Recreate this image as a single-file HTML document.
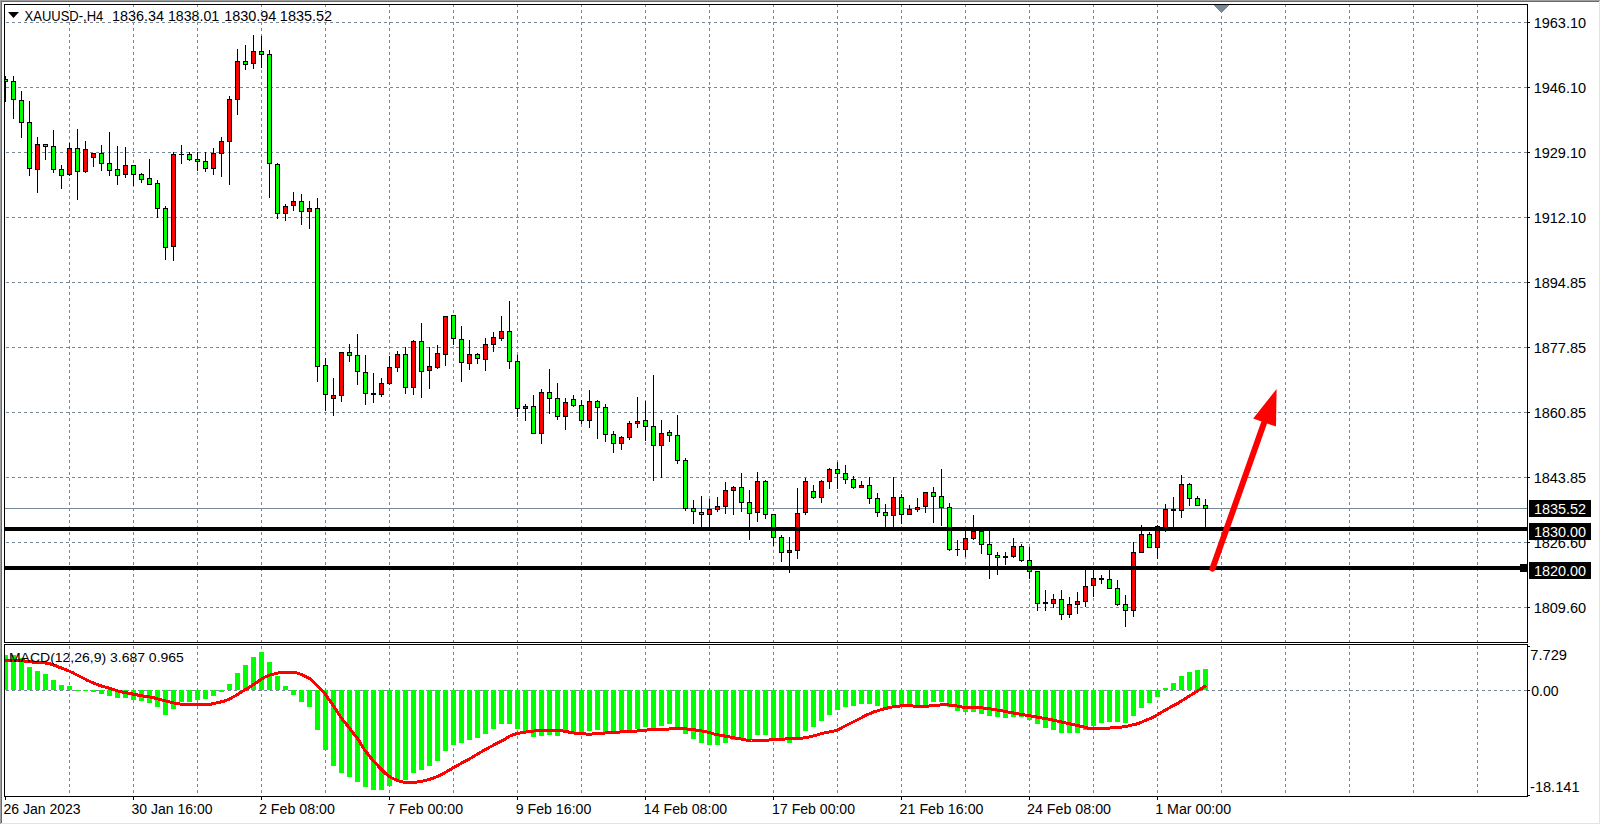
<!DOCTYPE html>
<html><head><meta charset="utf-8"><style>
html,body{margin:0;padding:0;background:#fff;width:1601px;height:825px;overflow:hidden}
svg{display:block}
text{font-family:"Liberation Sans",sans-serif}
</style></head><body>
<svg width="1601" height="825" viewBox="0 0 1601 825">
<defs><clipPath id="clipMain"><rect x="5" y="5" width="1522" height="637"/></clipPath></defs>
<rect width="1601" height="825" fill="#fff"/>
<g shape-rendering="crispEdges">
<rect x="1599" y="1" width="1" height="823" fill="#e3e3e3"/>
<rect x="1" y="823" width="1599" height="1" fill="#e3e3e3"/>
<rect x="0" y="0" width="1600" height="1" fill="#a0a0a0"/>
<rect x="0" y="0" width="1" height="824" fill="#a0a0a0"/>
<rect x="1" y="1" width="1598" height="1" fill="#696969"/>
<rect x="1" y="1" width="1" height="822" fill="#696969"/>
<path d="M69 5h1v2h-1zM69 10h1v3h-1zM69 16h1v3h-1zM69 22h1v3h-1zM69 28h1v3h-1zM69 34h1v3h-1zM69 40h1v3h-1zM69 46h1v3h-1zM69 52h1v3h-1zM69 58h1v3h-1zM69 64h1v3h-1zM69 70h1v3h-1zM69 76h1v3h-1zM69 82h1v3h-1zM69 88h1v3h-1zM69 94h1v3h-1zM69 100h1v3h-1zM69 106h1v3h-1zM69 112h1v3h-1zM69 118h1v3h-1zM69 124h1v3h-1zM69 130h1v3h-1zM69 136h1v3h-1zM69 142h1v3h-1zM69 148h1v3h-1zM69 154h1v3h-1zM69 160h1v3h-1zM69 166h1v3h-1zM69 172h1v3h-1zM69 178h1v3h-1zM69 184h1v3h-1zM69 190h1v3h-1zM69 196h1v3h-1zM69 202h1v3h-1zM69 208h1v3h-1zM69 214h1v3h-1zM69 220h1v3h-1zM69 226h1v3h-1zM69 232h1v3h-1zM69 238h1v3h-1zM69 244h1v3h-1zM69 250h1v3h-1zM69 256h1v3h-1zM69 262h1v3h-1zM69 268h1v3h-1zM69 274h1v3h-1zM69 280h1v3h-1zM69 286h1v3h-1zM69 292h1v3h-1zM69 298h1v3h-1zM69 304h1v3h-1zM69 310h1v3h-1zM69 316h1v3h-1zM69 322h1v3h-1zM69 328h1v3h-1zM69 334h1v3h-1zM69 340h1v3h-1zM69 346h1v3h-1zM69 352h1v3h-1zM69 358h1v3h-1zM69 364h1v3h-1zM69 370h1v3h-1zM69 376h1v3h-1zM69 382h1v3h-1zM69 388h1v3h-1zM69 394h1v3h-1zM69 400h1v3h-1zM69 406h1v3h-1zM69 412h1v3h-1zM69 418h1v3h-1zM69 424h1v3h-1zM69 430h1v3h-1zM69 436h1v3h-1zM69 442h1v3h-1zM69 448h1v3h-1zM69 454h1v3h-1zM69 460h1v3h-1zM69 466h1v3h-1zM69 472h1v3h-1zM69 478h1v3h-1zM69 484h1v3h-1zM69 490h1v3h-1zM69 496h1v3h-1zM69 502h1v3h-1zM69 508h1v3h-1zM69 514h1v3h-1zM69 520h1v3h-1zM69 526h1v3h-1zM69 532h1v3h-1zM69 538h1v3h-1zM69 544h1v3h-1zM69 550h1v3h-1zM69 556h1v3h-1zM69 562h1v3h-1zM69 568h1v3h-1zM69 574h1v3h-1zM69 580h1v3h-1zM69 586h1v3h-1zM69 592h1v3h-1zM69 598h1v3h-1zM69 604h1v3h-1zM69 610h1v3h-1zM69 616h1v3h-1zM69 622h1v3h-1zM69 628h1v3h-1zM69 634h1v3h-1zM69 640h1v2h-1zM69 646h1v3h-1zM69 652h1v3h-1zM69 658h1v3h-1zM69 664h1v3h-1zM69 670h1v3h-1zM69 676h1v3h-1zM69 682h1v3h-1zM69 688h1v3h-1zM69 694h1v3h-1zM69 700h1v3h-1zM69 706h1v3h-1zM69 712h1v3h-1zM69 718h1v3h-1zM69 724h1v3h-1zM69 730h1v3h-1zM69 736h1v3h-1zM69 742h1v3h-1zM69 748h1v3h-1zM69 754h1v3h-1zM69 760h1v3h-1zM69 766h1v3h-1zM69 772h1v3h-1zM69 778h1v3h-1zM69 784h1v3h-1zM69 790h1v3h-1zM133 5h1v2h-1zM133 10h1v3h-1zM133 16h1v3h-1zM133 22h1v3h-1zM133 28h1v3h-1zM133 34h1v3h-1zM133 40h1v3h-1zM133 46h1v3h-1zM133 52h1v3h-1zM133 58h1v3h-1zM133 64h1v3h-1zM133 70h1v3h-1zM133 76h1v3h-1zM133 82h1v3h-1zM133 88h1v3h-1zM133 94h1v3h-1zM133 100h1v3h-1zM133 106h1v3h-1zM133 112h1v3h-1zM133 118h1v3h-1zM133 124h1v3h-1zM133 130h1v3h-1zM133 136h1v3h-1zM133 142h1v3h-1zM133 148h1v3h-1zM133 154h1v3h-1zM133 160h1v3h-1zM133 166h1v3h-1zM133 172h1v3h-1zM133 178h1v3h-1zM133 184h1v3h-1zM133 190h1v3h-1zM133 196h1v3h-1zM133 202h1v3h-1zM133 208h1v3h-1zM133 214h1v3h-1zM133 220h1v3h-1zM133 226h1v3h-1zM133 232h1v3h-1zM133 238h1v3h-1zM133 244h1v3h-1zM133 250h1v3h-1zM133 256h1v3h-1zM133 262h1v3h-1zM133 268h1v3h-1zM133 274h1v3h-1zM133 280h1v3h-1zM133 286h1v3h-1zM133 292h1v3h-1zM133 298h1v3h-1zM133 304h1v3h-1zM133 310h1v3h-1zM133 316h1v3h-1zM133 322h1v3h-1zM133 328h1v3h-1zM133 334h1v3h-1zM133 340h1v3h-1zM133 346h1v3h-1zM133 352h1v3h-1zM133 358h1v3h-1zM133 364h1v3h-1zM133 370h1v3h-1zM133 376h1v3h-1zM133 382h1v3h-1zM133 388h1v3h-1zM133 394h1v3h-1zM133 400h1v3h-1zM133 406h1v3h-1zM133 412h1v3h-1zM133 418h1v3h-1zM133 424h1v3h-1zM133 430h1v3h-1zM133 436h1v3h-1zM133 442h1v3h-1zM133 448h1v3h-1zM133 454h1v3h-1zM133 460h1v3h-1zM133 466h1v3h-1zM133 472h1v3h-1zM133 478h1v3h-1zM133 484h1v3h-1zM133 490h1v3h-1zM133 496h1v3h-1zM133 502h1v3h-1zM133 508h1v3h-1zM133 514h1v3h-1zM133 520h1v3h-1zM133 526h1v3h-1zM133 532h1v3h-1zM133 538h1v3h-1zM133 544h1v3h-1zM133 550h1v3h-1zM133 556h1v3h-1zM133 562h1v3h-1zM133 568h1v3h-1zM133 574h1v3h-1zM133 580h1v3h-1zM133 586h1v3h-1zM133 592h1v3h-1zM133 598h1v3h-1zM133 604h1v3h-1zM133 610h1v3h-1zM133 616h1v3h-1zM133 622h1v3h-1zM133 628h1v3h-1zM133 634h1v3h-1zM133 640h1v2h-1zM133 646h1v3h-1zM133 652h1v3h-1zM133 658h1v3h-1zM133 664h1v3h-1zM133 670h1v3h-1zM133 676h1v3h-1zM133 682h1v3h-1zM133 688h1v3h-1zM133 694h1v3h-1zM133 700h1v3h-1zM133 706h1v3h-1zM133 712h1v3h-1zM133 718h1v3h-1zM133 724h1v3h-1zM133 730h1v3h-1zM133 736h1v3h-1zM133 742h1v3h-1zM133 748h1v3h-1zM133 754h1v3h-1zM133 760h1v3h-1zM133 766h1v3h-1zM133 772h1v3h-1zM133 778h1v3h-1zM133 784h1v3h-1zM133 790h1v3h-1zM197 5h1v2h-1zM197 10h1v3h-1zM197 16h1v3h-1zM197 22h1v3h-1zM197 28h1v3h-1zM197 34h1v3h-1zM197 40h1v3h-1zM197 46h1v3h-1zM197 52h1v3h-1zM197 58h1v3h-1zM197 64h1v3h-1zM197 70h1v3h-1zM197 76h1v3h-1zM197 82h1v3h-1zM197 88h1v3h-1zM197 94h1v3h-1zM197 100h1v3h-1zM197 106h1v3h-1zM197 112h1v3h-1zM197 118h1v3h-1zM197 124h1v3h-1zM197 130h1v3h-1zM197 136h1v3h-1zM197 142h1v3h-1zM197 148h1v3h-1zM197 154h1v3h-1zM197 160h1v3h-1zM197 166h1v3h-1zM197 172h1v3h-1zM197 178h1v3h-1zM197 184h1v3h-1zM197 190h1v3h-1zM197 196h1v3h-1zM197 202h1v3h-1zM197 208h1v3h-1zM197 214h1v3h-1zM197 220h1v3h-1zM197 226h1v3h-1zM197 232h1v3h-1zM197 238h1v3h-1zM197 244h1v3h-1zM197 250h1v3h-1zM197 256h1v3h-1zM197 262h1v3h-1zM197 268h1v3h-1zM197 274h1v3h-1zM197 280h1v3h-1zM197 286h1v3h-1zM197 292h1v3h-1zM197 298h1v3h-1zM197 304h1v3h-1zM197 310h1v3h-1zM197 316h1v3h-1zM197 322h1v3h-1zM197 328h1v3h-1zM197 334h1v3h-1zM197 340h1v3h-1zM197 346h1v3h-1zM197 352h1v3h-1zM197 358h1v3h-1zM197 364h1v3h-1zM197 370h1v3h-1zM197 376h1v3h-1zM197 382h1v3h-1zM197 388h1v3h-1zM197 394h1v3h-1zM197 400h1v3h-1zM197 406h1v3h-1zM197 412h1v3h-1zM197 418h1v3h-1zM197 424h1v3h-1zM197 430h1v3h-1zM197 436h1v3h-1zM197 442h1v3h-1zM197 448h1v3h-1zM197 454h1v3h-1zM197 460h1v3h-1zM197 466h1v3h-1zM197 472h1v3h-1zM197 478h1v3h-1zM197 484h1v3h-1zM197 490h1v3h-1zM197 496h1v3h-1zM197 502h1v3h-1zM197 508h1v3h-1zM197 514h1v3h-1zM197 520h1v3h-1zM197 526h1v3h-1zM197 532h1v3h-1zM197 538h1v3h-1zM197 544h1v3h-1zM197 550h1v3h-1zM197 556h1v3h-1zM197 562h1v3h-1zM197 568h1v3h-1zM197 574h1v3h-1zM197 580h1v3h-1zM197 586h1v3h-1zM197 592h1v3h-1zM197 598h1v3h-1zM197 604h1v3h-1zM197 610h1v3h-1zM197 616h1v3h-1zM197 622h1v3h-1zM197 628h1v3h-1zM197 634h1v3h-1zM197 640h1v2h-1zM197 646h1v3h-1zM197 652h1v3h-1zM197 658h1v3h-1zM197 664h1v3h-1zM197 670h1v3h-1zM197 676h1v3h-1zM197 682h1v3h-1zM197 688h1v3h-1zM197 694h1v3h-1zM197 700h1v3h-1zM197 706h1v3h-1zM197 712h1v3h-1zM197 718h1v3h-1zM197 724h1v3h-1zM197 730h1v3h-1zM197 736h1v3h-1zM197 742h1v3h-1zM197 748h1v3h-1zM197 754h1v3h-1zM197 760h1v3h-1zM197 766h1v3h-1zM197 772h1v3h-1zM197 778h1v3h-1zM197 784h1v3h-1zM197 790h1v3h-1zM261 5h1v2h-1zM261 10h1v3h-1zM261 16h1v3h-1zM261 22h1v3h-1zM261 28h1v3h-1zM261 34h1v3h-1zM261 40h1v3h-1zM261 46h1v3h-1zM261 52h1v3h-1zM261 58h1v3h-1zM261 64h1v3h-1zM261 70h1v3h-1zM261 76h1v3h-1zM261 82h1v3h-1zM261 88h1v3h-1zM261 94h1v3h-1zM261 100h1v3h-1zM261 106h1v3h-1zM261 112h1v3h-1zM261 118h1v3h-1zM261 124h1v3h-1zM261 130h1v3h-1zM261 136h1v3h-1zM261 142h1v3h-1zM261 148h1v3h-1zM261 154h1v3h-1zM261 160h1v3h-1zM261 166h1v3h-1zM261 172h1v3h-1zM261 178h1v3h-1zM261 184h1v3h-1zM261 190h1v3h-1zM261 196h1v3h-1zM261 202h1v3h-1zM261 208h1v3h-1zM261 214h1v3h-1zM261 220h1v3h-1zM261 226h1v3h-1zM261 232h1v3h-1zM261 238h1v3h-1zM261 244h1v3h-1zM261 250h1v3h-1zM261 256h1v3h-1zM261 262h1v3h-1zM261 268h1v3h-1zM261 274h1v3h-1zM261 280h1v3h-1zM261 286h1v3h-1zM261 292h1v3h-1zM261 298h1v3h-1zM261 304h1v3h-1zM261 310h1v3h-1zM261 316h1v3h-1zM261 322h1v3h-1zM261 328h1v3h-1zM261 334h1v3h-1zM261 340h1v3h-1zM261 346h1v3h-1zM261 352h1v3h-1zM261 358h1v3h-1zM261 364h1v3h-1zM261 370h1v3h-1zM261 376h1v3h-1zM261 382h1v3h-1zM261 388h1v3h-1zM261 394h1v3h-1zM261 400h1v3h-1zM261 406h1v3h-1zM261 412h1v3h-1zM261 418h1v3h-1zM261 424h1v3h-1zM261 430h1v3h-1zM261 436h1v3h-1zM261 442h1v3h-1zM261 448h1v3h-1zM261 454h1v3h-1zM261 460h1v3h-1zM261 466h1v3h-1zM261 472h1v3h-1zM261 478h1v3h-1zM261 484h1v3h-1zM261 490h1v3h-1zM261 496h1v3h-1zM261 502h1v3h-1zM261 508h1v3h-1zM261 514h1v3h-1zM261 520h1v3h-1zM261 526h1v3h-1zM261 532h1v3h-1zM261 538h1v3h-1zM261 544h1v3h-1zM261 550h1v3h-1zM261 556h1v3h-1zM261 562h1v3h-1zM261 568h1v3h-1zM261 574h1v3h-1zM261 580h1v3h-1zM261 586h1v3h-1zM261 592h1v3h-1zM261 598h1v3h-1zM261 604h1v3h-1zM261 610h1v3h-1zM261 616h1v3h-1zM261 622h1v3h-1zM261 628h1v3h-1zM261 634h1v3h-1zM261 640h1v2h-1zM261 646h1v3h-1zM261 652h1v3h-1zM261 658h1v3h-1zM261 664h1v3h-1zM261 670h1v3h-1zM261 676h1v3h-1zM261 682h1v3h-1zM261 688h1v3h-1zM261 694h1v3h-1zM261 700h1v3h-1zM261 706h1v3h-1zM261 712h1v3h-1zM261 718h1v3h-1zM261 724h1v3h-1zM261 730h1v3h-1zM261 736h1v3h-1zM261 742h1v3h-1zM261 748h1v3h-1zM261 754h1v3h-1zM261 760h1v3h-1zM261 766h1v3h-1zM261 772h1v3h-1zM261 778h1v3h-1zM261 784h1v3h-1zM261 790h1v3h-1zM325 5h1v2h-1zM325 10h1v3h-1zM325 16h1v3h-1zM325 22h1v3h-1zM325 28h1v3h-1zM325 34h1v3h-1zM325 40h1v3h-1zM325 46h1v3h-1zM325 52h1v3h-1zM325 58h1v3h-1zM325 64h1v3h-1zM325 70h1v3h-1zM325 76h1v3h-1zM325 82h1v3h-1zM325 88h1v3h-1zM325 94h1v3h-1zM325 100h1v3h-1zM325 106h1v3h-1zM325 112h1v3h-1zM325 118h1v3h-1zM325 124h1v3h-1zM325 130h1v3h-1zM325 136h1v3h-1zM325 142h1v3h-1zM325 148h1v3h-1zM325 154h1v3h-1zM325 160h1v3h-1zM325 166h1v3h-1zM325 172h1v3h-1zM325 178h1v3h-1zM325 184h1v3h-1zM325 190h1v3h-1zM325 196h1v3h-1zM325 202h1v3h-1zM325 208h1v3h-1zM325 214h1v3h-1zM325 220h1v3h-1zM325 226h1v3h-1zM325 232h1v3h-1zM325 238h1v3h-1zM325 244h1v3h-1zM325 250h1v3h-1zM325 256h1v3h-1zM325 262h1v3h-1zM325 268h1v3h-1zM325 274h1v3h-1zM325 280h1v3h-1zM325 286h1v3h-1zM325 292h1v3h-1zM325 298h1v3h-1zM325 304h1v3h-1zM325 310h1v3h-1zM325 316h1v3h-1zM325 322h1v3h-1zM325 328h1v3h-1zM325 334h1v3h-1zM325 340h1v3h-1zM325 346h1v3h-1zM325 352h1v3h-1zM325 358h1v3h-1zM325 364h1v3h-1zM325 370h1v3h-1zM325 376h1v3h-1zM325 382h1v3h-1zM325 388h1v3h-1zM325 394h1v3h-1zM325 400h1v3h-1zM325 406h1v3h-1zM325 412h1v3h-1zM325 418h1v3h-1zM325 424h1v3h-1zM325 430h1v3h-1zM325 436h1v3h-1zM325 442h1v3h-1zM325 448h1v3h-1zM325 454h1v3h-1zM325 460h1v3h-1zM325 466h1v3h-1zM325 472h1v3h-1zM325 478h1v3h-1zM325 484h1v3h-1zM325 490h1v3h-1zM325 496h1v3h-1zM325 502h1v3h-1zM325 508h1v3h-1zM325 514h1v3h-1zM325 520h1v3h-1zM325 526h1v3h-1zM325 532h1v3h-1zM325 538h1v3h-1zM325 544h1v3h-1zM325 550h1v3h-1zM325 556h1v3h-1zM325 562h1v3h-1zM325 568h1v3h-1zM325 574h1v3h-1zM325 580h1v3h-1zM325 586h1v3h-1zM325 592h1v3h-1zM325 598h1v3h-1zM325 604h1v3h-1zM325 610h1v3h-1zM325 616h1v3h-1zM325 622h1v3h-1zM325 628h1v3h-1zM325 634h1v3h-1zM325 640h1v2h-1zM325 646h1v3h-1zM325 652h1v3h-1zM325 658h1v3h-1zM325 664h1v3h-1zM325 670h1v3h-1zM325 676h1v3h-1zM325 682h1v3h-1zM325 688h1v3h-1zM325 694h1v3h-1zM325 700h1v3h-1zM325 706h1v3h-1zM325 712h1v3h-1zM325 718h1v3h-1zM325 724h1v3h-1zM325 730h1v3h-1zM325 736h1v3h-1zM325 742h1v3h-1zM325 748h1v3h-1zM325 754h1v3h-1zM325 760h1v3h-1zM325 766h1v3h-1zM325 772h1v3h-1zM325 778h1v3h-1zM325 784h1v3h-1zM325 790h1v3h-1zM389 5h1v2h-1zM389 10h1v3h-1zM389 16h1v3h-1zM389 22h1v3h-1zM389 28h1v3h-1zM389 34h1v3h-1zM389 40h1v3h-1zM389 46h1v3h-1zM389 52h1v3h-1zM389 58h1v3h-1zM389 64h1v3h-1zM389 70h1v3h-1zM389 76h1v3h-1zM389 82h1v3h-1zM389 88h1v3h-1zM389 94h1v3h-1zM389 100h1v3h-1zM389 106h1v3h-1zM389 112h1v3h-1zM389 118h1v3h-1zM389 124h1v3h-1zM389 130h1v3h-1zM389 136h1v3h-1zM389 142h1v3h-1zM389 148h1v3h-1zM389 154h1v3h-1zM389 160h1v3h-1zM389 166h1v3h-1zM389 172h1v3h-1zM389 178h1v3h-1zM389 184h1v3h-1zM389 190h1v3h-1zM389 196h1v3h-1zM389 202h1v3h-1zM389 208h1v3h-1zM389 214h1v3h-1zM389 220h1v3h-1zM389 226h1v3h-1zM389 232h1v3h-1zM389 238h1v3h-1zM389 244h1v3h-1zM389 250h1v3h-1zM389 256h1v3h-1zM389 262h1v3h-1zM389 268h1v3h-1zM389 274h1v3h-1zM389 280h1v3h-1zM389 286h1v3h-1zM389 292h1v3h-1zM389 298h1v3h-1zM389 304h1v3h-1zM389 310h1v3h-1zM389 316h1v3h-1zM389 322h1v3h-1zM389 328h1v3h-1zM389 334h1v3h-1zM389 340h1v3h-1zM389 346h1v3h-1zM389 352h1v3h-1zM389 358h1v3h-1zM389 364h1v3h-1zM389 370h1v3h-1zM389 376h1v3h-1zM389 382h1v3h-1zM389 388h1v3h-1zM389 394h1v3h-1zM389 400h1v3h-1zM389 406h1v3h-1zM389 412h1v3h-1zM389 418h1v3h-1zM389 424h1v3h-1zM389 430h1v3h-1zM389 436h1v3h-1zM389 442h1v3h-1zM389 448h1v3h-1zM389 454h1v3h-1zM389 460h1v3h-1zM389 466h1v3h-1zM389 472h1v3h-1zM389 478h1v3h-1zM389 484h1v3h-1zM389 490h1v3h-1zM389 496h1v3h-1zM389 502h1v3h-1zM389 508h1v3h-1zM389 514h1v3h-1zM389 520h1v3h-1zM389 526h1v3h-1zM389 532h1v3h-1zM389 538h1v3h-1zM389 544h1v3h-1zM389 550h1v3h-1zM389 556h1v3h-1zM389 562h1v3h-1zM389 568h1v3h-1zM389 574h1v3h-1zM389 580h1v3h-1zM389 586h1v3h-1zM389 592h1v3h-1zM389 598h1v3h-1zM389 604h1v3h-1zM389 610h1v3h-1zM389 616h1v3h-1zM389 622h1v3h-1zM389 628h1v3h-1zM389 634h1v3h-1zM389 640h1v2h-1zM389 646h1v3h-1zM389 652h1v3h-1zM389 658h1v3h-1zM389 664h1v3h-1zM389 670h1v3h-1zM389 676h1v3h-1zM389 682h1v3h-1zM389 688h1v3h-1zM389 694h1v3h-1zM389 700h1v3h-1zM389 706h1v3h-1zM389 712h1v3h-1zM389 718h1v3h-1zM389 724h1v3h-1zM389 730h1v3h-1zM389 736h1v3h-1zM389 742h1v3h-1zM389 748h1v3h-1zM389 754h1v3h-1zM389 760h1v3h-1zM389 766h1v3h-1zM389 772h1v3h-1zM389 778h1v3h-1zM389 784h1v3h-1zM389 790h1v3h-1zM453 5h1v2h-1zM453 10h1v3h-1zM453 16h1v3h-1zM453 22h1v3h-1zM453 28h1v3h-1zM453 34h1v3h-1zM453 40h1v3h-1zM453 46h1v3h-1zM453 52h1v3h-1zM453 58h1v3h-1zM453 64h1v3h-1zM453 70h1v3h-1zM453 76h1v3h-1zM453 82h1v3h-1zM453 88h1v3h-1zM453 94h1v3h-1zM453 100h1v3h-1zM453 106h1v3h-1zM453 112h1v3h-1zM453 118h1v3h-1zM453 124h1v3h-1zM453 130h1v3h-1zM453 136h1v3h-1zM453 142h1v3h-1zM453 148h1v3h-1zM453 154h1v3h-1zM453 160h1v3h-1zM453 166h1v3h-1zM453 172h1v3h-1zM453 178h1v3h-1zM453 184h1v3h-1zM453 190h1v3h-1zM453 196h1v3h-1zM453 202h1v3h-1zM453 208h1v3h-1zM453 214h1v3h-1zM453 220h1v3h-1zM453 226h1v3h-1zM453 232h1v3h-1zM453 238h1v3h-1zM453 244h1v3h-1zM453 250h1v3h-1zM453 256h1v3h-1zM453 262h1v3h-1zM453 268h1v3h-1zM453 274h1v3h-1zM453 280h1v3h-1zM453 286h1v3h-1zM453 292h1v3h-1zM453 298h1v3h-1zM453 304h1v3h-1zM453 310h1v3h-1zM453 316h1v3h-1zM453 322h1v3h-1zM453 328h1v3h-1zM453 334h1v3h-1zM453 340h1v3h-1zM453 346h1v3h-1zM453 352h1v3h-1zM453 358h1v3h-1zM453 364h1v3h-1zM453 370h1v3h-1zM453 376h1v3h-1zM453 382h1v3h-1zM453 388h1v3h-1zM453 394h1v3h-1zM453 400h1v3h-1zM453 406h1v3h-1zM453 412h1v3h-1zM453 418h1v3h-1zM453 424h1v3h-1zM453 430h1v3h-1zM453 436h1v3h-1zM453 442h1v3h-1zM453 448h1v3h-1zM453 454h1v3h-1zM453 460h1v3h-1zM453 466h1v3h-1zM453 472h1v3h-1zM453 478h1v3h-1zM453 484h1v3h-1zM453 490h1v3h-1zM453 496h1v3h-1zM453 502h1v3h-1zM453 508h1v3h-1zM453 514h1v3h-1zM453 520h1v3h-1zM453 526h1v3h-1zM453 532h1v3h-1zM453 538h1v3h-1zM453 544h1v3h-1zM453 550h1v3h-1zM453 556h1v3h-1zM453 562h1v3h-1zM453 568h1v3h-1zM453 574h1v3h-1zM453 580h1v3h-1zM453 586h1v3h-1zM453 592h1v3h-1zM453 598h1v3h-1zM453 604h1v3h-1zM453 610h1v3h-1zM453 616h1v3h-1zM453 622h1v3h-1zM453 628h1v3h-1zM453 634h1v3h-1zM453 640h1v2h-1zM453 646h1v3h-1zM453 652h1v3h-1zM453 658h1v3h-1zM453 664h1v3h-1zM453 670h1v3h-1zM453 676h1v3h-1zM453 682h1v3h-1zM453 688h1v3h-1zM453 694h1v3h-1zM453 700h1v3h-1zM453 706h1v3h-1zM453 712h1v3h-1zM453 718h1v3h-1zM453 724h1v3h-1zM453 730h1v3h-1zM453 736h1v3h-1zM453 742h1v3h-1zM453 748h1v3h-1zM453 754h1v3h-1zM453 760h1v3h-1zM453 766h1v3h-1zM453 772h1v3h-1zM453 778h1v3h-1zM453 784h1v3h-1zM453 790h1v3h-1zM517 5h1v2h-1zM517 10h1v3h-1zM517 16h1v3h-1zM517 22h1v3h-1zM517 28h1v3h-1zM517 34h1v3h-1zM517 40h1v3h-1zM517 46h1v3h-1zM517 52h1v3h-1zM517 58h1v3h-1zM517 64h1v3h-1zM517 70h1v3h-1zM517 76h1v3h-1zM517 82h1v3h-1zM517 88h1v3h-1zM517 94h1v3h-1zM517 100h1v3h-1zM517 106h1v3h-1zM517 112h1v3h-1zM517 118h1v3h-1zM517 124h1v3h-1zM517 130h1v3h-1zM517 136h1v3h-1zM517 142h1v3h-1zM517 148h1v3h-1zM517 154h1v3h-1zM517 160h1v3h-1zM517 166h1v3h-1zM517 172h1v3h-1zM517 178h1v3h-1zM517 184h1v3h-1zM517 190h1v3h-1zM517 196h1v3h-1zM517 202h1v3h-1zM517 208h1v3h-1zM517 214h1v3h-1zM517 220h1v3h-1zM517 226h1v3h-1zM517 232h1v3h-1zM517 238h1v3h-1zM517 244h1v3h-1zM517 250h1v3h-1zM517 256h1v3h-1zM517 262h1v3h-1zM517 268h1v3h-1zM517 274h1v3h-1zM517 280h1v3h-1zM517 286h1v3h-1zM517 292h1v3h-1zM517 298h1v3h-1zM517 304h1v3h-1zM517 310h1v3h-1zM517 316h1v3h-1zM517 322h1v3h-1zM517 328h1v3h-1zM517 334h1v3h-1zM517 340h1v3h-1zM517 346h1v3h-1zM517 352h1v3h-1zM517 358h1v3h-1zM517 364h1v3h-1zM517 370h1v3h-1zM517 376h1v3h-1zM517 382h1v3h-1zM517 388h1v3h-1zM517 394h1v3h-1zM517 400h1v3h-1zM517 406h1v3h-1zM517 412h1v3h-1zM517 418h1v3h-1zM517 424h1v3h-1zM517 430h1v3h-1zM517 436h1v3h-1zM517 442h1v3h-1zM517 448h1v3h-1zM517 454h1v3h-1zM517 460h1v3h-1zM517 466h1v3h-1zM517 472h1v3h-1zM517 478h1v3h-1zM517 484h1v3h-1zM517 490h1v3h-1zM517 496h1v3h-1zM517 502h1v3h-1zM517 508h1v3h-1zM517 514h1v3h-1zM517 520h1v3h-1zM517 526h1v3h-1zM517 532h1v3h-1zM517 538h1v3h-1zM517 544h1v3h-1zM517 550h1v3h-1zM517 556h1v3h-1zM517 562h1v3h-1zM517 568h1v3h-1zM517 574h1v3h-1zM517 580h1v3h-1zM517 586h1v3h-1zM517 592h1v3h-1zM517 598h1v3h-1zM517 604h1v3h-1zM517 610h1v3h-1zM517 616h1v3h-1zM517 622h1v3h-1zM517 628h1v3h-1zM517 634h1v3h-1zM517 640h1v2h-1zM517 646h1v3h-1zM517 652h1v3h-1zM517 658h1v3h-1zM517 664h1v3h-1zM517 670h1v3h-1zM517 676h1v3h-1zM517 682h1v3h-1zM517 688h1v3h-1zM517 694h1v3h-1zM517 700h1v3h-1zM517 706h1v3h-1zM517 712h1v3h-1zM517 718h1v3h-1zM517 724h1v3h-1zM517 730h1v3h-1zM517 736h1v3h-1zM517 742h1v3h-1zM517 748h1v3h-1zM517 754h1v3h-1zM517 760h1v3h-1zM517 766h1v3h-1zM517 772h1v3h-1zM517 778h1v3h-1zM517 784h1v3h-1zM517 790h1v3h-1zM581 5h1v2h-1zM581 10h1v3h-1zM581 16h1v3h-1zM581 22h1v3h-1zM581 28h1v3h-1zM581 34h1v3h-1zM581 40h1v3h-1zM581 46h1v3h-1zM581 52h1v3h-1zM581 58h1v3h-1zM581 64h1v3h-1zM581 70h1v3h-1zM581 76h1v3h-1zM581 82h1v3h-1zM581 88h1v3h-1zM581 94h1v3h-1zM581 100h1v3h-1zM581 106h1v3h-1zM581 112h1v3h-1zM581 118h1v3h-1zM581 124h1v3h-1zM581 130h1v3h-1zM581 136h1v3h-1zM581 142h1v3h-1zM581 148h1v3h-1zM581 154h1v3h-1zM581 160h1v3h-1zM581 166h1v3h-1zM581 172h1v3h-1zM581 178h1v3h-1zM581 184h1v3h-1zM581 190h1v3h-1zM581 196h1v3h-1zM581 202h1v3h-1zM581 208h1v3h-1zM581 214h1v3h-1zM581 220h1v3h-1zM581 226h1v3h-1zM581 232h1v3h-1zM581 238h1v3h-1zM581 244h1v3h-1zM581 250h1v3h-1zM581 256h1v3h-1zM581 262h1v3h-1zM581 268h1v3h-1zM581 274h1v3h-1zM581 280h1v3h-1zM581 286h1v3h-1zM581 292h1v3h-1zM581 298h1v3h-1zM581 304h1v3h-1zM581 310h1v3h-1zM581 316h1v3h-1zM581 322h1v3h-1zM581 328h1v3h-1zM581 334h1v3h-1zM581 340h1v3h-1zM581 346h1v3h-1zM581 352h1v3h-1zM581 358h1v3h-1zM581 364h1v3h-1zM581 370h1v3h-1zM581 376h1v3h-1zM581 382h1v3h-1zM581 388h1v3h-1zM581 394h1v3h-1zM581 400h1v3h-1zM581 406h1v3h-1zM581 412h1v3h-1zM581 418h1v3h-1zM581 424h1v3h-1zM581 430h1v3h-1zM581 436h1v3h-1zM581 442h1v3h-1zM581 448h1v3h-1zM581 454h1v3h-1zM581 460h1v3h-1zM581 466h1v3h-1zM581 472h1v3h-1zM581 478h1v3h-1zM581 484h1v3h-1zM581 490h1v3h-1zM581 496h1v3h-1zM581 502h1v3h-1zM581 508h1v3h-1zM581 514h1v3h-1zM581 520h1v3h-1zM581 526h1v3h-1zM581 532h1v3h-1zM581 538h1v3h-1zM581 544h1v3h-1zM581 550h1v3h-1zM581 556h1v3h-1zM581 562h1v3h-1zM581 568h1v3h-1zM581 574h1v3h-1zM581 580h1v3h-1zM581 586h1v3h-1zM581 592h1v3h-1zM581 598h1v3h-1zM581 604h1v3h-1zM581 610h1v3h-1zM581 616h1v3h-1zM581 622h1v3h-1zM581 628h1v3h-1zM581 634h1v3h-1zM581 640h1v2h-1zM581 646h1v3h-1zM581 652h1v3h-1zM581 658h1v3h-1zM581 664h1v3h-1zM581 670h1v3h-1zM581 676h1v3h-1zM581 682h1v3h-1zM581 688h1v3h-1zM581 694h1v3h-1zM581 700h1v3h-1zM581 706h1v3h-1zM581 712h1v3h-1zM581 718h1v3h-1zM581 724h1v3h-1zM581 730h1v3h-1zM581 736h1v3h-1zM581 742h1v3h-1zM581 748h1v3h-1zM581 754h1v3h-1zM581 760h1v3h-1zM581 766h1v3h-1zM581 772h1v3h-1zM581 778h1v3h-1zM581 784h1v3h-1zM581 790h1v3h-1zM645 5h1v2h-1zM645 10h1v3h-1zM645 16h1v3h-1zM645 22h1v3h-1zM645 28h1v3h-1zM645 34h1v3h-1zM645 40h1v3h-1zM645 46h1v3h-1zM645 52h1v3h-1zM645 58h1v3h-1zM645 64h1v3h-1zM645 70h1v3h-1zM645 76h1v3h-1zM645 82h1v3h-1zM645 88h1v3h-1zM645 94h1v3h-1zM645 100h1v3h-1zM645 106h1v3h-1zM645 112h1v3h-1zM645 118h1v3h-1zM645 124h1v3h-1zM645 130h1v3h-1zM645 136h1v3h-1zM645 142h1v3h-1zM645 148h1v3h-1zM645 154h1v3h-1zM645 160h1v3h-1zM645 166h1v3h-1zM645 172h1v3h-1zM645 178h1v3h-1zM645 184h1v3h-1zM645 190h1v3h-1zM645 196h1v3h-1zM645 202h1v3h-1zM645 208h1v3h-1zM645 214h1v3h-1zM645 220h1v3h-1zM645 226h1v3h-1zM645 232h1v3h-1zM645 238h1v3h-1zM645 244h1v3h-1zM645 250h1v3h-1zM645 256h1v3h-1zM645 262h1v3h-1zM645 268h1v3h-1zM645 274h1v3h-1zM645 280h1v3h-1zM645 286h1v3h-1zM645 292h1v3h-1zM645 298h1v3h-1zM645 304h1v3h-1zM645 310h1v3h-1zM645 316h1v3h-1zM645 322h1v3h-1zM645 328h1v3h-1zM645 334h1v3h-1zM645 340h1v3h-1zM645 346h1v3h-1zM645 352h1v3h-1zM645 358h1v3h-1zM645 364h1v3h-1zM645 370h1v3h-1zM645 376h1v3h-1zM645 382h1v3h-1zM645 388h1v3h-1zM645 394h1v3h-1zM645 400h1v3h-1zM645 406h1v3h-1zM645 412h1v3h-1zM645 418h1v3h-1zM645 424h1v3h-1zM645 430h1v3h-1zM645 436h1v3h-1zM645 442h1v3h-1zM645 448h1v3h-1zM645 454h1v3h-1zM645 460h1v3h-1zM645 466h1v3h-1zM645 472h1v3h-1zM645 478h1v3h-1zM645 484h1v3h-1zM645 490h1v3h-1zM645 496h1v3h-1zM645 502h1v3h-1zM645 508h1v3h-1zM645 514h1v3h-1zM645 520h1v3h-1zM645 526h1v3h-1zM645 532h1v3h-1zM645 538h1v3h-1zM645 544h1v3h-1zM645 550h1v3h-1zM645 556h1v3h-1zM645 562h1v3h-1zM645 568h1v3h-1zM645 574h1v3h-1zM645 580h1v3h-1zM645 586h1v3h-1zM645 592h1v3h-1zM645 598h1v3h-1zM645 604h1v3h-1zM645 610h1v3h-1zM645 616h1v3h-1zM645 622h1v3h-1zM645 628h1v3h-1zM645 634h1v3h-1zM645 640h1v2h-1zM645 646h1v3h-1zM645 652h1v3h-1zM645 658h1v3h-1zM645 664h1v3h-1zM645 670h1v3h-1zM645 676h1v3h-1zM645 682h1v3h-1zM645 688h1v3h-1zM645 694h1v3h-1zM645 700h1v3h-1zM645 706h1v3h-1zM645 712h1v3h-1zM645 718h1v3h-1zM645 724h1v3h-1zM645 730h1v3h-1zM645 736h1v3h-1zM645 742h1v3h-1zM645 748h1v3h-1zM645 754h1v3h-1zM645 760h1v3h-1zM645 766h1v3h-1zM645 772h1v3h-1zM645 778h1v3h-1zM645 784h1v3h-1zM645 790h1v3h-1zM709 5h1v2h-1zM709 10h1v3h-1zM709 16h1v3h-1zM709 22h1v3h-1zM709 28h1v3h-1zM709 34h1v3h-1zM709 40h1v3h-1zM709 46h1v3h-1zM709 52h1v3h-1zM709 58h1v3h-1zM709 64h1v3h-1zM709 70h1v3h-1zM709 76h1v3h-1zM709 82h1v3h-1zM709 88h1v3h-1zM709 94h1v3h-1zM709 100h1v3h-1zM709 106h1v3h-1zM709 112h1v3h-1zM709 118h1v3h-1zM709 124h1v3h-1zM709 130h1v3h-1zM709 136h1v3h-1zM709 142h1v3h-1zM709 148h1v3h-1zM709 154h1v3h-1zM709 160h1v3h-1zM709 166h1v3h-1zM709 172h1v3h-1zM709 178h1v3h-1zM709 184h1v3h-1zM709 190h1v3h-1zM709 196h1v3h-1zM709 202h1v3h-1zM709 208h1v3h-1zM709 214h1v3h-1zM709 220h1v3h-1zM709 226h1v3h-1zM709 232h1v3h-1zM709 238h1v3h-1zM709 244h1v3h-1zM709 250h1v3h-1zM709 256h1v3h-1zM709 262h1v3h-1zM709 268h1v3h-1zM709 274h1v3h-1zM709 280h1v3h-1zM709 286h1v3h-1zM709 292h1v3h-1zM709 298h1v3h-1zM709 304h1v3h-1zM709 310h1v3h-1zM709 316h1v3h-1zM709 322h1v3h-1zM709 328h1v3h-1zM709 334h1v3h-1zM709 340h1v3h-1zM709 346h1v3h-1zM709 352h1v3h-1zM709 358h1v3h-1zM709 364h1v3h-1zM709 370h1v3h-1zM709 376h1v3h-1zM709 382h1v3h-1zM709 388h1v3h-1zM709 394h1v3h-1zM709 400h1v3h-1zM709 406h1v3h-1zM709 412h1v3h-1zM709 418h1v3h-1zM709 424h1v3h-1zM709 430h1v3h-1zM709 436h1v3h-1zM709 442h1v3h-1zM709 448h1v3h-1zM709 454h1v3h-1zM709 460h1v3h-1zM709 466h1v3h-1zM709 472h1v3h-1zM709 478h1v3h-1zM709 484h1v3h-1zM709 490h1v3h-1zM709 496h1v3h-1zM709 502h1v3h-1zM709 508h1v3h-1zM709 514h1v3h-1zM709 520h1v3h-1zM709 526h1v3h-1zM709 532h1v3h-1zM709 538h1v3h-1zM709 544h1v3h-1zM709 550h1v3h-1zM709 556h1v3h-1zM709 562h1v3h-1zM709 568h1v3h-1zM709 574h1v3h-1zM709 580h1v3h-1zM709 586h1v3h-1zM709 592h1v3h-1zM709 598h1v3h-1zM709 604h1v3h-1zM709 610h1v3h-1zM709 616h1v3h-1zM709 622h1v3h-1zM709 628h1v3h-1zM709 634h1v3h-1zM709 640h1v2h-1zM709 646h1v3h-1zM709 652h1v3h-1zM709 658h1v3h-1zM709 664h1v3h-1zM709 670h1v3h-1zM709 676h1v3h-1zM709 682h1v3h-1zM709 688h1v3h-1zM709 694h1v3h-1zM709 700h1v3h-1zM709 706h1v3h-1zM709 712h1v3h-1zM709 718h1v3h-1zM709 724h1v3h-1zM709 730h1v3h-1zM709 736h1v3h-1zM709 742h1v3h-1zM709 748h1v3h-1zM709 754h1v3h-1zM709 760h1v3h-1zM709 766h1v3h-1zM709 772h1v3h-1zM709 778h1v3h-1zM709 784h1v3h-1zM709 790h1v3h-1zM773 5h1v2h-1zM773 10h1v3h-1zM773 16h1v3h-1zM773 22h1v3h-1zM773 28h1v3h-1zM773 34h1v3h-1zM773 40h1v3h-1zM773 46h1v3h-1zM773 52h1v3h-1zM773 58h1v3h-1zM773 64h1v3h-1zM773 70h1v3h-1zM773 76h1v3h-1zM773 82h1v3h-1zM773 88h1v3h-1zM773 94h1v3h-1zM773 100h1v3h-1zM773 106h1v3h-1zM773 112h1v3h-1zM773 118h1v3h-1zM773 124h1v3h-1zM773 130h1v3h-1zM773 136h1v3h-1zM773 142h1v3h-1zM773 148h1v3h-1zM773 154h1v3h-1zM773 160h1v3h-1zM773 166h1v3h-1zM773 172h1v3h-1zM773 178h1v3h-1zM773 184h1v3h-1zM773 190h1v3h-1zM773 196h1v3h-1zM773 202h1v3h-1zM773 208h1v3h-1zM773 214h1v3h-1zM773 220h1v3h-1zM773 226h1v3h-1zM773 232h1v3h-1zM773 238h1v3h-1zM773 244h1v3h-1zM773 250h1v3h-1zM773 256h1v3h-1zM773 262h1v3h-1zM773 268h1v3h-1zM773 274h1v3h-1zM773 280h1v3h-1zM773 286h1v3h-1zM773 292h1v3h-1zM773 298h1v3h-1zM773 304h1v3h-1zM773 310h1v3h-1zM773 316h1v3h-1zM773 322h1v3h-1zM773 328h1v3h-1zM773 334h1v3h-1zM773 340h1v3h-1zM773 346h1v3h-1zM773 352h1v3h-1zM773 358h1v3h-1zM773 364h1v3h-1zM773 370h1v3h-1zM773 376h1v3h-1zM773 382h1v3h-1zM773 388h1v3h-1zM773 394h1v3h-1zM773 400h1v3h-1zM773 406h1v3h-1zM773 412h1v3h-1zM773 418h1v3h-1zM773 424h1v3h-1zM773 430h1v3h-1zM773 436h1v3h-1zM773 442h1v3h-1zM773 448h1v3h-1zM773 454h1v3h-1zM773 460h1v3h-1zM773 466h1v3h-1zM773 472h1v3h-1zM773 478h1v3h-1zM773 484h1v3h-1zM773 490h1v3h-1zM773 496h1v3h-1zM773 502h1v3h-1zM773 508h1v3h-1zM773 514h1v3h-1zM773 520h1v3h-1zM773 526h1v3h-1zM773 532h1v3h-1zM773 538h1v3h-1zM773 544h1v3h-1zM773 550h1v3h-1zM773 556h1v3h-1zM773 562h1v3h-1zM773 568h1v3h-1zM773 574h1v3h-1zM773 580h1v3h-1zM773 586h1v3h-1zM773 592h1v3h-1zM773 598h1v3h-1zM773 604h1v3h-1zM773 610h1v3h-1zM773 616h1v3h-1zM773 622h1v3h-1zM773 628h1v3h-1zM773 634h1v3h-1zM773 640h1v2h-1zM773 646h1v3h-1zM773 652h1v3h-1zM773 658h1v3h-1zM773 664h1v3h-1zM773 670h1v3h-1zM773 676h1v3h-1zM773 682h1v3h-1zM773 688h1v3h-1zM773 694h1v3h-1zM773 700h1v3h-1zM773 706h1v3h-1zM773 712h1v3h-1zM773 718h1v3h-1zM773 724h1v3h-1zM773 730h1v3h-1zM773 736h1v3h-1zM773 742h1v3h-1zM773 748h1v3h-1zM773 754h1v3h-1zM773 760h1v3h-1zM773 766h1v3h-1zM773 772h1v3h-1zM773 778h1v3h-1zM773 784h1v3h-1zM773 790h1v3h-1zM837 5h1v2h-1zM837 10h1v3h-1zM837 16h1v3h-1zM837 22h1v3h-1zM837 28h1v3h-1zM837 34h1v3h-1zM837 40h1v3h-1zM837 46h1v3h-1zM837 52h1v3h-1zM837 58h1v3h-1zM837 64h1v3h-1zM837 70h1v3h-1zM837 76h1v3h-1zM837 82h1v3h-1zM837 88h1v3h-1zM837 94h1v3h-1zM837 100h1v3h-1zM837 106h1v3h-1zM837 112h1v3h-1zM837 118h1v3h-1zM837 124h1v3h-1zM837 130h1v3h-1zM837 136h1v3h-1zM837 142h1v3h-1zM837 148h1v3h-1zM837 154h1v3h-1zM837 160h1v3h-1zM837 166h1v3h-1zM837 172h1v3h-1zM837 178h1v3h-1zM837 184h1v3h-1zM837 190h1v3h-1zM837 196h1v3h-1zM837 202h1v3h-1zM837 208h1v3h-1zM837 214h1v3h-1zM837 220h1v3h-1zM837 226h1v3h-1zM837 232h1v3h-1zM837 238h1v3h-1zM837 244h1v3h-1zM837 250h1v3h-1zM837 256h1v3h-1zM837 262h1v3h-1zM837 268h1v3h-1zM837 274h1v3h-1zM837 280h1v3h-1zM837 286h1v3h-1zM837 292h1v3h-1zM837 298h1v3h-1zM837 304h1v3h-1zM837 310h1v3h-1zM837 316h1v3h-1zM837 322h1v3h-1zM837 328h1v3h-1zM837 334h1v3h-1zM837 340h1v3h-1zM837 346h1v3h-1zM837 352h1v3h-1zM837 358h1v3h-1zM837 364h1v3h-1zM837 370h1v3h-1zM837 376h1v3h-1zM837 382h1v3h-1zM837 388h1v3h-1zM837 394h1v3h-1zM837 400h1v3h-1zM837 406h1v3h-1zM837 412h1v3h-1zM837 418h1v3h-1zM837 424h1v3h-1zM837 430h1v3h-1zM837 436h1v3h-1zM837 442h1v3h-1zM837 448h1v3h-1zM837 454h1v3h-1zM837 460h1v3h-1zM837 466h1v3h-1zM837 472h1v3h-1zM837 478h1v3h-1zM837 484h1v3h-1zM837 490h1v3h-1zM837 496h1v3h-1zM837 502h1v3h-1zM837 508h1v3h-1zM837 514h1v3h-1zM837 520h1v3h-1zM837 526h1v3h-1zM837 532h1v3h-1zM837 538h1v3h-1zM837 544h1v3h-1zM837 550h1v3h-1zM837 556h1v3h-1zM837 562h1v3h-1zM837 568h1v3h-1zM837 574h1v3h-1zM837 580h1v3h-1zM837 586h1v3h-1zM837 592h1v3h-1zM837 598h1v3h-1zM837 604h1v3h-1zM837 610h1v3h-1zM837 616h1v3h-1zM837 622h1v3h-1zM837 628h1v3h-1zM837 634h1v3h-1zM837 640h1v2h-1zM837 646h1v3h-1zM837 652h1v3h-1zM837 658h1v3h-1zM837 664h1v3h-1zM837 670h1v3h-1zM837 676h1v3h-1zM837 682h1v3h-1zM837 688h1v3h-1zM837 694h1v3h-1zM837 700h1v3h-1zM837 706h1v3h-1zM837 712h1v3h-1zM837 718h1v3h-1zM837 724h1v3h-1zM837 730h1v3h-1zM837 736h1v3h-1zM837 742h1v3h-1zM837 748h1v3h-1zM837 754h1v3h-1zM837 760h1v3h-1zM837 766h1v3h-1zM837 772h1v3h-1zM837 778h1v3h-1zM837 784h1v3h-1zM837 790h1v3h-1zM901 5h1v2h-1zM901 10h1v3h-1zM901 16h1v3h-1zM901 22h1v3h-1zM901 28h1v3h-1zM901 34h1v3h-1zM901 40h1v3h-1zM901 46h1v3h-1zM901 52h1v3h-1zM901 58h1v3h-1zM901 64h1v3h-1zM901 70h1v3h-1zM901 76h1v3h-1zM901 82h1v3h-1zM901 88h1v3h-1zM901 94h1v3h-1zM901 100h1v3h-1zM901 106h1v3h-1zM901 112h1v3h-1zM901 118h1v3h-1zM901 124h1v3h-1zM901 130h1v3h-1zM901 136h1v3h-1zM901 142h1v3h-1zM901 148h1v3h-1zM901 154h1v3h-1zM901 160h1v3h-1zM901 166h1v3h-1zM901 172h1v3h-1zM901 178h1v3h-1zM901 184h1v3h-1zM901 190h1v3h-1zM901 196h1v3h-1zM901 202h1v3h-1zM901 208h1v3h-1zM901 214h1v3h-1zM901 220h1v3h-1zM901 226h1v3h-1zM901 232h1v3h-1zM901 238h1v3h-1zM901 244h1v3h-1zM901 250h1v3h-1zM901 256h1v3h-1zM901 262h1v3h-1zM901 268h1v3h-1zM901 274h1v3h-1zM901 280h1v3h-1zM901 286h1v3h-1zM901 292h1v3h-1zM901 298h1v3h-1zM901 304h1v3h-1zM901 310h1v3h-1zM901 316h1v3h-1zM901 322h1v3h-1zM901 328h1v3h-1zM901 334h1v3h-1zM901 340h1v3h-1zM901 346h1v3h-1zM901 352h1v3h-1zM901 358h1v3h-1zM901 364h1v3h-1zM901 370h1v3h-1zM901 376h1v3h-1zM901 382h1v3h-1zM901 388h1v3h-1zM901 394h1v3h-1zM901 400h1v3h-1zM901 406h1v3h-1zM901 412h1v3h-1zM901 418h1v3h-1zM901 424h1v3h-1zM901 430h1v3h-1zM901 436h1v3h-1zM901 442h1v3h-1zM901 448h1v3h-1zM901 454h1v3h-1zM901 460h1v3h-1zM901 466h1v3h-1zM901 472h1v3h-1zM901 478h1v3h-1zM901 484h1v3h-1zM901 490h1v3h-1zM901 496h1v3h-1zM901 502h1v3h-1zM901 508h1v3h-1zM901 514h1v3h-1zM901 520h1v3h-1zM901 526h1v3h-1zM901 532h1v3h-1zM901 538h1v3h-1zM901 544h1v3h-1zM901 550h1v3h-1zM901 556h1v3h-1zM901 562h1v3h-1zM901 568h1v3h-1zM901 574h1v3h-1zM901 580h1v3h-1zM901 586h1v3h-1zM901 592h1v3h-1zM901 598h1v3h-1zM901 604h1v3h-1zM901 610h1v3h-1zM901 616h1v3h-1zM901 622h1v3h-1zM901 628h1v3h-1zM901 634h1v3h-1zM901 640h1v2h-1zM901 646h1v3h-1zM901 652h1v3h-1zM901 658h1v3h-1zM901 664h1v3h-1zM901 670h1v3h-1zM901 676h1v3h-1zM901 682h1v3h-1zM901 688h1v3h-1zM901 694h1v3h-1zM901 700h1v3h-1zM901 706h1v3h-1zM901 712h1v3h-1zM901 718h1v3h-1zM901 724h1v3h-1zM901 730h1v3h-1zM901 736h1v3h-1zM901 742h1v3h-1zM901 748h1v3h-1zM901 754h1v3h-1zM901 760h1v3h-1zM901 766h1v3h-1zM901 772h1v3h-1zM901 778h1v3h-1zM901 784h1v3h-1zM901 790h1v3h-1zM965 5h1v2h-1zM965 10h1v3h-1zM965 16h1v3h-1zM965 22h1v3h-1zM965 28h1v3h-1zM965 34h1v3h-1zM965 40h1v3h-1zM965 46h1v3h-1zM965 52h1v3h-1zM965 58h1v3h-1zM965 64h1v3h-1zM965 70h1v3h-1zM965 76h1v3h-1zM965 82h1v3h-1zM965 88h1v3h-1zM965 94h1v3h-1zM965 100h1v3h-1zM965 106h1v3h-1zM965 112h1v3h-1zM965 118h1v3h-1zM965 124h1v3h-1zM965 130h1v3h-1zM965 136h1v3h-1zM965 142h1v3h-1zM965 148h1v3h-1zM965 154h1v3h-1zM965 160h1v3h-1zM965 166h1v3h-1zM965 172h1v3h-1zM965 178h1v3h-1zM965 184h1v3h-1zM965 190h1v3h-1zM965 196h1v3h-1zM965 202h1v3h-1zM965 208h1v3h-1zM965 214h1v3h-1zM965 220h1v3h-1zM965 226h1v3h-1zM965 232h1v3h-1zM965 238h1v3h-1zM965 244h1v3h-1zM965 250h1v3h-1zM965 256h1v3h-1zM965 262h1v3h-1zM965 268h1v3h-1zM965 274h1v3h-1zM965 280h1v3h-1zM965 286h1v3h-1zM965 292h1v3h-1zM965 298h1v3h-1zM965 304h1v3h-1zM965 310h1v3h-1zM965 316h1v3h-1zM965 322h1v3h-1zM965 328h1v3h-1zM965 334h1v3h-1zM965 340h1v3h-1zM965 346h1v3h-1zM965 352h1v3h-1zM965 358h1v3h-1zM965 364h1v3h-1zM965 370h1v3h-1zM965 376h1v3h-1zM965 382h1v3h-1zM965 388h1v3h-1zM965 394h1v3h-1zM965 400h1v3h-1zM965 406h1v3h-1zM965 412h1v3h-1zM965 418h1v3h-1zM965 424h1v3h-1zM965 430h1v3h-1zM965 436h1v3h-1zM965 442h1v3h-1zM965 448h1v3h-1zM965 454h1v3h-1zM965 460h1v3h-1zM965 466h1v3h-1zM965 472h1v3h-1zM965 478h1v3h-1zM965 484h1v3h-1zM965 490h1v3h-1zM965 496h1v3h-1zM965 502h1v3h-1zM965 508h1v3h-1zM965 514h1v3h-1zM965 520h1v3h-1zM965 526h1v3h-1zM965 532h1v3h-1zM965 538h1v3h-1zM965 544h1v3h-1zM965 550h1v3h-1zM965 556h1v3h-1zM965 562h1v3h-1zM965 568h1v3h-1zM965 574h1v3h-1zM965 580h1v3h-1zM965 586h1v3h-1zM965 592h1v3h-1zM965 598h1v3h-1zM965 604h1v3h-1zM965 610h1v3h-1zM965 616h1v3h-1zM965 622h1v3h-1zM965 628h1v3h-1zM965 634h1v3h-1zM965 640h1v2h-1zM965 646h1v3h-1zM965 652h1v3h-1zM965 658h1v3h-1zM965 664h1v3h-1zM965 670h1v3h-1zM965 676h1v3h-1zM965 682h1v3h-1zM965 688h1v3h-1zM965 694h1v3h-1zM965 700h1v3h-1zM965 706h1v3h-1zM965 712h1v3h-1zM965 718h1v3h-1zM965 724h1v3h-1zM965 730h1v3h-1zM965 736h1v3h-1zM965 742h1v3h-1zM965 748h1v3h-1zM965 754h1v3h-1zM965 760h1v3h-1zM965 766h1v3h-1zM965 772h1v3h-1zM965 778h1v3h-1zM965 784h1v3h-1zM965 790h1v3h-1zM1029 5h1v2h-1zM1029 10h1v3h-1zM1029 16h1v3h-1zM1029 22h1v3h-1zM1029 28h1v3h-1zM1029 34h1v3h-1zM1029 40h1v3h-1zM1029 46h1v3h-1zM1029 52h1v3h-1zM1029 58h1v3h-1zM1029 64h1v3h-1zM1029 70h1v3h-1zM1029 76h1v3h-1zM1029 82h1v3h-1zM1029 88h1v3h-1zM1029 94h1v3h-1zM1029 100h1v3h-1zM1029 106h1v3h-1zM1029 112h1v3h-1zM1029 118h1v3h-1zM1029 124h1v3h-1zM1029 130h1v3h-1zM1029 136h1v3h-1zM1029 142h1v3h-1zM1029 148h1v3h-1zM1029 154h1v3h-1zM1029 160h1v3h-1zM1029 166h1v3h-1zM1029 172h1v3h-1zM1029 178h1v3h-1zM1029 184h1v3h-1zM1029 190h1v3h-1zM1029 196h1v3h-1zM1029 202h1v3h-1zM1029 208h1v3h-1zM1029 214h1v3h-1zM1029 220h1v3h-1zM1029 226h1v3h-1zM1029 232h1v3h-1zM1029 238h1v3h-1zM1029 244h1v3h-1zM1029 250h1v3h-1zM1029 256h1v3h-1zM1029 262h1v3h-1zM1029 268h1v3h-1zM1029 274h1v3h-1zM1029 280h1v3h-1zM1029 286h1v3h-1zM1029 292h1v3h-1zM1029 298h1v3h-1zM1029 304h1v3h-1zM1029 310h1v3h-1zM1029 316h1v3h-1zM1029 322h1v3h-1zM1029 328h1v3h-1zM1029 334h1v3h-1zM1029 340h1v3h-1zM1029 346h1v3h-1zM1029 352h1v3h-1zM1029 358h1v3h-1zM1029 364h1v3h-1zM1029 370h1v3h-1zM1029 376h1v3h-1zM1029 382h1v3h-1zM1029 388h1v3h-1zM1029 394h1v3h-1zM1029 400h1v3h-1zM1029 406h1v3h-1zM1029 412h1v3h-1zM1029 418h1v3h-1zM1029 424h1v3h-1zM1029 430h1v3h-1zM1029 436h1v3h-1zM1029 442h1v3h-1zM1029 448h1v3h-1zM1029 454h1v3h-1zM1029 460h1v3h-1zM1029 466h1v3h-1zM1029 472h1v3h-1zM1029 478h1v3h-1zM1029 484h1v3h-1zM1029 490h1v3h-1zM1029 496h1v3h-1zM1029 502h1v3h-1zM1029 508h1v3h-1zM1029 514h1v3h-1zM1029 520h1v3h-1zM1029 526h1v3h-1zM1029 532h1v3h-1zM1029 538h1v3h-1zM1029 544h1v3h-1zM1029 550h1v3h-1zM1029 556h1v3h-1zM1029 562h1v3h-1zM1029 568h1v3h-1zM1029 574h1v3h-1zM1029 580h1v3h-1zM1029 586h1v3h-1zM1029 592h1v3h-1zM1029 598h1v3h-1zM1029 604h1v3h-1zM1029 610h1v3h-1zM1029 616h1v3h-1zM1029 622h1v3h-1zM1029 628h1v3h-1zM1029 634h1v3h-1zM1029 640h1v2h-1zM1029 646h1v3h-1zM1029 652h1v3h-1zM1029 658h1v3h-1zM1029 664h1v3h-1zM1029 670h1v3h-1zM1029 676h1v3h-1zM1029 682h1v3h-1zM1029 688h1v3h-1zM1029 694h1v3h-1zM1029 700h1v3h-1zM1029 706h1v3h-1zM1029 712h1v3h-1zM1029 718h1v3h-1zM1029 724h1v3h-1zM1029 730h1v3h-1zM1029 736h1v3h-1zM1029 742h1v3h-1zM1029 748h1v3h-1zM1029 754h1v3h-1zM1029 760h1v3h-1zM1029 766h1v3h-1zM1029 772h1v3h-1zM1029 778h1v3h-1zM1029 784h1v3h-1zM1029 790h1v3h-1zM1093 5h1v2h-1zM1093 10h1v3h-1zM1093 16h1v3h-1zM1093 22h1v3h-1zM1093 28h1v3h-1zM1093 34h1v3h-1zM1093 40h1v3h-1zM1093 46h1v3h-1zM1093 52h1v3h-1zM1093 58h1v3h-1zM1093 64h1v3h-1zM1093 70h1v3h-1zM1093 76h1v3h-1zM1093 82h1v3h-1zM1093 88h1v3h-1zM1093 94h1v3h-1zM1093 100h1v3h-1zM1093 106h1v3h-1zM1093 112h1v3h-1zM1093 118h1v3h-1zM1093 124h1v3h-1zM1093 130h1v3h-1zM1093 136h1v3h-1zM1093 142h1v3h-1zM1093 148h1v3h-1zM1093 154h1v3h-1zM1093 160h1v3h-1zM1093 166h1v3h-1zM1093 172h1v3h-1zM1093 178h1v3h-1zM1093 184h1v3h-1zM1093 190h1v3h-1zM1093 196h1v3h-1zM1093 202h1v3h-1zM1093 208h1v3h-1zM1093 214h1v3h-1zM1093 220h1v3h-1zM1093 226h1v3h-1zM1093 232h1v3h-1zM1093 238h1v3h-1zM1093 244h1v3h-1zM1093 250h1v3h-1zM1093 256h1v3h-1zM1093 262h1v3h-1zM1093 268h1v3h-1zM1093 274h1v3h-1zM1093 280h1v3h-1zM1093 286h1v3h-1zM1093 292h1v3h-1zM1093 298h1v3h-1zM1093 304h1v3h-1zM1093 310h1v3h-1zM1093 316h1v3h-1zM1093 322h1v3h-1zM1093 328h1v3h-1zM1093 334h1v3h-1zM1093 340h1v3h-1zM1093 346h1v3h-1zM1093 352h1v3h-1zM1093 358h1v3h-1zM1093 364h1v3h-1zM1093 370h1v3h-1zM1093 376h1v3h-1zM1093 382h1v3h-1zM1093 388h1v3h-1zM1093 394h1v3h-1zM1093 400h1v3h-1zM1093 406h1v3h-1zM1093 412h1v3h-1zM1093 418h1v3h-1zM1093 424h1v3h-1zM1093 430h1v3h-1zM1093 436h1v3h-1zM1093 442h1v3h-1zM1093 448h1v3h-1zM1093 454h1v3h-1zM1093 460h1v3h-1zM1093 466h1v3h-1zM1093 472h1v3h-1zM1093 478h1v3h-1zM1093 484h1v3h-1zM1093 490h1v3h-1zM1093 496h1v3h-1zM1093 502h1v3h-1zM1093 508h1v3h-1zM1093 514h1v3h-1zM1093 520h1v3h-1zM1093 526h1v3h-1zM1093 532h1v3h-1zM1093 538h1v3h-1zM1093 544h1v3h-1zM1093 550h1v3h-1zM1093 556h1v3h-1zM1093 562h1v3h-1zM1093 568h1v3h-1zM1093 574h1v3h-1zM1093 580h1v3h-1zM1093 586h1v3h-1zM1093 592h1v3h-1zM1093 598h1v3h-1zM1093 604h1v3h-1zM1093 610h1v3h-1zM1093 616h1v3h-1zM1093 622h1v3h-1zM1093 628h1v3h-1zM1093 634h1v3h-1zM1093 640h1v2h-1zM1093 646h1v3h-1zM1093 652h1v3h-1zM1093 658h1v3h-1zM1093 664h1v3h-1zM1093 670h1v3h-1zM1093 676h1v3h-1zM1093 682h1v3h-1zM1093 688h1v3h-1zM1093 694h1v3h-1zM1093 700h1v3h-1zM1093 706h1v3h-1zM1093 712h1v3h-1zM1093 718h1v3h-1zM1093 724h1v3h-1zM1093 730h1v3h-1zM1093 736h1v3h-1zM1093 742h1v3h-1zM1093 748h1v3h-1zM1093 754h1v3h-1zM1093 760h1v3h-1zM1093 766h1v3h-1zM1093 772h1v3h-1zM1093 778h1v3h-1zM1093 784h1v3h-1zM1093 790h1v3h-1zM1157 5h1v2h-1zM1157 10h1v3h-1zM1157 16h1v3h-1zM1157 22h1v3h-1zM1157 28h1v3h-1zM1157 34h1v3h-1zM1157 40h1v3h-1zM1157 46h1v3h-1zM1157 52h1v3h-1zM1157 58h1v3h-1zM1157 64h1v3h-1zM1157 70h1v3h-1zM1157 76h1v3h-1zM1157 82h1v3h-1zM1157 88h1v3h-1zM1157 94h1v3h-1zM1157 100h1v3h-1zM1157 106h1v3h-1zM1157 112h1v3h-1zM1157 118h1v3h-1zM1157 124h1v3h-1zM1157 130h1v3h-1zM1157 136h1v3h-1zM1157 142h1v3h-1zM1157 148h1v3h-1zM1157 154h1v3h-1zM1157 160h1v3h-1zM1157 166h1v3h-1zM1157 172h1v3h-1zM1157 178h1v3h-1zM1157 184h1v3h-1zM1157 190h1v3h-1zM1157 196h1v3h-1zM1157 202h1v3h-1zM1157 208h1v3h-1zM1157 214h1v3h-1zM1157 220h1v3h-1zM1157 226h1v3h-1zM1157 232h1v3h-1zM1157 238h1v3h-1zM1157 244h1v3h-1zM1157 250h1v3h-1zM1157 256h1v3h-1zM1157 262h1v3h-1zM1157 268h1v3h-1zM1157 274h1v3h-1zM1157 280h1v3h-1zM1157 286h1v3h-1zM1157 292h1v3h-1zM1157 298h1v3h-1zM1157 304h1v3h-1zM1157 310h1v3h-1zM1157 316h1v3h-1zM1157 322h1v3h-1zM1157 328h1v3h-1zM1157 334h1v3h-1zM1157 340h1v3h-1zM1157 346h1v3h-1zM1157 352h1v3h-1zM1157 358h1v3h-1zM1157 364h1v3h-1zM1157 370h1v3h-1zM1157 376h1v3h-1zM1157 382h1v3h-1zM1157 388h1v3h-1zM1157 394h1v3h-1zM1157 400h1v3h-1zM1157 406h1v3h-1zM1157 412h1v3h-1zM1157 418h1v3h-1zM1157 424h1v3h-1zM1157 430h1v3h-1zM1157 436h1v3h-1zM1157 442h1v3h-1zM1157 448h1v3h-1zM1157 454h1v3h-1zM1157 460h1v3h-1zM1157 466h1v3h-1zM1157 472h1v3h-1zM1157 478h1v3h-1zM1157 484h1v3h-1zM1157 490h1v3h-1zM1157 496h1v3h-1zM1157 502h1v3h-1zM1157 508h1v3h-1zM1157 514h1v3h-1zM1157 520h1v3h-1zM1157 526h1v3h-1zM1157 532h1v3h-1zM1157 538h1v3h-1zM1157 544h1v3h-1zM1157 550h1v3h-1zM1157 556h1v3h-1zM1157 562h1v3h-1zM1157 568h1v3h-1zM1157 574h1v3h-1zM1157 580h1v3h-1zM1157 586h1v3h-1zM1157 592h1v3h-1zM1157 598h1v3h-1zM1157 604h1v3h-1zM1157 610h1v3h-1zM1157 616h1v3h-1zM1157 622h1v3h-1zM1157 628h1v3h-1zM1157 634h1v3h-1zM1157 640h1v2h-1zM1157 646h1v3h-1zM1157 652h1v3h-1zM1157 658h1v3h-1zM1157 664h1v3h-1zM1157 670h1v3h-1zM1157 676h1v3h-1zM1157 682h1v3h-1zM1157 688h1v3h-1zM1157 694h1v3h-1zM1157 700h1v3h-1zM1157 706h1v3h-1zM1157 712h1v3h-1zM1157 718h1v3h-1zM1157 724h1v3h-1zM1157 730h1v3h-1zM1157 736h1v3h-1zM1157 742h1v3h-1zM1157 748h1v3h-1zM1157 754h1v3h-1zM1157 760h1v3h-1zM1157 766h1v3h-1zM1157 772h1v3h-1zM1157 778h1v3h-1zM1157 784h1v3h-1zM1157 790h1v3h-1zM1221 5h1v2h-1zM1221 10h1v3h-1zM1221 16h1v3h-1zM1221 22h1v3h-1zM1221 28h1v3h-1zM1221 34h1v3h-1zM1221 40h1v3h-1zM1221 46h1v3h-1zM1221 52h1v3h-1zM1221 58h1v3h-1zM1221 64h1v3h-1zM1221 70h1v3h-1zM1221 76h1v3h-1zM1221 82h1v3h-1zM1221 88h1v3h-1zM1221 94h1v3h-1zM1221 100h1v3h-1zM1221 106h1v3h-1zM1221 112h1v3h-1zM1221 118h1v3h-1zM1221 124h1v3h-1zM1221 130h1v3h-1zM1221 136h1v3h-1zM1221 142h1v3h-1zM1221 148h1v3h-1zM1221 154h1v3h-1zM1221 160h1v3h-1zM1221 166h1v3h-1zM1221 172h1v3h-1zM1221 178h1v3h-1zM1221 184h1v3h-1zM1221 190h1v3h-1zM1221 196h1v3h-1zM1221 202h1v3h-1zM1221 208h1v3h-1zM1221 214h1v3h-1zM1221 220h1v3h-1zM1221 226h1v3h-1zM1221 232h1v3h-1zM1221 238h1v3h-1zM1221 244h1v3h-1zM1221 250h1v3h-1zM1221 256h1v3h-1zM1221 262h1v3h-1zM1221 268h1v3h-1zM1221 274h1v3h-1zM1221 280h1v3h-1zM1221 286h1v3h-1zM1221 292h1v3h-1zM1221 298h1v3h-1zM1221 304h1v3h-1zM1221 310h1v3h-1zM1221 316h1v3h-1zM1221 322h1v3h-1zM1221 328h1v3h-1zM1221 334h1v3h-1zM1221 340h1v3h-1zM1221 346h1v3h-1zM1221 352h1v3h-1zM1221 358h1v3h-1zM1221 364h1v3h-1zM1221 370h1v3h-1zM1221 376h1v3h-1zM1221 382h1v3h-1zM1221 388h1v3h-1zM1221 394h1v3h-1zM1221 400h1v3h-1zM1221 406h1v3h-1zM1221 412h1v3h-1zM1221 418h1v3h-1zM1221 424h1v3h-1zM1221 430h1v3h-1zM1221 436h1v3h-1zM1221 442h1v3h-1zM1221 448h1v3h-1zM1221 454h1v3h-1zM1221 460h1v3h-1zM1221 466h1v3h-1zM1221 472h1v3h-1zM1221 478h1v3h-1zM1221 484h1v3h-1zM1221 490h1v3h-1zM1221 496h1v3h-1zM1221 502h1v3h-1zM1221 508h1v3h-1zM1221 514h1v3h-1zM1221 520h1v3h-1zM1221 526h1v3h-1zM1221 532h1v3h-1zM1221 538h1v3h-1zM1221 544h1v3h-1zM1221 550h1v3h-1zM1221 556h1v3h-1zM1221 562h1v3h-1zM1221 568h1v3h-1zM1221 574h1v3h-1zM1221 580h1v3h-1zM1221 586h1v3h-1zM1221 592h1v3h-1zM1221 598h1v3h-1zM1221 604h1v3h-1zM1221 610h1v3h-1zM1221 616h1v3h-1zM1221 622h1v3h-1zM1221 628h1v3h-1zM1221 634h1v3h-1zM1221 640h1v2h-1zM1221 646h1v3h-1zM1221 652h1v3h-1zM1221 658h1v3h-1zM1221 664h1v3h-1zM1221 670h1v3h-1zM1221 676h1v3h-1zM1221 682h1v3h-1zM1221 688h1v3h-1zM1221 694h1v3h-1zM1221 700h1v3h-1zM1221 706h1v3h-1zM1221 712h1v3h-1zM1221 718h1v3h-1zM1221 724h1v3h-1zM1221 730h1v3h-1zM1221 736h1v3h-1zM1221 742h1v3h-1zM1221 748h1v3h-1zM1221 754h1v3h-1zM1221 760h1v3h-1zM1221 766h1v3h-1zM1221 772h1v3h-1zM1221 778h1v3h-1zM1221 784h1v3h-1zM1221 790h1v3h-1zM1285 5h1v2h-1zM1285 10h1v3h-1zM1285 16h1v3h-1zM1285 22h1v3h-1zM1285 28h1v3h-1zM1285 34h1v3h-1zM1285 40h1v3h-1zM1285 46h1v3h-1zM1285 52h1v3h-1zM1285 58h1v3h-1zM1285 64h1v3h-1zM1285 70h1v3h-1zM1285 76h1v3h-1zM1285 82h1v3h-1zM1285 88h1v3h-1zM1285 94h1v3h-1zM1285 100h1v3h-1zM1285 106h1v3h-1zM1285 112h1v3h-1zM1285 118h1v3h-1zM1285 124h1v3h-1zM1285 130h1v3h-1zM1285 136h1v3h-1zM1285 142h1v3h-1zM1285 148h1v3h-1zM1285 154h1v3h-1zM1285 160h1v3h-1zM1285 166h1v3h-1zM1285 172h1v3h-1zM1285 178h1v3h-1zM1285 184h1v3h-1zM1285 190h1v3h-1zM1285 196h1v3h-1zM1285 202h1v3h-1zM1285 208h1v3h-1zM1285 214h1v3h-1zM1285 220h1v3h-1zM1285 226h1v3h-1zM1285 232h1v3h-1zM1285 238h1v3h-1zM1285 244h1v3h-1zM1285 250h1v3h-1zM1285 256h1v3h-1zM1285 262h1v3h-1zM1285 268h1v3h-1zM1285 274h1v3h-1zM1285 280h1v3h-1zM1285 286h1v3h-1zM1285 292h1v3h-1zM1285 298h1v3h-1zM1285 304h1v3h-1zM1285 310h1v3h-1zM1285 316h1v3h-1zM1285 322h1v3h-1zM1285 328h1v3h-1zM1285 334h1v3h-1zM1285 340h1v3h-1zM1285 346h1v3h-1zM1285 352h1v3h-1zM1285 358h1v3h-1zM1285 364h1v3h-1zM1285 370h1v3h-1zM1285 376h1v3h-1zM1285 382h1v3h-1zM1285 388h1v3h-1zM1285 394h1v3h-1zM1285 400h1v3h-1zM1285 406h1v3h-1zM1285 412h1v3h-1zM1285 418h1v3h-1zM1285 424h1v3h-1zM1285 430h1v3h-1zM1285 436h1v3h-1zM1285 442h1v3h-1zM1285 448h1v3h-1zM1285 454h1v3h-1zM1285 460h1v3h-1zM1285 466h1v3h-1zM1285 472h1v3h-1zM1285 478h1v3h-1zM1285 484h1v3h-1zM1285 490h1v3h-1zM1285 496h1v3h-1zM1285 502h1v3h-1zM1285 508h1v3h-1zM1285 514h1v3h-1zM1285 520h1v3h-1zM1285 526h1v3h-1zM1285 532h1v3h-1zM1285 538h1v3h-1zM1285 544h1v3h-1zM1285 550h1v3h-1zM1285 556h1v3h-1zM1285 562h1v3h-1zM1285 568h1v3h-1zM1285 574h1v3h-1zM1285 580h1v3h-1zM1285 586h1v3h-1zM1285 592h1v3h-1zM1285 598h1v3h-1zM1285 604h1v3h-1zM1285 610h1v3h-1zM1285 616h1v3h-1zM1285 622h1v3h-1zM1285 628h1v3h-1zM1285 634h1v3h-1zM1285 640h1v2h-1zM1285 646h1v3h-1zM1285 652h1v3h-1zM1285 658h1v3h-1zM1285 664h1v3h-1zM1285 670h1v3h-1zM1285 676h1v3h-1zM1285 682h1v3h-1zM1285 688h1v3h-1zM1285 694h1v3h-1zM1285 700h1v3h-1zM1285 706h1v3h-1zM1285 712h1v3h-1zM1285 718h1v3h-1zM1285 724h1v3h-1zM1285 730h1v3h-1zM1285 736h1v3h-1zM1285 742h1v3h-1zM1285 748h1v3h-1zM1285 754h1v3h-1zM1285 760h1v3h-1zM1285 766h1v3h-1zM1285 772h1v3h-1zM1285 778h1v3h-1zM1285 784h1v3h-1zM1285 790h1v3h-1zM1349 5h1v2h-1zM1349 10h1v3h-1zM1349 16h1v3h-1zM1349 22h1v3h-1zM1349 28h1v3h-1zM1349 34h1v3h-1zM1349 40h1v3h-1zM1349 46h1v3h-1zM1349 52h1v3h-1zM1349 58h1v3h-1zM1349 64h1v3h-1zM1349 70h1v3h-1zM1349 76h1v3h-1zM1349 82h1v3h-1zM1349 88h1v3h-1zM1349 94h1v3h-1zM1349 100h1v3h-1zM1349 106h1v3h-1zM1349 112h1v3h-1zM1349 118h1v3h-1zM1349 124h1v3h-1zM1349 130h1v3h-1zM1349 136h1v3h-1zM1349 142h1v3h-1zM1349 148h1v3h-1zM1349 154h1v3h-1zM1349 160h1v3h-1zM1349 166h1v3h-1zM1349 172h1v3h-1zM1349 178h1v3h-1zM1349 184h1v3h-1zM1349 190h1v3h-1zM1349 196h1v3h-1zM1349 202h1v3h-1zM1349 208h1v3h-1zM1349 214h1v3h-1zM1349 220h1v3h-1zM1349 226h1v3h-1zM1349 232h1v3h-1zM1349 238h1v3h-1zM1349 244h1v3h-1zM1349 250h1v3h-1zM1349 256h1v3h-1zM1349 262h1v3h-1zM1349 268h1v3h-1zM1349 274h1v3h-1zM1349 280h1v3h-1zM1349 286h1v3h-1zM1349 292h1v3h-1zM1349 298h1v3h-1zM1349 304h1v3h-1zM1349 310h1v3h-1zM1349 316h1v3h-1zM1349 322h1v3h-1zM1349 328h1v3h-1zM1349 334h1v3h-1zM1349 340h1v3h-1zM1349 346h1v3h-1zM1349 352h1v3h-1zM1349 358h1v3h-1zM1349 364h1v3h-1zM1349 370h1v3h-1zM1349 376h1v3h-1zM1349 382h1v3h-1zM1349 388h1v3h-1zM1349 394h1v3h-1zM1349 400h1v3h-1zM1349 406h1v3h-1zM1349 412h1v3h-1zM1349 418h1v3h-1zM1349 424h1v3h-1zM1349 430h1v3h-1zM1349 436h1v3h-1zM1349 442h1v3h-1zM1349 448h1v3h-1zM1349 454h1v3h-1zM1349 460h1v3h-1zM1349 466h1v3h-1zM1349 472h1v3h-1zM1349 478h1v3h-1zM1349 484h1v3h-1zM1349 490h1v3h-1zM1349 496h1v3h-1zM1349 502h1v3h-1zM1349 508h1v3h-1zM1349 514h1v3h-1zM1349 520h1v3h-1zM1349 526h1v3h-1zM1349 532h1v3h-1zM1349 538h1v3h-1zM1349 544h1v3h-1zM1349 550h1v3h-1zM1349 556h1v3h-1zM1349 562h1v3h-1zM1349 568h1v3h-1zM1349 574h1v3h-1zM1349 580h1v3h-1zM1349 586h1v3h-1zM1349 592h1v3h-1zM1349 598h1v3h-1zM1349 604h1v3h-1zM1349 610h1v3h-1zM1349 616h1v3h-1zM1349 622h1v3h-1zM1349 628h1v3h-1zM1349 634h1v3h-1zM1349 640h1v2h-1zM1349 646h1v3h-1zM1349 652h1v3h-1zM1349 658h1v3h-1zM1349 664h1v3h-1zM1349 670h1v3h-1zM1349 676h1v3h-1zM1349 682h1v3h-1zM1349 688h1v3h-1zM1349 694h1v3h-1zM1349 700h1v3h-1zM1349 706h1v3h-1zM1349 712h1v3h-1zM1349 718h1v3h-1zM1349 724h1v3h-1zM1349 730h1v3h-1zM1349 736h1v3h-1zM1349 742h1v3h-1zM1349 748h1v3h-1zM1349 754h1v3h-1zM1349 760h1v3h-1zM1349 766h1v3h-1zM1349 772h1v3h-1zM1349 778h1v3h-1zM1349 784h1v3h-1zM1349 790h1v3h-1zM1413 5h1v2h-1zM1413 10h1v3h-1zM1413 16h1v3h-1zM1413 22h1v3h-1zM1413 28h1v3h-1zM1413 34h1v3h-1zM1413 40h1v3h-1zM1413 46h1v3h-1zM1413 52h1v3h-1zM1413 58h1v3h-1zM1413 64h1v3h-1zM1413 70h1v3h-1zM1413 76h1v3h-1zM1413 82h1v3h-1zM1413 88h1v3h-1zM1413 94h1v3h-1zM1413 100h1v3h-1zM1413 106h1v3h-1zM1413 112h1v3h-1zM1413 118h1v3h-1zM1413 124h1v3h-1zM1413 130h1v3h-1zM1413 136h1v3h-1zM1413 142h1v3h-1zM1413 148h1v3h-1zM1413 154h1v3h-1zM1413 160h1v3h-1zM1413 166h1v3h-1zM1413 172h1v3h-1zM1413 178h1v3h-1zM1413 184h1v3h-1zM1413 190h1v3h-1zM1413 196h1v3h-1zM1413 202h1v3h-1zM1413 208h1v3h-1zM1413 214h1v3h-1zM1413 220h1v3h-1zM1413 226h1v3h-1zM1413 232h1v3h-1zM1413 238h1v3h-1zM1413 244h1v3h-1zM1413 250h1v3h-1zM1413 256h1v3h-1zM1413 262h1v3h-1zM1413 268h1v3h-1zM1413 274h1v3h-1zM1413 280h1v3h-1zM1413 286h1v3h-1zM1413 292h1v3h-1zM1413 298h1v3h-1zM1413 304h1v3h-1zM1413 310h1v3h-1zM1413 316h1v3h-1zM1413 322h1v3h-1zM1413 328h1v3h-1zM1413 334h1v3h-1zM1413 340h1v3h-1zM1413 346h1v3h-1zM1413 352h1v3h-1zM1413 358h1v3h-1zM1413 364h1v3h-1zM1413 370h1v3h-1zM1413 376h1v3h-1zM1413 382h1v3h-1zM1413 388h1v3h-1zM1413 394h1v3h-1zM1413 400h1v3h-1zM1413 406h1v3h-1zM1413 412h1v3h-1zM1413 418h1v3h-1zM1413 424h1v3h-1zM1413 430h1v3h-1zM1413 436h1v3h-1zM1413 442h1v3h-1zM1413 448h1v3h-1zM1413 454h1v3h-1zM1413 460h1v3h-1zM1413 466h1v3h-1zM1413 472h1v3h-1zM1413 478h1v3h-1zM1413 484h1v3h-1zM1413 490h1v3h-1zM1413 496h1v3h-1zM1413 502h1v3h-1zM1413 508h1v3h-1zM1413 514h1v3h-1zM1413 520h1v3h-1zM1413 526h1v3h-1zM1413 532h1v3h-1zM1413 538h1v3h-1zM1413 544h1v3h-1zM1413 550h1v3h-1zM1413 556h1v3h-1zM1413 562h1v3h-1zM1413 568h1v3h-1zM1413 574h1v3h-1zM1413 580h1v3h-1zM1413 586h1v3h-1zM1413 592h1v3h-1zM1413 598h1v3h-1zM1413 604h1v3h-1zM1413 610h1v3h-1zM1413 616h1v3h-1zM1413 622h1v3h-1zM1413 628h1v3h-1zM1413 634h1v3h-1zM1413 640h1v2h-1zM1413 646h1v3h-1zM1413 652h1v3h-1zM1413 658h1v3h-1zM1413 664h1v3h-1zM1413 670h1v3h-1zM1413 676h1v3h-1zM1413 682h1v3h-1zM1413 688h1v3h-1zM1413 694h1v3h-1zM1413 700h1v3h-1zM1413 706h1v3h-1zM1413 712h1v3h-1zM1413 718h1v3h-1zM1413 724h1v3h-1zM1413 730h1v3h-1zM1413 736h1v3h-1zM1413 742h1v3h-1zM1413 748h1v3h-1zM1413 754h1v3h-1zM1413 760h1v3h-1zM1413 766h1v3h-1zM1413 772h1v3h-1zM1413 778h1v3h-1zM1413 784h1v3h-1zM1413 790h1v3h-1zM1477 5h1v2h-1zM1477 10h1v3h-1zM1477 16h1v3h-1zM1477 22h1v3h-1zM1477 28h1v3h-1zM1477 34h1v3h-1zM1477 40h1v3h-1zM1477 46h1v3h-1zM1477 52h1v3h-1zM1477 58h1v3h-1zM1477 64h1v3h-1zM1477 70h1v3h-1zM1477 76h1v3h-1zM1477 82h1v3h-1zM1477 88h1v3h-1zM1477 94h1v3h-1zM1477 100h1v3h-1zM1477 106h1v3h-1zM1477 112h1v3h-1zM1477 118h1v3h-1zM1477 124h1v3h-1zM1477 130h1v3h-1zM1477 136h1v3h-1zM1477 142h1v3h-1zM1477 148h1v3h-1zM1477 154h1v3h-1zM1477 160h1v3h-1zM1477 166h1v3h-1zM1477 172h1v3h-1zM1477 178h1v3h-1zM1477 184h1v3h-1zM1477 190h1v3h-1zM1477 196h1v3h-1zM1477 202h1v3h-1zM1477 208h1v3h-1zM1477 214h1v3h-1zM1477 220h1v3h-1zM1477 226h1v3h-1zM1477 232h1v3h-1zM1477 238h1v3h-1zM1477 244h1v3h-1zM1477 250h1v3h-1zM1477 256h1v3h-1zM1477 262h1v3h-1zM1477 268h1v3h-1zM1477 274h1v3h-1zM1477 280h1v3h-1zM1477 286h1v3h-1zM1477 292h1v3h-1zM1477 298h1v3h-1zM1477 304h1v3h-1zM1477 310h1v3h-1zM1477 316h1v3h-1zM1477 322h1v3h-1zM1477 328h1v3h-1zM1477 334h1v3h-1zM1477 340h1v3h-1zM1477 346h1v3h-1zM1477 352h1v3h-1zM1477 358h1v3h-1zM1477 364h1v3h-1zM1477 370h1v3h-1zM1477 376h1v3h-1zM1477 382h1v3h-1zM1477 388h1v3h-1zM1477 394h1v3h-1zM1477 400h1v3h-1zM1477 406h1v3h-1zM1477 412h1v3h-1zM1477 418h1v3h-1zM1477 424h1v3h-1zM1477 430h1v3h-1zM1477 436h1v3h-1zM1477 442h1v3h-1zM1477 448h1v3h-1zM1477 454h1v3h-1zM1477 460h1v3h-1zM1477 466h1v3h-1zM1477 472h1v3h-1zM1477 478h1v3h-1zM1477 484h1v3h-1zM1477 490h1v3h-1zM1477 496h1v3h-1zM1477 502h1v3h-1zM1477 508h1v3h-1zM1477 514h1v3h-1zM1477 520h1v3h-1zM1477 526h1v3h-1zM1477 532h1v3h-1zM1477 538h1v3h-1zM1477 544h1v3h-1zM1477 550h1v3h-1zM1477 556h1v3h-1zM1477 562h1v3h-1zM1477 568h1v3h-1zM1477 574h1v3h-1zM1477 580h1v3h-1zM1477 586h1v3h-1zM1477 592h1v3h-1zM1477 598h1v3h-1zM1477 604h1v3h-1zM1477 610h1v3h-1zM1477 616h1v3h-1zM1477 622h1v3h-1zM1477 628h1v3h-1zM1477 634h1v3h-1zM1477 640h1v2h-1zM1477 646h1v3h-1zM1477 652h1v3h-1zM1477 658h1v3h-1zM1477 664h1v3h-1zM1477 670h1v3h-1zM1477 676h1v3h-1zM1477 682h1v3h-1zM1477 688h1v3h-1zM1477 694h1v3h-1zM1477 700h1v3h-1zM1477 706h1v3h-1zM1477 712h1v3h-1zM1477 718h1v3h-1zM1477 724h1v3h-1zM1477 730h1v3h-1zM1477 736h1v3h-1zM1477 742h1v3h-1zM1477 748h1v3h-1zM1477 754h1v3h-1zM1477 760h1v3h-1zM1477 766h1v3h-1zM1477 772h1v3h-1zM1477 778h1v3h-1zM1477 784h1v3h-1zM1477 790h1v3h-1zM6 22h3v1h-3zM12 22h3v1h-3zM18 22h3v1h-3zM24 22h3v1h-3zM30 22h3v1h-3zM36 22h3v1h-3zM42 22h3v1h-3zM48 22h3v1h-3zM54 22h3v1h-3zM60 22h3v1h-3zM66 22h3v1h-3zM72 22h3v1h-3zM78 22h3v1h-3zM84 22h3v1h-3zM90 22h3v1h-3zM96 22h3v1h-3zM102 22h3v1h-3zM108 22h3v1h-3zM114 22h3v1h-3zM120 22h3v1h-3zM126 22h3v1h-3zM132 22h3v1h-3zM138 22h3v1h-3zM144 22h3v1h-3zM150 22h3v1h-3zM156 22h3v1h-3zM162 22h3v1h-3zM168 22h3v1h-3zM174 22h3v1h-3zM180 22h3v1h-3zM186 22h3v1h-3zM192 22h3v1h-3zM198 22h3v1h-3zM204 22h3v1h-3zM210 22h3v1h-3zM216 22h3v1h-3zM222 22h3v1h-3zM228 22h3v1h-3zM234 22h3v1h-3zM240 22h3v1h-3zM246 22h3v1h-3zM252 22h3v1h-3zM258 22h3v1h-3zM264 22h3v1h-3zM270 22h3v1h-3zM276 22h3v1h-3zM282 22h3v1h-3zM288 22h3v1h-3zM294 22h3v1h-3zM300 22h3v1h-3zM306 22h3v1h-3zM312 22h3v1h-3zM318 22h3v1h-3zM324 22h3v1h-3zM330 22h3v1h-3zM336 22h3v1h-3zM342 22h3v1h-3zM348 22h3v1h-3zM354 22h3v1h-3zM360 22h3v1h-3zM366 22h3v1h-3zM372 22h3v1h-3zM378 22h3v1h-3zM384 22h3v1h-3zM390 22h3v1h-3zM396 22h3v1h-3zM402 22h3v1h-3zM408 22h3v1h-3zM414 22h3v1h-3zM420 22h3v1h-3zM426 22h3v1h-3zM432 22h3v1h-3zM438 22h3v1h-3zM444 22h3v1h-3zM450 22h3v1h-3zM456 22h3v1h-3zM462 22h3v1h-3zM468 22h3v1h-3zM474 22h3v1h-3zM480 22h3v1h-3zM486 22h3v1h-3zM492 22h3v1h-3zM498 22h3v1h-3zM504 22h3v1h-3zM510 22h3v1h-3zM516 22h3v1h-3zM522 22h3v1h-3zM528 22h3v1h-3zM534 22h3v1h-3zM540 22h3v1h-3zM546 22h3v1h-3zM552 22h3v1h-3zM558 22h3v1h-3zM564 22h3v1h-3zM570 22h3v1h-3zM576 22h3v1h-3zM582 22h3v1h-3zM588 22h3v1h-3zM594 22h3v1h-3zM600 22h3v1h-3zM606 22h3v1h-3zM612 22h3v1h-3zM618 22h3v1h-3zM624 22h3v1h-3zM630 22h3v1h-3zM636 22h3v1h-3zM642 22h3v1h-3zM648 22h3v1h-3zM654 22h3v1h-3zM660 22h3v1h-3zM666 22h3v1h-3zM672 22h3v1h-3zM678 22h3v1h-3zM684 22h3v1h-3zM690 22h3v1h-3zM696 22h3v1h-3zM702 22h3v1h-3zM708 22h3v1h-3zM714 22h3v1h-3zM720 22h3v1h-3zM726 22h3v1h-3zM732 22h3v1h-3zM738 22h3v1h-3zM744 22h3v1h-3zM750 22h3v1h-3zM756 22h3v1h-3zM762 22h3v1h-3zM768 22h3v1h-3zM774 22h3v1h-3zM780 22h3v1h-3zM786 22h3v1h-3zM792 22h3v1h-3zM798 22h3v1h-3zM804 22h3v1h-3zM810 22h3v1h-3zM816 22h3v1h-3zM822 22h3v1h-3zM828 22h3v1h-3zM834 22h3v1h-3zM840 22h3v1h-3zM846 22h3v1h-3zM852 22h3v1h-3zM858 22h3v1h-3zM864 22h3v1h-3zM870 22h3v1h-3zM876 22h3v1h-3zM882 22h3v1h-3zM888 22h3v1h-3zM894 22h3v1h-3zM900 22h3v1h-3zM906 22h3v1h-3zM912 22h3v1h-3zM918 22h3v1h-3zM924 22h3v1h-3zM930 22h3v1h-3zM936 22h3v1h-3zM942 22h3v1h-3zM948 22h3v1h-3zM954 22h3v1h-3zM960 22h3v1h-3zM966 22h3v1h-3zM972 22h3v1h-3zM978 22h3v1h-3zM984 22h3v1h-3zM990 22h3v1h-3zM996 22h3v1h-3zM1002 22h3v1h-3zM1008 22h3v1h-3zM1014 22h3v1h-3zM1020 22h3v1h-3zM1026 22h3v1h-3zM1032 22h3v1h-3zM1038 22h3v1h-3zM1044 22h3v1h-3zM1050 22h3v1h-3zM1056 22h3v1h-3zM1062 22h3v1h-3zM1068 22h3v1h-3zM1074 22h3v1h-3zM1080 22h3v1h-3zM1086 22h3v1h-3zM1092 22h3v1h-3zM1098 22h3v1h-3zM1104 22h3v1h-3zM1110 22h3v1h-3zM1116 22h3v1h-3zM1122 22h3v1h-3zM1128 22h3v1h-3zM1134 22h3v1h-3zM1140 22h3v1h-3zM1146 22h3v1h-3zM1152 22h3v1h-3zM1158 22h3v1h-3zM1164 22h3v1h-3zM1170 22h3v1h-3zM1176 22h3v1h-3zM1182 22h3v1h-3zM1188 22h3v1h-3zM1194 22h3v1h-3zM1200 22h3v1h-3zM1206 22h3v1h-3zM1212 22h3v1h-3zM1218 22h3v1h-3zM1224 22h3v1h-3zM1230 22h3v1h-3zM1236 22h3v1h-3zM1242 22h3v1h-3zM1248 22h3v1h-3zM1254 22h3v1h-3zM1260 22h3v1h-3zM1266 22h3v1h-3zM1272 22h3v1h-3zM1278 22h3v1h-3zM1284 22h3v1h-3zM1290 22h3v1h-3zM1296 22h3v1h-3zM1302 22h3v1h-3zM1308 22h3v1h-3zM1314 22h3v1h-3zM1320 22h3v1h-3zM1326 22h3v1h-3zM1332 22h3v1h-3zM1338 22h3v1h-3zM1344 22h3v1h-3zM1350 22h3v1h-3zM1356 22h3v1h-3zM1362 22h3v1h-3zM1368 22h3v1h-3zM1374 22h3v1h-3zM1380 22h3v1h-3zM1386 22h3v1h-3zM1392 22h3v1h-3zM1398 22h3v1h-3zM1404 22h3v1h-3zM1410 22h3v1h-3zM1416 22h3v1h-3zM1422 22h3v1h-3zM1428 22h3v1h-3zM1434 22h3v1h-3zM1440 22h3v1h-3zM1446 22h3v1h-3zM1452 22h3v1h-3zM1458 22h3v1h-3zM1464 22h3v1h-3zM1470 22h3v1h-3zM1476 22h3v1h-3zM1482 22h3v1h-3zM1488 22h3v1h-3zM1494 22h3v1h-3zM1500 22h3v1h-3zM1506 22h3v1h-3zM1512 22h3v1h-3zM1518 22h3v1h-3zM1524 22h3v1h-3zM6 87h3v1h-3zM12 87h3v1h-3zM18 87h3v1h-3zM24 87h3v1h-3zM30 87h3v1h-3zM36 87h3v1h-3zM42 87h3v1h-3zM48 87h3v1h-3zM54 87h3v1h-3zM60 87h3v1h-3zM66 87h3v1h-3zM72 87h3v1h-3zM78 87h3v1h-3zM84 87h3v1h-3zM90 87h3v1h-3zM96 87h3v1h-3zM102 87h3v1h-3zM108 87h3v1h-3zM114 87h3v1h-3zM120 87h3v1h-3zM126 87h3v1h-3zM132 87h3v1h-3zM138 87h3v1h-3zM144 87h3v1h-3zM150 87h3v1h-3zM156 87h3v1h-3zM162 87h3v1h-3zM168 87h3v1h-3zM174 87h3v1h-3zM180 87h3v1h-3zM186 87h3v1h-3zM192 87h3v1h-3zM198 87h3v1h-3zM204 87h3v1h-3zM210 87h3v1h-3zM216 87h3v1h-3zM222 87h3v1h-3zM228 87h3v1h-3zM234 87h3v1h-3zM240 87h3v1h-3zM246 87h3v1h-3zM252 87h3v1h-3zM258 87h3v1h-3zM264 87h3v1h-3zM270 87h3v1h-3zM276 87h3v1h-3zM282 87h3v1h-3zM288 87h3v1h-3zM294 87h3v1h-3zM300 87h3v1h-3zM306 87h3v1h-3zM312 87h3v1h-3zM318 87h3v1h-3zM324 87h3v1h-3zM330 87h3v1h-3zM336 87h3v1h-3zM342 87h3v1h-3zM348 87h3v1h-3zM354 87h3v1h-3zM360 87h3v1h-3zM366 87h3v1h-3zM372 87h3v1h-3zM378 87h3v1h-3zM384 87h3v1h-3zM390 87h3v1h-3zM396 87h3v1h-3zM402 87h3v1h-3zM408 87h3v1h-3zM414 87h3v1h-3zM420 87h3v1h-3zM426 87h3v1h-3zM432 87h3v1h-3zM438 87h3v1h-3zM444 87h3v1h-3zM450 87h3v1h-3zM456 87h3v1h-3zM462 87h3v1h-3zM468 87h3v1h-3zM474 87h3v1h-3zM480 87h3v1h-3zM486 87h3v1h-3zM492 87h3v1h-3zM498 87h3v1h-3zM504 87h3v1h-3zM510 87h3v1h-3zM516 87h3v1h-3zM522 87h3v1h-3zM528 87h3v1h-3zM534 87h3v1h-3zM540 87h3v1h-3zM546 87h3v1h-3zM552 87h3v1h-3zM558 87h3v1h-3zM564 87h3v1h-3zM570 87h3v1h-3zM576 87h3v1h-3zM582 87h3v1h-3zM588 87h3v1h-3zM594 87h3v1h-3zM600 87h3v1h-3zM606 87h3v1h-3zM612 87h3v1h-3zM618 87h3v1h-3zM624 87h3v1h-3zM630 87h3v1h-3zM636 87h3v1h-3zM642 87h3v1h-3zM648 87h3v1h-3zM654 87h3v1h-3zM660 87h3v1h-3zM666 87h3v1h-3zM672 87h3v1h-3zM678 87h3v1h-3zM684 87h3v1h-3zM690 87h3v1h-3zM696 87h3v1h-3zM702 87h3v1h-3zM708 87h3v1h-3zM714 87h3v1h-3zM720 87h3v1h-3zM726 87h3v1h-3zM732 87h3v1h-3zM738 87h3v1h-3zM744 87h3v1h-3zM750 87h3v1h-3zM756 87h3v1h-3zM762 87h3v1h-3zM768 87h3v1h-3zM774 87h3v1h-3zM780 87h3v1h-3zM786 87h3v1h-3zM792 87h3v1h-3zM798 87h3v1h-3zM804 87h3v1h-3zM810 87h3v1h-3zM816 87h3v1h-3zM822 87h3v1h-3zM828 87h3v1h-3zM834 87h3v1h-3zM840 87h3v1h-3zM846 87h3v1h-3zM852 87h3v1h-3zM858 87h3v1h-3zM864 87h3v1h-3zM870 87h3v1h-3zM876 87h3v1h-3zM882 87h3v1h-3zM888 87h3v1h-3zM894 87h3v1h-3zM900 87h3v1h-3zM906 87h3v1h-3zM912 87h3v1h-3zM918 87h3v1h-3zM924 87h3v1h-3zM930 87h3v1h-3zM936 87h3v1h-3zM942 87h3v1h-3zM948 87h3v1h-3zM954 87h3v1h-3zM960 87h3v1h-3zM966 87h3v1h-3zM972 87h3v1h-3zM978 87h3v1h-3zM984 87h3v1h-3zM990 87h3v1h-3zM996 87h3v1h-3zM1002 87h3v1h-3zM1008 87h3v1h-3zM1014 87h3v1h-3zM1020 87h3v1h-3zM1026 87h3v1h-3zM1032 87h3v1h-3zM1038 87h3v1h-3zM1044 87h3v1h-3zM1050 87h3v1h-3zM1056 87h3v1h-3zM1062 87h3v1h-3zM1068 87h3v1h-3zM1074 87h3v1h-3zM1080 87h3v1h-3zM1086 87h3v1h-3zM1092 87h3v1h-3zM1098 87h3v1h-3zM1104 87h3v1h-3zM1110 87h3v1h-3zM1116 87h3v1h-3zM1122 87h3v1h-3zM1128 87h3v1h-3zM1134 87h3v1h-3zM1140 87h3v1h-3zM1146 87h3v1h-3zM1152 87h3v1h-3zM1158 87h3v1h-3zM1164 87h3v1h-3zM1170 87h3v1h-3zM1176 87h3v1h-3zM1182 87h3v1h-3zM1188 87h3v1h-3zM1194 87h3v1h-3zM1200 87h3v1h-3zM1206 87h3v1h-3zM1212 87h3v1h-3zM1218 87h3v1h-3zM1224 87h3v1h-3zM1230 87h3v1h-3zM1236 87h3v1h-3zM1242 87h3v1h-3zM1248 87h3v1h-3zM1254 87h3v1h-3zM1260 87h3v1h-3zM1266 87h3v1h-3zM1272 87h3v1h-3zM1278 87h3v1h-3zM1284 87h3v1h-3zM1290 87h3v1h-3zM1296 87h3v1h-3zM1302 87h3v1h-3zM1308 87h3v1h-3zM1314 87h3v1h-3zM1320 87h3v1h-3zM1326 87h3v1h-3zM1332 87h3v1h-3zM1338 87h3v1h-3zM1344 87h3v1h-3zM1350 87h3v1h-3zM1356 87h3v1h-3zM1362 87h3v1h-3zM1368 87h3v1h-3zM1374 87h3v1h-3zM1380 87h3v1h-3zM1386 87h3v1h-3zM1392 87h3v1h-3zM1398 87h3v1h-3zM1404 87h3v1h-3zM1410 87h3v1h-3zM1416 87h3v1h-3zM1422 87h3v1h-3zM1428 87h3v1h-3zM1434 87h3v1h-3zM1440 87h3v1h-3zM1446 87h3v1h-3zM1452 87h3v1h-3zM1458 87h3v1h-3zM1464 87h3v1h-3zM1470 87h3v1h-3zM1476 87h3v1h-3zM1482 87h3v1h-3zM1488 87h3v1h-3zM1494 87h3v1h-3zM1500 87h3v1h-3zM1506 87h3v1h-3zM1512 87h3v1h-3zM1518 87h3v1h-3zM1524 87h3v1h-3zM6 152h3v1h-3zM12 152h3v1h-3zM18 152h3v1h-3zM24 152h3v1h-3zM30 152h3v1h-3zM36 152h3v1h-3zM42 152h3v1h-3zM48 152h3v1h-3zM54 152h3v1h-3zM60 152h3v1h-3zM66 152h3v1h-3zM72 152h3v1h-3zM78 152h3v1h-3zM84 152h3v1h-3zM90 152h3v1h-3zM96 152h3v1h-3zM102 152h3v1h-3zM108 152h3v1h-3zM114 152h3v1h-3zM120 152h3v1h-3zM126 152h3v1h-3zM132 152h3v1h-3zM138 152h3v1h-3zM144 152h3v1h-3zM150 152h3v1h-3zM156 152h3v1h-3zM162 152h3v1h-3zM168 152h3v1h-3zM174 152h3v1h-3zM180 152h3v1h-3zM186 152h3v1h-3zM192 152h3v1h-3zM198 152h3v1h-3zM204 152h3v1h-3zM210 152h3v1h-3zM216 152h3v1h-3zM222 152h3v1h-3zM228 152h3v1h-3zM234 152h3v1h-3zM240 152h3v1h-3zM246 152h3v1h-3zM252 152h3v1h-3zM258 152h3v1h-3zM264 152h3v1h-3zM270 152h3v1h-3zM276 152h3v1h-3zM282 152h3v1h-3zM288 152h3v1h-3zM294 152h3v1h-3zM300 152h3v1h-3zM306 152h3v1h-3zM312 152h3v1h-3zM318 152h3v1h-3zM324 152h3v1h-3zM330 152h3v1h-3zM336 152h3v1h-3zM342 152h3v1h-3zM348 152h3v1h-3zM354 152h3v1h-3zM360 152h3v1h-3zM366 152h3v1h-3zM372 152h3v1h-3zM378 152h3v1h-3zM384 152h3v1h-3zM390 152h3v1h-3zM396 152h3v1h-3zM402 152h3v1h-3zM408 152h3v1h-3zM414 152h3v1h-3zM420 152h3v1h-3zM426 152h3v1h-3zM432 152h3v1h-3zM438 152h3v1h-3zM444 152h3v1h-3zM450 152h3v1h-3zM456 152h3v1h-3zM462 152h3v1h-3zM468 152h3v1h-3zM474 152h3v1h-3zM480 152h3v1h-3zM486 152h3v1h-3zM492 152h3v1h-3zM498 152h3v1h-3zM504 152h3v1h-3zM510 152h3v1h-3zM516 152h3v1h-3zM522 152h3v1h-3zM528 152h3v1h-3zM534 152h3v1h-3zM540 152h3v1h-3zM546 152h3v1h-3zM552 152h3v1h-3zM558 152h3v1h-3zM564 152h3v1h-3zM570 152h3v1h-3zM576 152h3v1h-3zM582 152h3v1h-3zM588 152h3v1h-3zM594 152h3v1h-3zM600 152h3v1h-3zM606 152h3v1h-3zM612 152h3v1h-3zM618 152h3v1h-3zM624 152h3v1h-3zM630 152h3v1h-3zM636 152h3v1h-3zM642 152h3v1h-3zM648 152h3v1h-3zM654 152h3v1h-3zM660 152h3v1h-3zM666 152h3v1h-3zM672 152h3v1h-3zM678 152h3v1h-3zM684 152h3v1h-3zM690 152h3v1h-3zM696 152h3v1h-3zM702 152h3v1h-3zM708 152h3v1h-3zM714 152h3v1h-3zM720 152h3v1h-3zM726 152h3v1h-3zM732 152h3v1h-3zM738 152h3v1h-3zM744 152h3v1h-3zM750 152h3v1h-3zM756 152h3v1h-3zM762 152h3v1h-3zM768 152h3v1h-3zM774 152h3v1h-3zM780 152h3v1h-3zM786 152h3v1h-3zM792 152h3v1h-3zM798 152h3v1h-3zM804 152h3v1h-3zM810 152h3v1h-3zM816 152h3v1h-3zM822 152h3v1h-3zM828 152h3v1h-3zM834 152h3v1h-3zM840 152h3v1h-3zM846 152h3v1h-3zM852 152h3v1h-3zM858 152h3v1h-3zM864 152h3v1h-3zM870 152h3v1h-3zM876 152h3v1h-3zM882 152h3v1h-3zM888 152h3v1h-3zM894 152h3v1h-3zM900 152h3v1h-3zM906 152h3v1h-3zM912 152h3v1h-3zM918 152h3v1h-3zM924 152h3v1h-3zM930 152h3v1h-3zM936 152h3v1h-3zM942 152h3v1h-3zM948 152h3v1h-3zM954 152h3v1h-3zM960 152h3v1h-3zM966 152h3v1h-3zM972 152h3v1h-3zM978 152h3v1h-3zM984 152h3v1h-3zM990 152h3v1h-3zM996 152h3v1h-3zM1002 152h3v1h-3zM1008 152h3v1h-3zM1014 152h3v1h-3zM1020 152h3v1h-3zM1026 152h3v1h-3zM1032 152h3v1h-3zM1038 152h3v1h-3zM1044 152h3v1h-3zM1050 152h3v1h-3zM1056 152h3v1h-3zM1062 152h3v1h-3zM1068 152h3v1h-3zM1074 152h3v1h-3zM1080 152h3v1h-3zM1086 152h3v1h-3zM1092 152h3v1h-3zM1098 152h3v1h-3zM1104 152h3v1h-3zM1110 152h3v1h-3zM1116 152h3v1h-3zM1122 152h3v1h-3zM1128 152h3v1h-3zM1134 152h3v1h-3zM1140 152h3v1h-3zM1146 152h3v1h-3zM1152 152h3v1h-3zM1158 152h3v1h-3zM1164 152h3v1h-3zM1170 152h3v1h-3zM1176 152h3v1h-3zM1182 152h3v1h-3zM1188 152h3v1h-3zM1194 152h3v1h-3zM1200 152h3v1h-3zM1206 152h3v1h-3zM1212 152h3v1h-3zM1218 152h3v1h-3zM1224 152h3v1h-3zM1230 152h3v1h-3zM1236 152h3v1h-3zM1242 152h3v1h-3zM1248 152h3v1h-3zM1254 152h3v1h-3zM1260 152h3v1h-3zM1266 152h3v1h-3zM1272 152h3v1h-3zM1278 152h3v1h-3zM1284 152h3v1h-3zM1290 152h3v1h-3zM1296 152h3v1h-3zM1302 152h3v1h-3zM1308 152h3v1h-3zM1314 152h3v1h-3zM1320 152h3v1h-3zM1326 152h3v1h-3zM1332 152h3v1h-3zM1338 152h3v1h-3zM1344 152h3v1h-3zM1350 152h3v1h-3zM1356 152h3v1h-3zM1362 152h3v1h-3zM1368 152h3v1h-3zM1374 152h3v1h-3zM1380 152h3v1h-3zM1386 152h3v1h-3zM1392 152h3v1h-3zM1398 152h3v1h-3zM1404 152h3v1h-3zM1410 152h3v1h-3zM1416 152h3v1h-3zM1422 152h3v1h-3zM1428 152h3v1h-3zM1434 152h3v1h-3zM1440 152h3v1h-3zM1446 152h3v1h-3zM1452 152h3v1h-3zM1458 152h3v1h-3zM1464 152h3v1h-3zM1470 152h3v1h-3zM1476 152h3v1h-3zM1482 152h3v1h-3zM1488 152h3v1h-3zM1494 152h3v1h-3zM1500 152h3v1h-3zM1506 152h3v1h-3zM1512 152h3v1h-3zM1518 152h3v1h-3zM1524 152h3v1h-3zM6 217h3v1h-3zM12 217h3v1h-3zM18 217h3v1h-3zM24 217h3v1h-3zM30 217h3v1h-3zM36 217h3v1h-3zM42 217h3v1h-3zM48 217h3v1h-3zM54 217h3v1h-3zM60 217h3v1h-3zM66 217h3v1h-3zM72 217h3v1h-3zM78 217h3v1h-3zM84 217h3v1h-3zM90 217h3v1h-3zM96 217h3v1h-3zM102 217h3v1h-3zM108 217h3v1h-3zM114 217h3v1h-3zM120 217h3v1h-3zM126 217h3v1h-3zM132 217h3v1h-3zM138 217h3v1h-3zM144 217h3v1h-3zM150 217h3v1h-3zM156 217h3v1h-3zM162 217h3v1h-3zM168 217h3v1h-3zM174 217h3v1h-3zM180 217h3v1h-3zM186 217h3v1h-3zM192 217h3v1h-3zM198 217h3v1h-3zM204 217h3v1h-3zM210 217h3v1h-3zM216 217h3v1h-3zM222 217h3v1h-3zM228 217h3v1h-3zM234 217h3v1h-3zM240 217h3v1h-3zM246 217h3v1h-3zM252 217h3v1h-3zM258 217h3v1h-3zM264 217h3v1h-3zM270 217h3v1h-3zM276 217h3v1h-3zM282 217h3v1h-3zM288 217h3v1h-3zM294 217h3v1h-3zM300 217h3v1h-3zM306 217h3v1h-3zM312 217h3v1h-3zM318 217h3v1h-3zM324 217h3v1h-3zM330 217h3v1h-3zM336 217h3v1h-3zM342 217h3v1h-3zM348 217h3v1h-3zM354 217h3v1h-3zM360 217h3v1h-3zM366 217h3v1h-3zM372 217h3v1h-3zM378 217h3v1h-3zM384 217h3v1h-3zM390 217h3v1h-3zM396 217h3v1h-3zM402 217h3v1h-3zM408 217h3v1h-3zM414 217h3v1h-3zM420 217h3v1h-3zM426 217h3v1h-3zM432 217h3v1h-3zM438 217h3v1h-3zM444 217h3v1h-3zM450 217h3v1h-3zM456 217h3v1h-3zM462 217h3v1h-3zM468 217h3v1h-3zM474 217h3v1h-3zM480 217h3v1h-3zM486 217h3v1h-3zM492 217h3v1h-3zM498 217h3v1h-3zM504 217h3v1h-3zM510 217h3v1h-3zM516 217h3v1h-3zM522 217h3v1h-3zM528 217h3v1h-3zM534 217h3v1h-3zM540 217h3v1h-3zM546 217h3v1h-3zM552 217h3v1h-3zM558 217h3v1h-3zM564 217h3v1h-3zM570 217h3v1h-3zM576 217h3v1h-3zM582 217h3v1h-3zM588 217h3v1h-3zM594 217h3v1h-3zM600 217h3v1h-3zM606 217h3v1h-3zM612 217h3v1h-3zM618 217h3v1h-3zM624 217h3v1h-3zM630 217h3v1h-3zM636 217h3v1h-3zM642 217h3v1h-3zM648 217h3v1h-3zM654 217h3v1h-3zM660 217h3v1h-3zM666 217h3v1h-3zM672 217h3v1h-3zM678 217h3v1h-3zM684 217h3v1h-3zM690 217h3v1h-3zM696 217h3v1h-3zM702 217h3v1h-3zM708 217h3v1h-3zM714 217h3v1h-3zM720 217h3v1h-3zM726 217h3v1h-3zM732 217h3v1h-3zM738 217h3v1h-3zM744 217h3v1h-3zM750 217h3v1h-3zM756 217h3v1h-3zM762 217h3v1h-3zM768 217h3v1h-3zM774 217h3v1h-3zM780 217h3v1h-3zM786 217h3v1h-3zM792 217h3v1h-3zM798 217h3v1h-3zM804 217h3v1h-3zM810 217h3v1h-3zM816 217h3v1h-3zM822 217h3v1h-3zM828 217h3v1h-3zM834 217h3v1h-3zM840 217h3v1h-3zM846 217h3v1h-3zM852 217h3v1h-3zM858 217h3v1h-3zM864 217h3v1h-3zM870 217h3v1h-3zM876 217h3v1h-3zM882 217h3v1h-3zM888 217h3v1h-3zM894 217h3v1h-3zM900 217h3v1h-3zM906 217h3v1h-3zM912 217h3v1h-3zM918 217h3v1h-3zM924 217h3v1h-3zM930 217h3v1h-3zM936 217h3v1h-3zM942 217h3v1h-3zM948 217h3v1h-3zM954 217h3v1h-3zM960 217h3v1h-3zM966 217h3v1h-3zM972 217h3v1h-3zM978 217h3v1h-3zM984 217h3v1h-3zM990 217h3v1h-3zM996 217h3v1h-3zM1002 217h3v1h-3zM1008 217h3v1h-3zM1014 217h3v1h-3zM1020 217h3v1h-3zM1026 217h3v1h-3zM1032 217h3v1h-3zM1038 217h3v1h-3zM1044 217h3v1h-3zM1050 217h3v1h-3zM1056 217h3v1h-3zM1062 217h3v1h-3zM1068 217h3v1h-3zM1074 217h3v1h-3zM1080 217h3v1h-3zM1086 217h3v1h-3zM1092 217h3v1h-3zM1098 217h3v1h-3zM1104 217h3v1h-3zM1110 217h3v1h-3zM1116 217h3v1h-3zM1122 217h3v1h-3zM1128 217h3v1h-3zM1134 217h3v1h-3zM1140 217h3v1h-3zM1146 217h3v1h-3zM1152 217h3v1h-3zM1158 217h3v1h-3zM1164 217h3v1h-3zM1170 217h3v1h-3zM1176 217h3v1h-3zM1182 217h3v1h-3zM1188 217h3v1h-3zM1194 217h3v1h-3zM1200 217h3v1h-3zM1206 217h3v1h-3zM1212 217h3v1h-3zM1218 217h3v1h-3zM1224 217h3v1h-3zM1230 217h3v1h-3zM1236 217h3v1h-3zM1242 217h3v1h-3zM1248 217h3v1h-3zM1254 217h3v1h-3zM1260 217h3v1h-3zM1266 217h3v1h-3zM1272 217h3v1h-3zM1278 217h3v1h-3zM1284 217h3v1h-3zM1290 217h3v1h-3zM1296 217h3v1h-3zM1302 217h3v1h-3zM1308 217h3v1h-3zM1314 217h3v1h-3zM1320 217h3v1h-3zM1326 217h3v1h-3zM1332 217h3v1h-3zM1338 217h3v1h-3zM1344 217h3v1h-3zM1350 217h3v1h-3zM1356 217h3v1h-3zM1362 217h3v1h-3zM1368 217h3v1h-3zM1374 217h3v1h-3zM1380 217h3v1h-3zM1386 217h3v1h-3zM1392 217h3v1h-3zM1398 217h3v1h-3zM1404 217h3v1h-3zM1410 217h3v1h-3zM1416 217h3v1h-3zM1422 217h3v1h-3zM1428 217h3v1h-3zM1434 217h3v1h-3zM1440 217h3v1h-3zM1446 217h3v1h-3zM1452 217h3v1h-3zM1458 217h3v1h-3zM1464 217h3v1h-3zM1470 217h3v1h-3zM1476 217h3v1h-3zM1482 217h3v1h-3zM1488 217h3v1h-3zM1494 217h3v1h-3zM1500 217h3v1h-3zM1506 217h3v1h-3zM1512 217h3v1h-3zM1518 217h3v1h-3zM1524 217h3v1h-3zM6 282h3v1h-3zM12 282h3v1h-3zM18 282h3v1h-3zM24 282h3v1h-3zM30 282h3v1h-3zM36 282h3v1h-3zM42 282h3v1h-3zM48 282h3v1h-3zM54 282h3v1h-3zM60 282h3v1h-3zM66 282h3v1h-3zM72 282h3v1h-3zM78 282h3v1h-3zM84 282h3v1h-3zM90 282h3v1h-3zM96 282h3v1h-3zM102 282h3v1h-3zM108 282h3v1h-3zM114 282h3v1h-3zM120 282h3v1h-3zM126 282h3v1h-3zM132 282h3v1h-3zM138 282h3v1h-3zM144 282h3v1h-3zM150 282h3v1h-3zM156 282h3v1h-3zM162 282h3v1h-3zM168 282h3v1h-3zM174 282h3v1h-3zM180 282h3v1h-3zM186 282h3v1h-3zM192 282h3v1h-3zM198 282h3v1h-3zM204 282h3v1h-3zM210 282h3v1h-3zM216 282h3v1h-3zM222 282h3v1h-3zM228 282h3v1h-3zM234 282h3v1h-3zM240 282h3v1h-3zM246 282h3v1h-3zM252 282h3v1h-3zM258 282h3v1h-3zM264 282h3v1h-3zM270 282h3v1h-3zM276 282h3v1h-3zM282 282h3v1h-3zM288 282h3v1h-3zM294 282h3v1h-3zM300 282h3v1h-3zM306 282h3v1h-3zM312 282h3v1h-3zM318 282h3v1h-3zM324 282h3v1h-3zM330 282h3v1h-3zM336 282h3v1h-3zM342 282h3v1h-3zM348 282h3v1h-3zM354 282h3v1h-3zM360 282h3v1h-3zM366 282h3v1h-3zM372 282h3v1h-3zM378 282h3v1h-3zM384 282h3v1h-3zM390 282h3v1h-3zM396 282h3v1h-3zM402 282h3v1h-3zM408 282h3v1h-3zM414 282h3v1h-3zM420 282h3v1h-3zM426 282h3v1h-3zM432 282h3v1h-3zM438 282h3v1h-3zM444 282h3v1h-3zM450 282h3v1h-3zM456 282h3v1h-3zM462 282h3v1h-3zM468 282h3v1h-3zM474 282h3v1h-3zM480 282h3v1h-3zM486 282h3v1h-3zM492 282h3v1h-3zM498 282h3v1h-3zM504 282h3v1h-3zM510 282h3v1h-3zM516 282h3v1h-3zM522 282h3v1h-3zM528 282h3v1h-3zM534 282h3v1h-3zM540 282h3v1h-3zM546 282h3v1h-3zM552 282h3v1h-3zM558 282h3v1h-3zM564 282h3v1h-3zM570 282h3v1h-3zM576 282h3v1h-3zM582 282h3v1h-3zM588 282h3v1h-3zM594 282h3v1h-3zM600 282h3v1h-3zM606 282h3v1h-3zM612 282h3v1h-3zM618 282h3v1h-3zM624 282h3v1h-3zM630 282h3v1h-3zM636 282h3v1h-3zM642 282h3v1h-3zM648 282h3v1h-3zM654 282h3v1h-3zM660 282h3v1h-3zM666 282h3v1h-3zM672 282h3v1h-3zM678 282h3v1h-3zM684 282h3v1h-3zM690 282h3v1h-3zM696 282h3v1h-3zM702 282h3v1h-3zM708 282h3v1h-3zM714 282h3v1h-3zM720 282h3v1h-3zM726 282h3v1h-3zM732 282h3v1h-3zM738 282h3v1h-3zM744 282h3v1h-3zM750 282h3v1h-3zM756 282h3v1h-3zM762 282h3v1h-3zM768 282h3v1h-3zM774 282h3v1h-3zM780 282h3v1h-3zM786 282h3v1h-3zM792 282h3v1h-3zM798 282h3v1h-3zM804 282h3v1h-3zM810 282h3v1h-3zM816 282h3v1h-3zM822 282h3v1h-3zM828 282h3v1h-3zM834 282h3v1h-3zM840 282h3v1h-3zM846 282h3v1h-3zM852 282h3v1h-3zM858 282h3v1h-3zM864 282h3v1h-3zM870 282h3v1h-3zM876 282h3v1h-3zM882 282h3v1h-3zM888 282h3v1h-3zM894 282h3v1h-3zM900 282h3v1h-3zM906 282h3v1h-3zM912 282h3v1h-3zM918 282h3v1h-3zM924 282h3v1h-3zM930 282h3v1h-3zM936 282h3v1h-3zM942 282h3v1h-3zM948 282h3v1h-3zM954 282h3v1h-3zM960 282h3v1h-3zM966 282h3v1h-3zM972 282h3v1h-3zM978 282h3v1h-3zM984 282h3v1h-3zM990 282h3v1h-3zM996 282h3v1h-3zM1002 282h3v1h-3zM1008 282h3v1h-3zM1014 282h3v1h-3zM1020 282h3v1h-3zM1026 282h3v1h-3zM1032 282h3v1h-3zM1038 282h3v1h-3zM1044 282h3v1h-3zM1050 282h3v1h-3zM1056 282h3v1h-3zM1062 282h3v1h-3zM1068 282h3v1h-3zM1074 282h3v1h-3zM1080 282h3v1h-3zM1086 282h3v1h-3zM1092 282h3v1h-3zM1098 282h3v1h-3zM1104 282h3v1h-3zM1110 282h3v1h-3zM1116 282h3v1h-3zM1122 282h3v1h-3zM1128 282h3v1h-3zM1134 282h3v1h-3zM1140 282h3v1h-3zM1146 282h3v1h-3zM1152 282h3v1h-3zM1158 282h3v1h-3zM1164 282h3v1h-3zM1170 282h3v1h-3zM1176 282h3v1h-3zM1182 282h3v1h-3zM1188 282h3v1h-3zM1194 282h3v1h-3zM1200 282h3v1h-3zM1206 282h3v1h-3zM1212 282h3v1h-3zM1218 282h3v1h-3zM1224 282h3v1h-3zM1230 282h3v1h-3zM1236 282h3v1h-3zM1242 282h3v1h-3zM1248 282h3v1h-3zM1254 282h3v1h-3zM1260 282h3v1h-3zM1266 282h3v1h-3zM1272 282h3v1h-3zM1278 282h3v1h-3zM1284 282h3v1h-3zM1290 282h3v1h-3zM1296 282h3v1h-3zM1302 282h3v1h-3zM1308 282h3v1h-3zM1314 282h3v1h-3zM1320 282h3v1h-3zM1326 282h3v1h-3zM1332 282h3v1h-3zM1338 282h3v1h-3zM1344 282h3v1h-3zM1350 282h3v1h-3zM1356 282h3v1h-3zM1362 282h3v1h-3zM1368 282h3v1h-3zM1374 282h3v1h-3zM1380 282h3v1h-3zM1386 282h3v1h-3zM1392 282h3v1h-3zM1398 282h3v1h-3zM1404 282h3v1h-3zM1410 282h3v1h-3zM1416 282h3v1h-3zM1422 282h3v1h-3zM1428 282h3v1h-3zM1434 282h3v1h-3zM1440 282h3v1h-3zM1446 282h3v1h-3zM1452 282h3v1h-3zM1458 282h3v1h-3zM1464 282h3v1h-3zM1470 282h3v1h-3zM1476 282h3v1h-3zM1482 282h3v1h-3zM1488 282h3v1h-3zM1494 282h3v1h-3zM1500 282h3v1h-3zM1506 282h3v1h-3zM1512 282h3v1h-3zM1518 282h3v1h-3zM1524 282h3v1h-3zM6 347h3v1h-3zM12 347h3v1h-3zM18 347h3v1h-3zM24 347h3v1h-3zM30 347h3v1h-3zM36 347h3v1h-3zM42 347h3v1h-3zM48 347h3v1h-3zM54 347h3v1h-3zM60 347h3v1h-3zM66 347h3v1h-3zM72 347h3v1h-3zM78 347h3v1h-3zM84 347h3v1h-3zM90 347h3v1h-3zM96 347h3v1h-3zM102 347h3v1h-3zM108 347h3v1h-3zM114 347h3v1h-3zM120 347h3v1h-3zM126 347h3v1h-3zM132 347h3v1h-3zM138 347h3v1h-3zM144 347h3v1h-3zM150 347h3v1h-3zM156 347h3v1h-3zM162 347h3v1h-3zM168 347h3v1h-3zM174 347h3v1h-3zM180 347h3v1h-3zM186 347h3v1h-3zM192 347h3v1h-3zM198 347h3v1h-3zM204 347h3v1h-3zM210 347h3v1h-3zM216 347h3v1h-3zM222 347h3v1h-3zM228 347h3v1h-3zM234 347h3v1h-3zM240 347h3v1h-3zM246 347h3v1h-3zM252 347h3v1h-3zM258 347h3v1h-3zM264 347h3v1h-3zM270 347h3v1h-3zM276 347h3v1h-3zM282 347h3v1h-3zM288 347h3v1h-3zM294 347h3v1h-3zM300 347h3v1h-3zM306 347h3v1h-3zM312 347h3v1h-3zM318 347h3v1h-3zM324 347h3v1h-3zM330 347h3v1h-3zM336 347h3v1h-3zM342 347h3v1h-3zM348 347h3v1h-3zM354 347h3v1h-3zM360 347h3v1h-3zM366 347h3v1h-3zM372 347h3v1h-3zM378 347h3v1h-3zM384 347h3v1h-3zM390 347h3v1h-3zM396 347h3v1h-3zM402 347h3v1h-3zM408 347h3v1h-3zM414 347h3v1h-3zM420 347h3v1h-3zM426 347h3v1h-3zM432 347h3v1h-3zM438 347h3v1h-3zM444 347h3v1h-3zM450 347h3v1h-3zM456 347h3v1h-3zM462 347h3v1h-3zM468 347h3v1h-3zM474 347h3v1h-3zM480 347h3v1h-3zM486 347h3v1h-3zM492 347h3v1h-3zM498 347h3v1h-3zM504 347h3v1h-3zM510 347h3v1h-3zM516 347h3v1h-3zM522 347h3v1h-3zM528 347h3v1h-3zM534 347h3v1h-3zM540 347h3v1h-3zM546 347h3v1h-3zM552 347h3v1h-3zM558 347h3v1h-3zM564 347h3v1h-3zM570 347h3v1h-3zM576 347h3v1h-3zM582 347h3v1h-3zM588 347h3v1h-3zM594 347h3v1h-3zM600 347h3v1h-3zM606 347h3v1h-3zM612 347h3v1h-3zM618 347h3v1h-3zM624 347h3v1h-3zM630 347h3v1h-3zM636 347h3v1h-3zM642 347h3v1h-3zM648 347h3v1h-3zM654 347h3v1h-3zM660 347h3v1h-3zM666 347h3v1h-3zM672 347h3v1h-3zM678 347h3v1h-3zM684 347h3v1h-3zM690 347h3v1h-3zM696 347h3v1h-3zM702 347h3v1h-3zM708 347h3v1h-3zM714 347h3v1h-3zM720 347h3v1h-3zM726 347h3v1h-3zM732 347h3v1h-3zM738 347h3v1h-3zM744 347h3v1h-3zM750 347h3v1h-3zM756 347h3v1h-3zM762 347h3v1h-3zM768 347h3v1h-3zM774 347h3v1h-3zM780 347h3v1h-3zM786 347h3v1h-3zM792 347h3v1h-3zM798 347h3v1h-3zM804 347h3v1h-3zM810 347h3v1h-3zM816 347h3v1h-3zM822 347h3v1h-3zM828 347h3v1h-3zM834 347h3v1h-3zM840 347h3v1h-3zM846 347h3v1h-3zM852 347h3v1h-3zM858 347h3v1h-3zM864 347h3v1h-3zM870 347h3v1h-3zM876 347h3v1h-3zM882 347h3v1h-3zM888 347h3v1h-3zM894 347h3v1h-3zM900 347h3v1h-3zM906 347h3v1h-3zM912 347h3v1h-3zM918 347h3v1h-3zM924 347h3v1h-3zM930 347h3v1h-3zM936 347h3v1h-3zM942 347h3v1h-3zM948 347h3v1h-3zM954 347h3v1h-3zM960 347h3v1h-3zM966 347h3v1h-3zM972 347h3v1h-3zM978 347h3v1h-3zM984 347h3v1h-3zM990 347h3v1h-3zM996 347h3v1h-3zM1002 347h3v1h-3zM1008 347h3v1h-3zM1014 347h3v1h-3zM1020 347h3v1h-3zM1026 347h3v1h-3zM1032 347h3v1h-3zM1038 347h3v1h-3zM1044 347h3v1h-3zM1050 347h3v1h-3zM1056 347h3v1h-3zM1062 347h3v1h-3zM1068 347h3v1h-3zM1074 347h3v1h-3zM1080 347h3v1h-3zM1086 347h3v1h-3zM1092 347h3v1h-3zM1098 347h3v1h-3zM1104 347h3v1h-3zM1110 347h3v1h-3zM1116 347h3v1h-3zM1122 347h3v1h-3zM1128 347h3v1h-3zM1134 347h3v1h-3zM1140 347h3v1h-3zM1146 347h3v1h-3zM1152 347h3v1h-3zM1158 347h3v1h-3zM1164 347h3v1h-3zM1170 347h3v1h-3zM1176 347h3v1h-3zM1182 347h3v1h-3zM1188 347h3v1h-3zM1194 347h3v1h-3zM1200 347h3v1h-3zM1206 347h3v1h-3zM1212 347h3v1h-3zM1218 347h3v1h-3zM1224 347h3v1h-3zM1230 347h3v1h-3zM1236 347h3v1h-3zM1242 347h3v1h-3zM1248 347h3v1h-3zM1254 347h3v1h-3zM1260 347h3v1h-3zM1266 347h3v1h-3zM1272 347h3v1h-3zM1278 347h3v1h-3zM1284 347h3v1h-3zM1290 347h3v1h-3zM1296 347h3v1h-3zM1302 347h3v1h-3zM1308 347h3v1h-3zM1314 347h3v1h-3zM1320 347h3v1h-3zM1326 347h3v1h-3zM1332 347h3v1h-3zM1338 347h3v1h-3zM1344 347h3v1h-3zM1350 347h3v1h-3zM1356 347h3v1h-3zM1362 347h3v1h-3zM1368 347h3v1h-3zM1374 347h3v1h-3zM1380 347h3v1h-3zM1386 347h3v1h-3zM1392 347h3v1h-3zM1398 347h3v1h-3zM1404 347h3v1h-3zM1410 347h3v1h-3zM1416 347h3v1h-3zM1422 347h3v1h-3zM1428 347h3v1h-3zM1434 347h3v1h-3zM1440 347h3v1h-3zM1446 347h3v1h-3zM1452 347h3v1h-3zM1458 347h3v1h-3zM1464 347h3v1h-3zM1470 347h3v1h-3zM1476 347h3v1h-3zM1482 347h3v1h-3zM1488 347h3v1h-3zM1494 347h3v1h-3zM1500 347h3v1h-3zM1506 347h3v1h-3zM1512 347h3v1h-3zM1518 347h3v1h-3zM1524 347h3v1h-3zM6 412h3v1h-3zM12 412h3v1h-3zM18 412h3v1h-3zM24 412h3v1h-3zM30 412h3v1h-3zM36 412h3v1h-3zM42 412h3v1h-3zM48 412h3v1h-3zM54 412h3v1h-3zM60 412h3v1h-3zM66 412h3v1h-3zM72 412h3v1h-3zM78 412h3v1h-3zM84 412h3v1h-3zM90 412h3v1h-3zM96 412h3v1h-3zM102 412h3v1h-3zM108 412h3v1h-3zM114 412h3v1h-3zM120 412h3v1h-3zM126 412h3v1h-3zM132 412h3v1h-3zM138 412h3v1h-3zM144 412h3v1h-3zM150 412h3v1h-3zM156 412h3v1h-3zM162 412h3v1h-3zM168 412h3v1h-3zM174 412h3v1h-3zM180 412h3v1h-3zM186 412h3v1h-3zM192 412h3v1h-3zM198 412h3v1h-3zM204 412h3v1h-3zM210 412h3v1h-3zM216 412h3v1h-3zM222 412h3v1h-3zM228 412h3v1h-3zM234 412h3v1h-3zM240 412h3v1h-3zM246 412h3v1h-3zM252 412h3v1h-3zM258 412h3v1h-3zM264 412h3v1h-3zM270 412h3v1h-3zM276 412h3v1h-3zM282 412h3v1h-3zM288 412h3v1h-3zM294 412h3v1h-3zM300 412h3v1h-3zM306 412h3v1h-3zM312 412h3v1h-3zM318 412h3v1h-3zM324 412h3v1h-3zM330 412h3v1h-3zM336 412h3v1h-3zM342 412h3v1h-3zM348 412h3v1h-3zM354 412h3v1h-3zM360 412h3v1h-3zM366 412h3v1h-3zM372 412h3v1h-3zM378 412h3v1h-3zM384 412h3v1h-3zM390 412h3v1h-3zM396 412h3v1h-3zM402 412h3v1h-3zM408 412h3v1h-3zM414 412h3v1h-3zM420 412h3v1h-3zM426 412h3v1h-3zM432 412h3v1h-3zM438 412h3v1h-3zM444 412h3v1h-3zM450 412h3v1h-3zM456 412h3v1h-3zM462 412h3v1h-3zM468 412h3v1h-3zM474 412h3v1h-3zM480 412h3v1h-3zM486 412h3v1h-3zM492 412h3v1h-3zM498 412h3v1h-3zM504 412h3v1h-3zM510 412h3v1h-3zM516 412h3v1h-3zM522 412h3v1h-3zM528 412h3v1h-3zM534 412h3v1h-3zM540 412h3v1h-3zM546 412h3v1h-3zM552 412h3v1h-3zM558 412h3v1h-3zM564 412h3v1h-3zM570 412h3v1h-3zM576 412h3v1h-3zM582 412h3v1h-3zM588 412h3v1h-3zM594 412h3v1h-3zM600 412h3v1h-3zM606 412h3v1h-3zM612 412h3v1h-3zM618 412h3v1h-3zM624 412h3v1h-3zM630 412h3v1h-3zM636 412h3v1h-3zM642 412h3v1h-3zM648 412h3v1h-3zM654 412h3v1h-3zM660 412h3v1h-3zM666 412h3v1h-3zM672 412h3v1h-3zM678 412h3v1h-3zM684 412h3v1h-3zM690 412h3v1h-3zM696 412h3v1h-3zM702 412h3v1h-3zM708 412h3v1h-3zM714 412h3v1h-3zM720 412h3v1h-3zM726 412h3v1h-3zM732 412h3v1h-3zM738 412h3v1h-3zM744 412h3v1h-3zM750 412h3v1h-3zM756 412h3v1h-3zM762 412h3v1h-3zM768 412h3v1h-3zM774 412h3v1h-3zM780 412h3v1h-3zM786 412h3v1h-3zM792 412h3v1h-3zM798 412h3v1h-3zM804 412h3v1h-3zM810 412h3v1h-3zM816 412h3v1h-3zM822 412h3v1h-3zM828 412h3v1h-3zM834 412h3v1h-3zM840 412h3v1h-3zM846 412h3v1h-3zM852 412h3v1h-3zM858 412h3v1h-3zM864 412h3v1h-3zM870 412h3v1h-3zM876 412h3v1h-3zM882 412h3v1h-3zM888 412h3v1h-3zM894 412h3v1h-3zM900 412h3v1h-3zM906 412h3v1h-3zM912 412h3v1h-3zM918 412h3v1h-3zM924 412h3v1h-3zM930 412h3v1h-3zM936 412h3v1h-3zM942 412h3v1h-3zM948 412h3v1h-3zM954 412h3v1h-3zM960 412h3v1h-3zM966 412h3v1h-3zM972 412h3v1h-3zM978 412h3v1h-3zM984 412h3v1h-3zM990 412h3v1h-3zM996 412h3v1h-3zM1002 412h3v1h-3zM1008 412h3v1h-3zM1014 412h3v1h-3zM1020 412h3v1h-3zM1026 412h3v1h-3zM1032 412h3v1h-3zM1038 412h3v1h-3zM1044 412h3v1h-3zM1050 412h3v1h-3zM1056 412h3v1h-3zM1062 412h3v1h-3zM1068 412h3v1h-3zM1074 412h3v1h-3zM1080 412h3v1h-3zM1086 412h3v1h-3zM1092 412h3v1h-3zM1098 412h3v1h-3zM1104 412h3v1h-3zM1110 412h3v1h-3zM1116 412h3v1h-3zM1122 412h3v1h-3zM1128 412h3v1h-3zM1134 412h3v1h-3zM1140 412h3v1h-3zM1146 412h3v1h-3zM1152 412h3v1h-3zM1158 412h3v1h-3zM1164 412h3v1h-3zM1170 412h3v1h-3zM1176 412h3v1h-3zM1182 412h3v1h-3zM1188 412h3v1h-3zM1194 412h3v1h-3zM1200 412h3v1h-3zM1206 412h3v1h-3zM1212 412h3v1h-3zM1218 412h3v1h-3zM1224 412h3v1h-3zM1230 412h3v1h-3zM1236 412h3v1h-3zM1242 412h3v1h-3zM1248 412h3v1h-3zM1254 412h3v1h-3zM1260 412h3v1h-3zM1266 412h3v1h-3zM1272 412h3v1h-3zM1278 412h3v1h-3zM1284 412h3v1h-3zM1290 412h3v1h-3zM1296 412h3v1h-3zM1302 412h3v1h-3zM1308 412h3v1h-3zM1314 412h3v1h-3zM1320 412h3v1h-3zM1326 412h3v1h-3zM1332 412h3v1h-3zM1338 412h3v1h-3zM1344 412h3v1h-3zM1350 412h3v1h-3zM1356 412h3v1h-3zM1362 412h3v1h-3zM1368 412h3v1h-3zM1374 412h3v1h-3zM1380 412h3v1h-3zM1386 412h3v1h-3zM1392 412h3v1h-3zM1398 412h3v1h-3zM1404 412h3v1h-3zM1410 412h3v1h-3zM1416 412h3v1h-3zM1422 412h3v1h-3zM1428 412h3v1h-3zM1434 412h3v1h-3zM1440 412h3v1h-3zM1446 412h3v1h-3zM1452 412h3v1h-3zM1458 412h3v1h-3zM1464 412h3v1h-3zM1470 412h3v1h-3zM1476 412h3v1h-3zM1482 412h3v1h-3zM1488 412h3v1h-3zM1494 412h3v1h-3zM1500 412h3v1h-3zM1506 412h3v1h-3zM1512 412h3v1h-3zM1518 412h3v1h-3zM1524 412h3v1h-3zM6 477h3v1h-3zM12 477h3v1h-3zM18 477h3v1h-3zM24 477h3v1h-3zM30 477h3v1h-3zM36 477h3v1h-3zM42 477h3v1h-3zM48 477h3v1h-3zM54 477h3v1h-3zM60 477h3v1h-3zM66 477h3v1h-3zM72 477h3v1h-3zM78 477h3v1h-3zM84 477h3v1h-3zM90 477h3v1h-3zM96 477h3v1h-3zM102 477h3v1h-3zM108 477h3v1h-3zM114 477h3v1h-3zM120 477h3v1h-3zM126 477h3v1h-3zM132 477h3v1h-3zM138 477h3v1h-3zM144 477h3v1h-3zM150 477h3v1h-3zM156 477h3v1h-3zM162 477h3v1h-3zM168 477h3v1h-3zM174 477h3v1h-3zM180 477h3v1h-3zM186 477h3v1h-3zM192 477h3v1h-3zM198 477h3v1h-3zM204 477h3v1h-3zM210 477h3v1h-3zM216 477h3v1h-3zM222 477h3v1h-3zM228 477h3v1h-3zM234 477h3v1h-3zM240 477h3v1h-3zM246 477h3v1h-3zM252 477h3v1h-3zM258 477h3v1h-3zM264 477h3v1h-3zM270 477h3v1h-3zM276 477h3v1h-3zM282 477h3v1h-3zM288 477h3v1h-3zM294 477h3v1h-3zM300 477h3v1h-3zM306 477h3v1h-3zM312 477h3v1h-3zM318 477h3v1h-3zM324 477h3v1h-3zM330 477h3v1h-3zM336 477h3v1h-3zM342 477h3v1h-3zM348 477h3v1h-3zM354 477h3v1h-3zM360 477h3v1h-3zM366 477h3v1h-3zM372 477h3v1h-3zM378 477h3v1h-3zM384 477h3v1h-3zM390 477h3v1h-3zM396 477h3v1h-3zM402 477h3v1h-3zM408 477h3v1h-3zM414 477h3v1h-3zM420 477h3v1h-3zM426 477h3v1h-3zM432 477h3v1h-3zM438 477h3v1h-3zM444 477h3v1h-3zM450 477h3v1h-3zM456 477h3v1h-3zM462 477h3v1h-3zM468 477h3v1h-3zM474 477h3v1h-3zM480 477h3v1h-3zM486 477h3v1h-3zM492 477h3v1h-3zM498 477h3v1h-3zM504 477h3v1h-3zM510 477h3v1h-3zM516 477h3v1h-3zM522 477h3v1h-3zM528 477h3v1h-3zM534 477h3v1h-3zM540 477h3v1h-3zM546 477h3v1h-3zM552 477h3v1h-3zM558 477h3v1h-3zM564 477h3v1h-3zM570 477h3v1h-3zM576 477h3v1h-3zM582 477h3v1h-3zM588 477h3v1h-3zM594 477h3v1h-3zM600 477h3v1h-3zM606 477h3v1h-3zM612 477h3v1h-3zM618 477h3v1h-3zM624 477h3v1h-3zM630 477h3v1h-3zM636 477h3v1h-3zM642 477h3v1h-3zM648 477h3v1h-3zM654 477h3v1h-3zM660 477h3v1h-3zM666 477h3v1h-3zM672 477h3v1h-3zM678 477h3v1h-3zM684 477h3v1h-3zM690 477h3v1h-3zM696 477h3v1h-3zM702 477h3v1h-3zM708 477h3v1h-3zM714 477h3v1h-3zM720 477h3v1h-3zM726 477h3v1h-3zM732 477h3v1h-3zM738 477h3v1h-3zM744 477h3v1h-3zM750 477h3v1h-3zM756 477h3v1h-3zM762 477h3v1h-3zM768 477h3v1h-3zM774 477h3v1h-3zM780 477h3v1h-3zM786 477h3v1h-3zM792 477h3v1h-3zM798 477h3v1h-3zM804 477h3v1h-3zM810 477h3v1h-3zM816 477h3v1h-3zM822 477h3v1h-3zM828 477h3v1h-3zM834 477h3v1h-3zM840 477h3v1h-3zM846 477h3v1h-3zM852 477h3v1h-3zM858 477h3v1h-3zM864 477h3v1h-3zM870 477h3v1h-3zM876 477h3v1h-3zM882 477h3v1h-3zM888 477h3v1h-3zM894 477h3v1h-3zM900 477h3v1h-3zM906 477h3v1h-3zM912 477h3v1h-3zM918 477h3v1h-3zM924 477h3v1h-3zM930 477h3v1h-3zM936 477h3v1h-3zM942 477h3v1h-3zM948 477h3v1h-3zM954 477h3v1h-3zM960 477h3v1h-3zM966 477h3v1h-3zM972 477h3v1h-3zM978 477h3v1h-3zM984 477h3v1h-3zM990 477h3v1h-3zM996 477h3v1h-3zM1002 477h3v1h-3zM1008 477h3v1h-3zM1014 477h3v1h-3zM1020 477h3v1h-3zM1026 477h3v1h-3zM1032 477h3v1h-3zM1038 477h3v1h-3zM1044 477h3v1h-3zM1050 477h3v1h-3zM1056 477h3v1h-3zM1062 477h3v1h-3zM1068 477h3v1h-3zM1074 477h3v1h-3zM1080 477h3v1h-3zM1086 477h3v1h-3zM1092 477h3v1h-3zM1098 477h3v1h-3zM1104 477h3v1h-3zM1110 477h3v1h-3zM1116 477h3v1h-3zM1122 477h3v1h-3zM1128 477h3v1h-3zM1134 477h3v1h-3zM1140 477h3v1h-3zM1146 477h3v1h-3zM1152 477h3v1h-3zM1158 477h3v1h-3zM1164 477h3v1h-3zM1170 477h3v1h-3zM1176 477h3v1h-3zM1182 477h3v1h-3zM1188 477h3v1h-3zM1194 477h3v1h-3zM1200 477h3v1h-3zM1206 477h3v1h-3zM1212 477h3v1h-3zM1218 477h3v1h-3zM1224 477h3v1h-3zM1230 477h3v1h-3zM1236 477h3v1h-3zM1242 477h3v1h-3zM1248 477h3v1h-3zM1254 477h3v1h-3zM1260 477h3v1h-3zM1266 477h3v1h-3zM1272 477h3v1h-3zM1278 477h3v1h-3zM1284 477h3v1h-3zM1290 477h3v1h-3zM1296 477h3v1h-3zM1302 477h3v1h-3zM1308 477h3v1h-3zM1314 477h3v1h-3zM1320 477h3v1h-3zM1326 477h3v1h-3zM1332 477h3v1h-3zM1338 477h3v1h-3zM1344 477h3v1h-3zM1350 477h3v1h-3zM1356 477h3v1h-3zM1362 477h3v1h-3zM1368 477h3v1h-3zM1374 477h3v1h-3zM1380 477h3v1h-3zM1386 477h3v1h-3zM1392 477h3v1h-3zM1398 477h3v1h-3zM1404 477h3v1h-3zM1410 477h3v1h-3zM1416 477h3v1h-3zM1422 477h3v1h-3zM1428 477h3v1h-3zM1434 477h3v1h-3zM1440 477h3v1h-3zM1446 477h3v1h-3zM1452 477h3v1h-3zM1458 477h3v1h-3zM1464 477h3v1h-3zM1470 477h3v1h-3zM1476 477h3v1h-3zM1482 477h3v1h-3zM1488 477h3v1h-3zM1494 477h3v1h-3zM1500 477h3v1h-3zM1506 477h3v1h-3zM1512 477h3v1h-3zM1518 477h3v1h-3zM1524 477h3v1h-3zM6 542h3v1h-3zM12 542h3v1h-3zM18 542h3v1h-3zM24 542h3v1h-3zM30 542h3v1h-3zM36 542h3v1h-3zM42 542h3v1h-3zM48 542h3v1h-3zM54 542h3v1h-3zM60 542h3v1h-3zM66 542h3v1h-3zM72 542h3v1h-3zM78 542h3v1h-3zM84 542h3v1h-3zM90 542h3v1h-3zM96 542h3v1h-3zM102 542h3v1h-3zM108 542h3v1h-3zM114 542h3v1h-3zM120 542h3v1h-3zM126 542h3v1h-3zM132 542h3v1h-3zM138 542h3v1h-3zM144 542h3v1h-3zM150 542h3v1h-3zM156 542h3v1h-3zM162 542h3v1h-3zM168 542h3v1h-3zM174 542h3v1h-3zM180 542h3v1h-3zM186 542h3v1h-3zM192 542h3v1h-3zM198 542h3v1h-3zM204 542h3v1h-3zM210 542h3v1h-3zM216 542h3v1h-3zM222 542h3v1h-3zM228 542h3v1h-3zM234 542h3v1h-3zM240 542h3v1h-3zM246 542h3v1h-3zM252 542h3v1h-3zM258 542h3v1h-3zM264 542h3v1h-3zM270 542h3v1h-3zM276 542h3v1h-3zM282 542h3v1h-3zM288 542h3v1h-3zM294 542h3v1h-3zM300 542h3v1h-3zM306 542h3v1h-3zM312 542h3v1h-3zM318 542h3v1h-3zM324 542h3v1h-3zM330 542h3v1h-3zM336 542h3v1h-3zM342 542h3v1h-3zM348 542h3v1h-3zM354 542h3v1h-3zM360 542h3v1h-3zM366 542h3v1h-3zM372 542h3v1h-3zM378 542h3v1h-3zM384 542h3v1h-3zM390 542h3v1h-3zM396 542h3v1h-3zM402 542h3v1h-3zM408 542h3v1h-3zM414 542h3v1h-3zM420 542h3v1h-3zM426 542h3v1h-3zM432 542h3v1h-3zM438 542h3v1h-3zM444 542h3v1h-3zM450 542h3v1h-3zM456 542h3v1h-3zM462 542h3v1h-3zM468 542h3v1h-3zM474 542h3v1h-3zM480 542h3v1h-3zM486 542h3v1h-3zM492 542h3v1h-3zM498 542h3v1h-3zM504 542h3v1h-3zM510 542h3v1h-3zM516 542h3v1h-3zM522 542h3v1h-3zM528 542h3v1h-3zM534 542h3v1h-3zM540 542h3v1h-3zM546 542h3v1h-3zM552 542h3v1h-3zM558 542h3v1h-3zM564 542h3v1h-3zM570 542h3v1h-3zM576 542h3v1h-3zM582 542h3v1h-3zM588 542h3v1h-3zM594 542h3v1h-3zM600 542h3v1h-3zM606 542h3v1h-3zM612 542h3v1h-3zM618 542h3v1h-3zM624 542h3v1h-3zM630 542h3v1h-3zM636 542h3v1h-3zM642 542h3v1h-3zM648 542h3v1h-3zM654 542h3v1h-3zM660 542h3v1h-3zM666 542h3v1h-3zM672 542h3v1h-3zM678 542h3v1h-3zM684 542h3v1h-3zM690 542h3v1h-3zM696 542h3v1h-3zM702 542h3v1h-3zM708 542h3v1h-3zM714 542h3v1h-3zM720 542h3v1h-3zM726 542h3v1h-3zM732 542h3v1h-3zM738 542h3v1h-3zM744 542h3v1h-3zM750 542h3v1h-3zM756 542h3v1h-3zM762 542h3v1h-3zM768 542h3v1h-3zM774 542h3v1h-3zM780 542h3v1h-3zM786 542h3v1h-3zM792 542h3v1h-3zM798 542h3v1h-3zM804 542h3v1h-3zM810 542h3v1h-3zM816 542h3v1h-3zM822 542h3v1h-3zM828 542h3v1h-3zM834 542h3v1h-3zM840 542h3v1h-3zM846 542h3v1h-3zM852 542h3v1h-3zM858 542h3v1h-3zM864 542h3v1h-3zM870 542h3v1h-3zM876 542h3v1h-3zM882 542h3v1h-3zM888 542h3v1h-3zM894 542h3v1h-3zM900 542h3v1h-3zM906 542h3v1h-3zM912 542h3v1h-3zM918 542h3v1h-3zM924 542h3v1h-3zM930 542h3v1h-3zM936 542h3v1h-3zM942 542h3v1h-3zM948 542h3v1h-3zM954 542h3v1h-3zM960 542h3v1h-3zM966 542h3v1h-3zM972 542h3v1h-3zM978 542h3v1h-3zM984 542h3v1h-3zM990 542h3v1h-3zM996 542h3v1h-3zM1002 542h3v1h-3zM1008 542h3v1h-3zM1014 542h3v1h-3zM1020 542h3v1h-3zM1026 542h3v1h-3zM1032 542h3v1h-3zM1038 542h3v1h-3zM1044 542h3v1h-3zM1050 542h3v1h-3zM1056 542h3v1h-3zM1062 542h3v1h-3zM1068 542h3v1h-3zM1074 542h3v1h-3zM1080 542h3v1h-3zM1086 542h3v1h-3zM1092 542h3v1h-3zM1098 542h3v1h-3zM1104 542h3v1h-3zM1110 542h3v1h-3zM1116 542h3v1h-3zM1122 542h3v1h-3zM1128 542h3v1h-3zM1134 542h3v1h-3zM1140 542h3v1h-3zM1146 542h3v1h-3zM1152 542h3v1h-3zM1158 542h3v1h-3zM1164 542h3v1h-3zM1170 542h3v1h-3zM1176 542h3v1h-3zM1182 542h3v1h-3zM1188 542h3v1h-3zM1194 542h3v1h-3zM1200 542h3v1h-3zM1206 542h3v1h-3zM1212 542h3v1h-3zM1218 542h3v1h-3zM1224 542h3v1h-3zM1230 542h3v1h-3zM1236 542h3v1h-3zM1242 542h3v1h-3zM1248 542h3v1h-3zM1254 542h3v1h-3zM1260 542h3v1h-3zM1266 542h3v1h-3zM1272 542h3v1h-3zM1278 542h3v1h-3zM1284 542h3v1h-3zM1290 542h3v1h-3zM1296 542h3v1h-3zM1302 542h3v1h-3zM1308 542h3v1h-3zM1314 542h3v1h-3zM1320 542h3v1h-3zM1326 542h3v1h-3zM1332 542h3v1h-3zM1338 542h3v1h-3zM1344 542h3v1h-3zM1350 542h3v1h-3zM1356 542h3v1h-3zM1362 542h3v1h-3zM1368 542h3v1h-3zM1374 542h3v1h-3zM1380 542h3v1h-3zM1386 542h3v1h-3zM1392 542h3v1h-3zM1398 542h3v1h-3zM1404 542h3v1h-3zM1410 542h3v1h-3zM1416 542h3v1h-3zM1422 542h3v1h-3zM1428 542h3v1h-3zM1434 542h3v1h-3zM1440 542h3v1h-3zM1446 542h3v1h-3zM1452 542h3v1h-3zM1458 542h3v1h-3zM1464 542h3v1h-3zM1470 542h3v1h-3zM1476 542h3v1h-3zM1482 542h3v1h-3zM1488 542h3v1h-3zM1494 542h3v1h-3zM1500 542h3v1h-3zM1506 542h3v1h-3zM1512 542h3v1h-3zM1518 542h3v1h-3zM1524 542h3v1h-3zM6 607h3v1h-3zM12 607h3v1h-3zM18 607h3v1h-3zM24 607h3v1h-3zM30 607h3v1h-3zM36 607h3v1h-3zM42 607h3v1h-3zM48 607h3v1h-3zM54 607h3v1h-3zM60 607h3v1h-3zM66 607h3v1h-3zM72 607h3v1h-3zM78 607h3v1h-3zM84 607h3v1h-3zM90 607h3v1h-3zM96 607h3v1h-3zM102 607h3v1h-3zM108 607h3v1h-3zM114 607h3v1h-3zM120 607h3v1h-3zM126 607h3v1h-3zM132 607h3v1h-3zM138 607h3v1h-3zM144 607h3v1h-3zM150 607h3v1h-3zM156 607h3v1h-3zM162 607h3v1h-3zM168 607h3v1h-3zM174 607h3v1h-3zM180 607h3v1h-3zM186 607h3v1h-3zM192 607h3v1h-3zM198 607h3v1h-3zM204 607h3v1h-3zM210 607h3v1h-3zM216 607h3v1h-3zM222 607h3v1h-3zM228 607h3v1h-3zM234 607h3v1h-3zM240 607h3v1h-3zM246 607h3v1h-3zM252 607h3v1h-3zM258 607h3v1h-3zM264 607h3v1h-3zM270 607h3v1h-3zM276 607h3v1h-3zM282 607h3v1h-3zM288 607h3v1h-3zM294 607h3v1h-3zM300 607h3v1h-3zM306 607h3v1h-3zM312 607h3v1h-3zM318 607h3v1h-3zM324 607h3v1h-3zM330 607h3v1h-3zM336 607h3v1h-3zM342 607h3v1h-3zM348 607h3v1h-3zM354 607h3v1h-3zM360 607h3v1h-3zM366 607h3v1h-3zM372 607h3v1h-3zM378 607h3v1h-3zM384 607h3v1h-3zM390 607h3v1h-3zM396 607h3v1h-3zM402 607h3v1h-3zM408 607h3v1h-3zM414 607h3v1h-3zM420 607h3v1h-3zM426 607h3v1h-3zM432 607h3v1h-3zM438 607h3v1h-3zM444 607h3v1h-3zM450 607h3v1h-3zM456 607h3v1h-3zM462 607h3v1h-3zM468 607h3v1h-3zM474 607h3v1h-3zM480 607h3v1h-3zM486 607h3v1h-3zM492 607h3v1h-3zM498 607h3v1h-3zM504 607h3v1h-3zM510 607h3v1h-3zM516 607h3v1h-3zM522 607h3v1h-3zM528 607h3v1h-3zM534 607h3v1h-3zM540 607h3v1h-3zM546 607h3v1h-3zM552 607h3v1h-3zM558 607h3v1h-3zM564 607h3v1h-3zM570 607h3v1h-3zM576 607h3v1h-3zM582 607h3v1h-3zM588 607h3v1h-3zM594 607h3v1h-3zM600 607h3v1h-3zM606 607h3v1h-3zM612 607h3v1h-3zM618 607h3v1h-3zM624 607h3v1h-3zM630 607h3v1h-3zM636 607h3v1h-3zM642 607h3v1h-3zM648 607h3v1h-3zM654 607h3v1h-3zM660 607h3v1h-3zM666 607h3v1h-3zM672 607h3v1h-3zM678 607h3v1h-3zM684 607h3v1h-3zM690 607h3v1h-3zM696 607h3v1h-3zM702 607h3v1h-3zM708 607h3v1h-3zM714 607h3v1h-3zM720 607h3v1h-3zM726 607h3v1h-3zM732 607h3v1h-3zM738 607h3v1h-3zM744 607h3v1h-3zM750 607h3v1h-3zM756 607h3v1h-3zM762 607h3v1h-3zM768 607h3v1h-3zM774 607h3v1h-3zM780 607h3v1h-3zM786 607h3v1h-3zM792 607h3v1h-3zM798 607h3v1h-3zM804 607h3v1h-3zM810 607h3v1h-3zM816 607h3v1h-3zM822 607h3v1h-3zM828 607h3v1h-3zM834 607h3v1h-3zM840 607h3v1h-3zM846 607h3v1h-3zM852 607h3v1h-3zM858 607h3v1h-3zM864 607h3v1h-3zM870 607h3v1h-3zM876 607h3v1h-3zM882 607h3v1h-3zM888 607h3v1h-3zM894 607h3v1h-3zM900 607h3v1h-3zM906 607h3v1h-3zM912 607h3v1h-3zM918 607h3v1h-3zM924 607h3v1h-3zM930 607h3v1h-3zM936 607h3v1h-3zM942 607h3v1h-3zM948 607h3v1h-3zM954 607h3v1h-3zM960 607h3v1h-3zM966 607h3v1h-3zM972 607h3v1h-3zM978 607h3v1h-3zM984 607h3v1h-3zM990 607h3v1h-3zM996 607h3v1h-3zM1002 607h3v1h-3zM1008 607h3v1h-3zM1014 607h3v1h-3zM1020 607h3v1h-3zM1026 607h3v1h-3zM1032 607h3v1h-3zM1038 607h3v1h-3zM1044 607h3v1h-3zM1050 607h3v1h-3zM1056 607h3v1h-3zM1062 607h3v1h-3zM1068 607h3v1h-3zM1074 607h3v1h-3zM1080 607h3v1h-3zM1086 607h3v1h-3zM1092 607h3v1h-3zM1098 607h3v1h-3zM1104 607h3v1h-3zM1110 607h3v1h-3zM1116 607h3v1h-3zM1122 607h3v1h-3zM1128 607h3v1h-3zM1134 607h3v1h-3zM1140 607h3v1h-3zM1146 607h3v1h-3zM1152 607h3v1h-3zM1158 607h3v1h-3zM1164 607h3v1h-3zM1170 607h3v1h-3zM1176 607h3v1h-3zM1182 607h3v1h-3zM1188 607h3v1h-3zM1194 607h3v1h-3zM1200 607h3v1h-3zM1206 607h3v1h-3zM1212 607h3v1h-3zM1218 607h3v1h-3zM1224 607h3v1h-3zM1230 607h3v1h-3zM1236 607h3v1h-3zM1242 607h3v1h-3zM1248 607h3v1h-3zM1254 607h3v1h-3zM1260 607h3v1h-3zM1266 607h3v1h-3zM1272 607h3v1h-3zM1278 607h3v1h-3zM1284 607h3v1h-3zM1290 607h3v1h-3zM1296 607h3v1h-3zM1302 607h3v1h-3zM1308 607h3v1h-3zM1314 607h3v1h-3zM1320 607h3v1h-3zM1326 607h3v1h-3zM1332 607h3v1h-3zM1338 607h3v1h-3zM1344 607h3v1h-3zM1350 607h3v1h-3zM1356 607h3v1h-3zM1362 607h3v1h-3zM1368 607h3v1h-3zM1374 607h3v1h-3zM1380 607h3v1h-3zM1386 607h3v1h-3zM1392 607h3v1h-3zM1398 607h3v1h-3zM1404 607h3v1h-3zM1410 607h3v1h-3zM1416 607h3v1h-3zM1422 607h3v1h-3zM1428 607h3v1h-3zM1434 607h3v1h-3zM1440 607h3v1h-3zM1446 607h3v1h-3zM1452 607h3v1h-3zM1458 607h3v1h-3zM1464 607h3v1h-3zM1470 607h3v1h-3zM1476 607h3v1h-3zM1482 607h3v1h-3zM1488 607h3v1h-3zM1494 607h3v1h-3zM1500 607h3v1h-3zM1506 607h3v1h-3zM1512 607h3v1h-3zM1518 607h3v1h-3zM1524 607h3v1h-3zM6 690h3v1h-3zM12 690h3v1h-3zM18 690h3v1h-3zM24 690h3v1h-3zM30 690h3v1h-3zM36 690h3v1h-3zM42 690h3v1h-3zM48 690h3v1h-3zM54 690h3v1h-3zM60 690h3v1h-3zM66 690h3v1h-3zM72 690h3v1h-3zM78 690h3v1h-3zM84 690h3v1h-3zM90 690h3v1h-3zM96 690h3v1h-3zM102 690h3v1h-3zM108 690h3v1h-3zM114 690h3v1h-3zM120 690h3v1h-3zM126 690h3v1h-3zM132 690h3v1h-3zM138 690h3v1h-3zM144 690h3v1h-3zM150 690h3v1h-3zM156 690h3v1h-3zM162 690h3v1h-3zM168 690h3v1h-3zM174 690h3v1h-3zM180 690h3v1h-3zM186 690h3v1h-3zM192 690h3v1h-3zM198 690h3v1h-3zM204 690h3v1h-3zM210 690h3v1h-3zM216 690h3v1h-3zM222 690h3v1h-3zM228 690h3v1h-3zM234 690h3v1h-3zM240 690h3v1h-3zM246 690h3v1h-3zM252 690h3v1h-3zM258 690h3v1h-3zM264 690h3v1h-3zM270 690h3v1h-3zM276 690h3v1h-3zM282 690h3v1h-3zM288 690h3v1h-3zM294 690h3v1h-3zM300 690h3v1h-3zM306 690h3v1h-3zM312 690h3v1h-3zM318 690h3v1h-3zM324 690h3v1h-3zM330 690h3v1h-3zM336 690h3v1h-3zM342 690h3v1h-3zM348 690h3v1h-3zM354 690h3v1h-3zM360 690h3v1h-3zM366 690h3v1h-3zM372 690h3v1h-3zM378 690h3v1h-3zM384 690h3v1h-3zM390 690h3v1h-3zM396 690h3v1h-3zM402 690h3v1h-3zM408 690h3v1h-3zM414 690h3v1h-3zM420 690h3v1h-3zM426 690h3v1h-3zM432 690h3v1h-3zM438 690h3v1h-3zM444 690h3v1h-3zM450 690h3v1h-3zM456 690h3v1h-3zM462 690h3v1h-3zM468 690h3v1h-3zM474 690h3v1h-3zM480 690h3v1h-3zM486 690h3v1h-3zM492 690h3v1h-3zM498 690h3v1h-3zM504 690h3v1h-3zM510 690h3v1h-3zM516 690h3v1h-3zM522 690h3v1h-3zM528 690h3v1h-3zM534 690h3v1h-3zM540 690h3v1h-3zM546 690h3v1h-3zM552 690h3v1h-3zM558 690h3v1h-3zM564 690h3v1h-3zM570 690h3v1h-3zM576 690h3v1h-3zM582 690h3v1h-3zM588 690h3v1h-3zM594 690h3v1h-3zM600 690h3v1h-3zM606 690h3v1h-3zM612 690h3v1h-3zM618 690h3v1h-3zM624 690h3v1h-3zM630 690h3v1h-3zM636 690h3v1h-3zM642 690h3v1h-3zM648 690h3v1h-3zM654 690h3v1h-3zM660 690h3v1h-3zM666 690h3v1h-3zM672 690h3v1h-3zM678 690h3v1h-3zM684 690h3v1h-3zM690 690h3v1h-3zM696 690h3v1h-3zM702 690h3v1h-3zM708 690h3v1h-3zM714 690h3v1h-3zM720 690h3v1h-3zM726 690h3v1h-3zM732 690h3v1h-3zM738 690h3v1h-3zM744 690h3v1h-3zM750 690h3v1h-3zM756 690h3v1h-3zM762 690h3v1h-3zM768 690h3v1h-3zM774 690h3v1h-3zM780 690h3v1h-3zM786 690h3v1h-3zM792 690h3v1h-3zM798 690h3v1h-3zM804 690h3v1h-3zM810 690h3v1h-3zM816 690h3v1h-3zM822 690h3v1h-3zM828 690h3v1h-3zM834 690h3v1h-3zM840 690h3v1h-3zM846 690h3v1h-3zM852 690h3v1h-3zM858 690h3v1h-3zM864 690h3v1h-3zM870 690h3v1h-3zM876 690h3v1h-3zM882 690h3v1h-3zM888 690h3v1h-3zM894 690h3v1h-3zM900 690h3v1h-3zM906 690h3v1h-3zM912 690h3v1h-3zM918 690h3v1h-3zM924 690h3v1h-3zM930 690h3v1h-3zM936 690h3v1h-3zM942 690h3v1h-3zM948 690h3v1h-3zM954 690h3v1h-3zM960 690h3v1h-3zM966 690h3v1h-3zM972 690h3v1h-3zM978 690h3v1h-3zM984 690h3v1h-3zM990 690h3v1h-3zM996 690h3v1h-3zM1002 690h3v1h-3zM1008 690h3v1h-3zM1014 690h3v1h-3zM1020 690h3v1h-3zM1026 690h3v1h-3zM1032 690h3v1h-3zM1038 690h3v1h-3zM1044 690h3v1h-3zM1050 690h3v1h-3zM1056 690h3v1h-3zM1062 690h3v1h-3zM1068 690h3v1h-3zM1074 690h3v1h-3zM1080 690h3v1h-3zM1086 690h3v1h-3zM1092 690h3v1h-3zM1098 690h3v1h-3zM1104 690h3v1h-3zM1110 690h3v1h-3zM1116 690h3v1h-3zM1122 690h3v1h-3zM1128 690h3v1h-3zM1134 690h3v1h-3zM1140 690h3v1h-3zM1146 690h3v1h-3zM1152 690h3v1h-3zM1158 690h3v1h-3zM1164 690h3v1h-3zM1170 690h3v1h-3zM1176 690h3v1h-3zM1182 690h3v1h-3zM1188 690h3v1h-3zM1194 690h3v1h-3zM1200 690h3v1h-3zM1206 690h3v1h-3zM1212 690h3v1h-3zM1218 690h3v1h-3zM1224 690h3v1h-3zM1230 690h3v1h-3zM1236 690h3v1h-3zM1242 690h3v1h-3zM1248 690h3v1h-3zM1254 690h3v1h-3zM1260 690h3v1h-3zM1266 690h3v1h-3zM1272 690h3v1h-3zM1278 690h3v1h-3zM1284 690h3v1h-3zM1290 690h3v1h-3zM1296 690h3v1h-3zM1302 690h3v1h-3zM1308 690h3v1h-3zM1314 690h3v1h-3zM1320 690h3v1h-3zM1326 690h3v1h-3zM1332 690h3v1h-3zM1338 690h3v1h-3zM1344 690h3v1h-3zM1350 690h3v1h-3zM1356 690h3v1h-3zM1362 690h3v1h-3zM1368 690h3v1h-3zM1374 690h3v1h-3zM1380 690h3v1h-3zM1386 690h3v1h-3zM1392 690h3v1h-3zM1398 690h3v1h-3zM1404 690h3v1h-3zM1410 690h3v1h-3zM1416 690h3v1h-3zM1422 690h3v1h-3zM1428 690h3v1h-3zM1434 690h3v1h-3zM1440 690h3v1h-3zM1446 690h3v1h-3zM1452 690h3v1h-3zM1458 690h3v1h-3zM1464 690h3v1h-3zM1470 690h3v1h-3zM1476 690h3v1h-3zM1482 690h3v1h-3zM1488 690h3v1h-3zM1494 690h3v1h-3zM1500 690h3v1h-3zM1506 690h3v1h-3zM1512 690h3v1h-3zM1518 690h3v1h-3zM1524 690h3v1h-3z" fill="#778899"/>
<rect x="4" y="4" width="1524" height="1" fill="#000"/>
<rect x="4" y="642" width="1524" height="1" fill="#000"/>
<rect x="4" y="4" width="1" height="639" fill="#000"/>
<rect x="1527" y="4" width="1" height="639" fill="#000"/>
<rect x="4" y="644" width="1524" height="1" fill="#000"/>
<rect x="4" y="796" width="1524" height="1" fill="#000"/>
<rect x="4" y="644" width="1" height="153" fill="#000"/>
<rect x="1527" y="644" width="1" height="153" fill="#000"/>
<rect x="1528" y="22" width="2" height="1" fill="#000"/>
<rect x="1528" y="87" width="2" height="1" fill="#000"/>
<rect x="1528" y="152" width="2" height="1" fill="#000"/>
<rect x="1528" y="217" width="2" height="1" fill="#000"/>
<rect x="1528" y="282" width="2" height="1" fill="#000"/>
<rect x="1528" y="347" width="2" height="1" fill="#000"/>
<rect x="1528" y="412" width="2" height="1" fill="#000"/>
<rect x="1528" y="477" width="2" height="1" fill="#000"/>
<rect x="1528" y="542" width="2" height="1" fill="#000"/>
<rect x="1528" y="607" width="2" height="1" fill="#000"/>
<rect x="1528" y="690" width="2" height="1" fill="#000"/>
<rect x="1528" y="646" width="2" height="1" fill="#000"/>
<rect x="1528" y="795" width="2" height="1" fill="#000"/>
<rect x="5" y="797" width="1" height="3" fill="#000"/>
<rect x="133" y="797" width="1" height="3" fill="#000"/>
<rect x="261" y="797" width="1" height="3" fill="#000"/>
<rect x="389" y="797" width="1" height="3" fill="#000"/>
<rect x="517" y="797" width="1" height="3" fill="#000"/>
<rect x="645" y="797" width="1" height="3" fill="#000"/>
<rect x="773" y="797" width="1" height="3" fill="#000"/>
<rect x="901" y="797" width="1" height="3" fill="#000"/>
<rect x="1029" y="797" width="1" height="3" fill="#000"/>
<rect x="1157" y="797" width="1" height="3" fill="#000"/>
<polygon points="1214,5 1229,5 1221.5,13" fill="#778899"/>
<rect x="5" y="508" width="1522" height="1" fill="#778899"/>
<g clip-path="url(#clipMain)">
<path d="M5 76h1v26h-1zM3 79h5v3h-5zM13 76h1v43h-1zM11 81h5v19h-5zM21 91h1v47h-1zM19 100h5v23h-5zM29 101h1v75h-1zM27 122h5v47h-5zM37 137h1v56h-1zM35 144h5v26h-5zM45 144h1v16h-1zM43 144h5v3h-5zM53 130h1v43h-1zM51 146h5v24h-5zM61 165h1v24h-1zM59 169h5v7h-5zM69 143h1v33h-1zM67 148h5v27h-5zM77 129h1v71h-1zM75 148h5v24h-5zM85 141h1v32h-1zM83 149h5v23h-5zM93 153h1v14h-1zM91 153h5v5h-5zM101 145h1v26h-1zM99 153h5v11h-5zM109 132h1v44h-1zM107 163h5v8h-5zM117 146h1v39h-1zM115 169h5v7h-5zM125 147h1v31h-1zM123 165h5v10h-5zM133 165h1v21h-1zM131 165h5v10h-5zM141 173h1v10h-1zM139 174h5v6h-5zM149 159h1v26h-1zM147 178h5v7h-5zM157 180h1v38h-1zM155 183h5v26h-5zM165 206h1v54h-1zM163 208h5v40h-5zM173 152h1v109h-1zM171 154h5v93h-5zM181 145h1v19h-1zM179 154h5v1h-5zM189 152h1v9h-1zM187 154h5v6h-5zM197 152h1v19h-1zM195 159h5v3h-5zM205 152h1v20h-1zM203 161h5v8h-5zM213 148h1v27h-1zM211 153h5v16h-5zM221 137h1v40h-1zM219 141h5v13h-5zM229 96h1v89h-1zM227 99h5v43h-5zM237 49h1v66h-1zM235 61h5v39h-5zM245 45h1v25h-1zM243 61h5v4h-5zM253 35h1v34h-1zM251 51h5v13h-5zM261 36h1v32h-1zM259 51h5v4h-5zM269 50h1v148h-1zM267 54h5v110h-5zM277 163h1v56h-1zM275 164h5v50h-5zM285 204h1v17h-1zM283 206h5v8h-5zM293 192h1v19h-1zM291 201h5v5h-5zM301 194h1v31h-1zM299 201h5v11h-5zM309 201h1v28h-1zM307 208h5v4h-5zM317 198h1v184h-1zM315 208h5v159h-5zM325 358h1v53h-1zM323 365h5v30h-5zM333 378h1v38h-1zM331 395h5v4h-5zM341 352h1v50h-1zM339 352h5v44h-5zM349 344h1v18h-1zM347 352h5v4h-5zM357 334h1v51h-1zM355 355h5v17h-5zM365 355h1v50h-1zM363 372h5v22h-5zM373 373h1v30h-1zM371 393h5v2h-5zM381 378h1v19h-1zM379 383h5v12h-5zM389 356h1v29h-1zM387 367h5v17h-5zM397 351h1v21h-1zM395 354h5v14h-5zM405 347h1v47h-1zM403 354h5v34h-5zM413 340h1v55h-1zM411 341h5v47h-5zM421 323h1v75h-1zM419 341h5v31h-5zM429 347h1v42h-1zM427 366h5v5h-5zM437 345h1v24h-1zM435 353h5v15h-5zM445 316h1v50h-1zM443 316h5v39h-5zM453 315h1v30h-1zM451 315h5v24h-5zM461 326h1v56h-1zM459 339h5v24h-5zM469 340h1v30h-1zM467 354h5v10h-5zM477 353h1v11h-1zM475 354h5v5h-5zM485 338h1v33h-1zM483 344h5v16h-5zM493 332h1v20h-1zM491 337h5v8h-5zM501 316h1v25h-1zM499 331h5v8h-5zM509 301h1v68h-1zM507 331h5v31h-5zM517 355h1v62h-1zM515 361h5v48h-5zM525 404h1v17h-1zM523 406h5v3h-5zM533 395h1v39h-1zM531 406h5v28h-5zM541 389h1v55h-1zM539 392h5v42h-5zM549 369h1v45h-1zM547 392h5v7h-5zM557 383h1v37h-1zM555 398h5v19h-5zM565 398h1v32h-1zM563 402h5v15h-5zM573 395h1v12h-1zM571 399h5v7h-5zM581 400h1v24h-1zM579 405h5v16h-5zM589 390h1v38h-1zM587 401h5v20h-5zM597 400h1v39h-1zM595 401h5v7h-5zM605 404h1v38h-1zM603 407h5v28h-5zM613 431h1v22h-1zM611 434h5v10h-5zM621 436h1v14h-1zM619 437h5v7h-5zM629 421h1v19h-1zM627 423h5v15h-5zM637 397h1v31h-1zM635 421h5v3h-5zM645 401h1v40h-1zM643 420h5v7h-5zM653 375h1v106h-1zM651 426h5v20h-5zM661 420h1v58h-1zM659 433h5v13h-5zM669 430h1v12h-1zM667 432h5v4h-5zM677 415h1v49h-1zM675 435h5v26h-5zM685 458h1v53h-1zM683 460h5v49h-5zM693 500h1v24h-1zM691 508h5v4h-5zM701 496h1v32h-1zM699 512h5v3h-5zM709 499h1v28h-1zM707 509h5v6h-5zM717 497h1v15h-1zM715 506h5v4h-5zM725 482h1v32h-1zM723 490h5v17h-5zM733 486h1v29h-1zM731 487h5v4h-5zM741 473h1v39h-1zM739 487h5v16h-5zM749 490h1v50h-1zM747 502h5v12h-5zM757 472h1v50h-1zM755 481h5v32h-5zM765 480h1v39h-1zM763 481h5v34h-5zM773 514h1v32h-1zM771 514h5v24h-5zM781 535h1v27h-1zM779 537h5v16h-5zM789 537h1v36h-1zM787 550h5v3h-5zM797 488h1v71h-1zM795 513h5v38h-5zM805 478h1v37h-1zM803 481h5v32h-5zM813 485h1v14h-1zM811 491h5v7h-5zM821 480h1v23h-1zM819 481h5v17h-5zM829 468h1v21h-1zM827 469h5v13h-5zM837 462h1v27h-1zM835 469h5v5h-5zM845 465h1v19h-1zM843 473h5v7h-5zM853 476h1v13h-1zM851 479h5v9h-5zM861 481h1v7h-1zM859 485h5v3h-5zM869 477h1v27h-1zM867 485h5v14h-5zM877 493h1v24h-1zM875 498h5v15h-5zM885 504h1v23h-1zM883 512h5v4h-5zM893 477h1v50h-1zM891 497h5v19h-5zM901 494h1v30h-1zM899 497h5v18h-5zM909 505h1v10h-1zM907 509h5v6h-5zM917 498h1v14h-1zM915 507h5v3h-5zM925 492h1v21h-1zM923 492h5v15h-5zM933 487h1v36h-1zM931 492h5v5h-5zM941 469h1v57h-1zM939 496h5v12h-5zM949 503h1v48h-1zM947 507h5v43h-5zM957 540h1v16h-1zM955 549h5v1h-5zM965 527h1v30h-1zM963 538h5v12h-5zM973 515h1v25h-1zM971 531h5v8h-5zM981 530h1v24h-1zM979 531h5v14h-5zM989 530h1v49h-1zM987 544h5v11h-5zM997 552h1v23h-1zM995 555h5v3h-5zM1005 552h1v13h-1zM1003 556h5v2h-5zM1013 538h1v20h-1zM1011 546h5v11h-5zM1021 544h1v18h-1zM1019 546h5v15h-5zM1029 547h1v32h-1zM1027 560h5v12h-5zM1037 571h1v40h-1zM1035 571h5v33h-5zM1045 590h1v21h-1zM1043 602h5v2h-5zM1053 594h1v14h-1zM1051 599h5v5h-5zM1061 590h1v30h-1zM1059 599h5v16h-5zM1069 597h1v21h-1zM1067 604h5v11h-5zM1077 592h1v22h-1zM1075 601h5v4h-5zM1085 570h1v37h-1zM1083 586h5v16h-5zM1093 570h1v27h-1zM1091 578h5v8h-5zM1101 575h1v9h-1zM1099 578h5v2h-5zM1109 570h1v19h-1zM1107 579h5v10h-5zM1117 580h1v26h-1zM1115 588h5v17h-5zM1125 595h1v32h-1zM1123 604h5v7h-5zM1133 542h1v75h-1zM1131 552h5v59h-5zM1141 525h1v28h-1zM1139 534h5v19h-5zM1149 532h1v16h-1zM1147 534h5v14h-5zM1157 525h1v34h-1zM1155 526h5v22h-5zM1165 504h1v28h-1zM1163 509h5v19h-5zM1173 497h1v31h-1zM1171 509h5v2h-5zM1181 475h1v43h-1zM1179 484h5v27h-5zM1189 483h1v23h-1zM1187 484h5v15h-5zM1197 496h1v10h-1zM1195 498h5v8h-5zM1205 499h1v29h-1zM1203 505h5v4h-5z" fill="#000"/>
<path d="M4 80h3v1h-3zM12 82h3v17h-3zM20 101h3v21h-3zM28 123h3v45h-3zM44 145h3v1h-3zM52 147h3v22h-3zM60 170h3v5h-3zM76 149h3v22h-3zM100 154h3v9h-3zM108 164h3v6h-3zM116 170h3v5h-3zM132 166h3v8h-3zM140 175h3v4h-3zM148 179h3v5h-3zM156 184h3v24h-3zM164 209h3v38h-3zM188 155h3v4h-3zM196 160h3v1h-3zM204 162h3v6h-3zM244 62h3v2h-3zM260 52h3v2h-3zM268 55h3v108h-3zM276 165h3v48h-3zM300 202h3v9h-3zM316 209h3v157h-3zM324 366h3v28h-3zM348 353h3v2h-3zM356 356h3v15h-3zM364 373h3v20h-3zM404 355h3v32h-3zM420 342h3v29h-3zM452 316h3v22h-3zM460 340h3v22h-3zM476 355h3v3h-3zM508 332h3v29h-3zM516 362h3v46h-3zM532 407h3v26h-3zM548 393h3v5h-3zM556 399h3v17h-3zM572 400h3v5h-3zM580 406h3v14h-3zM596 402h3v5h-3zM604 408h3v26h-3zM612 435h3v8h-3zM644 421h3v5h-3zM652 427h3v18h-3zM668 433h3v2h-3zM676 436h3v24h-3zM684 461h3v47h-3zM692 509h3v2h-3zM700 513h3v1h-3zM740 488h3v14h-3zM748 503h3v10h-3zM764 482h3v32h-3zM772 515h3v22h-3zM780 538h3v14h-3zM812 492h3v5h-3zM836 470h3v3h-3zM844 474h3v5h-3zM852 480h3v7h-3zM868 486h3v12h-3zM876 499h3v13h-3zM884 513h3v2h-3zM900 498h3v16h-3zM932 493h3v3h-3zM940 497h3v10h-3zM948 508h3v41h-3zM980 532h3v12h-3zM988 545h3v9h-3zM996 556h3v1h-3zM1020 547h3v13h-3zM1028 561h3v10h-3zM1036 572h3v31h-3zM1060 600h3v14h-3zM1108 580h3v8h-3zM1116 589h3v15h-3zM1124 605h3v5h-3zM1148 535h3v12h-3zM1188 485h3v13h-3zM1196 499h3v6h-3zM1204 506h3v2h-3z" fill="#00ff00"/>
<path d="M36 145h3v24h-3zM68 149h3v25h-3zM84 150h3v21h-3zM92 154h3v3h-3zM124 166h3v8h-3zM172 155h3v91h-3zM212 154h3v14h-3zM220 142h3v11h-3zM228 100h3v41h-3zM236 62h3v37h-3zM252 52h3v11h-3zM284 207h3v6h-3zM292 202h3v3h-3zM308 209h3v2h-3zM332 396h3v2h-3zM340 353h3v42h-3zM380 384h3v10h-3zM388 368h3v15h-3zM396 355h3v12h-3zM412 342h3v45h-3zM428 367h3v3h-3zM436 354h3v13h-3zM444 317h3v37h-3zM468 355h3v8h-3zM484 345h3v14h-3zM492 338h3v6h-3zM500 332h3v6h-3zM524 407h3v1h-3zM540 393h3v40h-3zM564 403h3v13h-3zM588 402h3v18h-3zM620 438h3v5h-3zM628 424h3v13h-3zM636 422h3v1h-3zM660 434h3v11h-3zM708 510h3v4h-3zM716 507h3v2h-3zM724 491h3v15h-3zM732 488h3v2h-3zM756 482h3v30h-3zM788 551h3v1h-3zM796 514h3v36h-3zM804 482h3v30h-3zM820 482h3v15h-3zM828 470h3v11h-3zM860 486h3v1h-3zM892 498h3v17h-3zM908 510h3v4h-3zM916 508h3v1h-3zM924 493h3v13h-3zM964 539h3v10h-3zM972 532h3v6h-3zM1012 547h3v9h-3zM1052 600h3v3h-3zM1068 605h3v9h-3zM1076 602h3v2h-3zM1084 587h3v14h-3zM1092 579h3v6h-3zM1132 553h3v57h-3zM1140 535h3v17h-3zM1156 527h3v20h-3zM1164 510h3v17h-3zM1180 485h3v25h-3z" fill="#ff0000"/>
</g>
<rect x="5" y="527" width="1522" height="4" fill="#000"/>
<rect x="5" y="566" width="1522" height="4" fill="#000"/>
<rect x="5" y="566" width="1522" height="4" fill="#000"/>
<rect x="1520" y="564" width="7" height="8" fill="#000"/>
<path d="M5 655h3v35h-3zM11 655h5v35h-5zM19 658h5v32h-5zM27 667h5v23h-5zM35 671h5v19h-5zM43 674h5v16h-5zM51 680h5v10h-5zM59 685h5v5h-5zM67 686h5v4h-5zM75 690h5v1h-5zM83 690h5v1h-5zM91 690h5v2h-5zM99 690h5v4h-5zM107 690h5v6h-5zM115 690h5v8h-5zM123 690h5v8h-5zM131 690h5v10h-5zM139 690h5v11h-5zM147 690h5v13h-5zM155 690h5v17h-5zM163 690h5v25h-5zM171 690h5v19h-5zM179 690h5v12h-5zM187 690h5v12h-5zM195 690h5v10h-5zM203 690h5v9h-5zM211 690h5v6h-5zM219 690h5v2h-5zM227 684h5v6h-5zM235 673h5v17h-5zM243 665h5v25h-5zM251 657h5v33h-5zM259 652h5v38h-5zM267 662h5v28h-5zM275 676h5v14h-5zM283 686h5v4h-5zM291 690h5v5h-5zM299 690h5v12h-5zM307 690h5v17h-5zM315 690h5v40h-5zM323 690h5v60h-5zM331 690h5v76h-5zM339 690h5v83h-5zM347 690h5v87h-5zM355 690h5v92h-5zM363 690h5v97h-5zM371 690h5v100h-5zM379 690h5v100h-5zM387 690h5v96h-5zM395 690h5v91h-5zM403 690h5v90h-5zM411 690h5v83h-5zM419 690h5v80h-5zM427 690h5v76h-5zM435 690h5v71h-5zM443 690h5v61h-5zM451 690h5v55h-5zM459 690h5v53h-5zM467 690h5v50h-5zM475 690h5v48h-5zM483 690h5v44h-5zM491 690h5v39h-5zM499 690h5v34h-5zM507 690h5v34h-5zM515 690h5v39h-5zM523 690h5v42h-5zM531 690h5v47h-5zM539 690h5v46h-5zM547 690h5v45h-5zM555 690h5v46h-5zM563 690h5v43h-5zM571 690h5v42h-5zM579 690h5v42h-5zM587 690h5v41h-5zM595 690h5v40h-5zM603 690h5v42h-5zM611 690h5v42h-5zM619 690h5v42h-5zM627 690h5v40h-5zM635 690h5v39h-5zM643 690h5v37h-5zM651 690h5v38h-5zM659 690h5v36h-5zM667 690h5v34h-5zM675 690h5v38h-5zM683 690h5v44h-5zM691 690h5v49h-5zM699 690h5v53h-5zM707 690h5v55h-5zM715 690h5v55h-5zM723 690h5v53h-5zM731 690h5v50h-5zM739 690h5v49h-5zM747 690h5v49h-5zM755 690h5v45h-5zM763 690h5v45h-5zM771 690h5v49h-5zM779 690h5v48h-5zM787 690h5v53h-5zM795 690h5v48h-5zM803 690h5v41h-5zM811 690h5v37h-5zM819 690h5v31h-5zM827 690h5v25h-5zM835 690h5v20h-5zM843 690h5v17h-5zM851 690h5v16h-5zM859 690h5v14h-5zM867 690h5v14h-5zM875 690h5v16h-5zM883 690h5v17h-5zM891 690h5v15h-5zM899 690h5v15h-5zM907 690h5v15h-5zM915 690h5v15h-5zM923 690h5v15h-5zM931 690h5v12h-5zM939 690h5v12h-5zM947 690h5v17h-5zM955 690h5v21h-5zM963 690h5v22h-5zM971 690h5v22h-5zM979 690h5v24h-5zM987 690h5v26h-5zM995 690h5v27h-5zM1003 690h5v28h-5zM1011 690h5v27h-5zM1019 690h5v27h-5zM1027 690h5v30h-5zM1035 690h5v34h-5zM1043 690h5v38h-5zM1051 690h5v40h-5zM1059 690h5v43h-5zM1067 690h5v43h-5zM1075 690h5v43h-5zM1083 690h5v40h-5zM1091 690h5v36h-5zM1099 690h5v33h-5zM1107 690h5v32h-5zM1115 690h5v32h-5zM1123 690h5v33h-5zM1131 690h5v26h-5zM1139 690h5v18h-5zM1147 690h5v13h-5zM1155 690h5v7h-5zM1163 688h5v2h-5zM1171 683h5v7h-5zM1179 676h5v14h-5zM1187 672h5v18h-5zM1195 670h5v20h-5zM1203 669h5v21h-5z" fill="#00ff00"/>
<polyline points="5.0,660.5 6.4,660.5 8.2,660.5 10.4,660.6 12.9,660.6 15.4,660.6 17.8,660.7 20.1,660.7 22.0,660.8 24.4,661.0 26.3,661.2 28.0,661.5 29.8,661.7 32.0,662.0 34.0,662.2 36.2,662.3 38.6,662.5 41.0,662.7 43.3,662.8 45.3,663.0 47.0,663.2 49.9,663.7 52.0,664.5 53.7,665.1 55.7,665.8 57.8,666.6 60.0,667.5 61.9,668.2 63.9,669.0 65.9,669.8 68.0,670.6 70.0,671.5 72.0,672.4 74.0,673.4 76.0,674.5 78.0,675.5 80.0,676.5 82.0,677.5 84.0,678.5 86.0,679.6 88.0,680.6 90.0,681.5 92.0,682.4 94.0,683.2 96.0,684.0 98.0,684.8 100.0,685.5 102.0,686.2 104.0,686.8 106.0,687.3 108.0,687.9 110.0,688.5 112.0,689.1 114.0,689.7 116.0,690.4 118.0,691.0 120.0,691.5 122.0,692.0 124.0,692.4 126.0,692.7 128.0,693.1 130.0,693.5 132.0,693.9 134.0,694.3 136.0,694.7 138.0,695.1 140.0,695.5 142.0,695.8 144.0,696.1 146.0,696.4 148.0,696.6 150.0,697.0 152.0,697.4 154.0,697.9 156.0,698.5 158.0,699.0 160.0,699.5 162.0,700.0 164.0,700.5 166.0,701.0 168.0,701.5 170.0,702.0 171.9,702.5 173.8,702.9 175.6,703.3 177.7,703.7 180.0,704.0 181.9,704.2 184.0,704.3 186.1,704.4 188.4,704.4 190.6,704.5 192.9,704.5 195.0,704.5 197.1,704.5 199.2,704.5 201.3,704.5 203.4,704.5 205.4,704.5 207.3,704.4 209.0,704.3 211.6,704.0 213.9,703.5 215.9,703.0 218.0,702.5 220.0,702.1 222.0,701.7 224.0,701.2 226.0,700.5 228.2,699.6 230.5,698.4 232.8,697.2 235.0,696.0 237.1,694.8 239.1,693.5 241.1,692.2 243.0,691.0 245.4,689.6 247.6,688.4 250.0,687.0 251.9,685.7 253.9,684.3 256.0,682.9 258.0,681.5 260.0,680.2 262.0,678.8 264.0,677.6 266.0,676.5 268.0,675.7 270.0,675.0 272.0,674.5 274.0,674.0 275.9,673.5 277.7,673.1 279.6,672.7 282.0,672.5 284.0,672.4 286.3,672.4 288.7,672.4 291.1,672.4 293.2,672.5 295.0,672.6 298.0,673.2 300.0,674.0 302.3,674.9 304.5,676.0 306.9,677.1 309.4,678.4 311.8,680.4 314.2,682.8 316.6,685.2 319.0,687.6 321.5,689.9 324.0,692.5 326.4,695.8 328.8,699.3 331.2,702.6 333.6,706.0 336.1,709.9 338.5,713.8 340.9,717.3 343.3,720.6 345.8,723.5 348.2,726.4 350.6,729.7 353.0,733.0 355.4,735.7 358.0,739.0 359.9,742.2 362.0,745.9 364.6,749.9 366.6,752.5 368.8,755.3 371.2,758.2 373.6,761.0 376.0,763.7 378.3,766.2 380.6,768.7 383.0,771.1 385.3,773.3 387.6,775.2 389.9,776.8 392.2,778.1 394.4,779.2 396.7,780.2 399.0,781.0 401.3,781.6 403.7,782.1 406.1,782.4 408.4,782.6 410.6,782.7 413.1,782.6 415.5,782.3 417.8,781.9 420.0,781.5 422.2,781.1 424.3,780.7 426.4,780.2 428.5,779.6 430.6,779.0 432.8,778.3 434.9,777.5 437.0,776.7 439.1,775.7 441.2,774.7 443.3,773.6 445.4,772.4 447.5,771.2 449.7,769.9 451.9,768.6 454.0,767.3 456.1,766.1 458.2,765.0 460.3,763.8 462.4,762.7 464.5,761.5 466.7,760.4 468.9,759.2 471.0,758.0 473.1,756.7 475.2,755.5 477.3,754.2 479.4,752.9 481.5,751.7 483.7,750.5 485.9,749.4 488.0,748.2 490.1,747.0 492.2,745.9 494.2,744.7 496.3,743.6 498.5,742.5 500.7,741.4 502.9,740.3 504.8,739.3 507.3,737.6 510.0,736.0 511.6,735.4 513.3,734.7 515.2,734.1 517.4,733.6 520.0,733.0 521.6,732.7 523.4,732.4 525.3,732.1 527.2,731.8 529.3,731.5 531.4,731.3 533.6,731.0 535.8,730.9 538.0,730.7 539.9,730.6 541.9,730.5 543.9,730.5 546.0,730.4 548.1,730.4 550.2,730.4 552.3,730.4 554.4,730.5 556.4,730.5 558.2,730.6 560.0,730.7 562.5,730.9 564.8,731.3 566.9,731.7 568.9,732.1 570.9,732.5 572.9,732.9 575.0,733.2 577.1,733.4 579.3,733.6 581.4,733.8 583.6,733.9 585.7,734.0 587.9,734.0 590.0,734.0 592.1,734.0 594.1,733.9 596.2,733.7 598.2,733.5 600.3,733.4 602.6,733.2 605.0,733.0 606.8,732.9 608.7,732.8 610.7,732.6 612.8,732.5 614.9,732.4 617.0,732.2 619.1,732.1 621.1,731.9 623.1,731.8 625.0,731.7 627.3,731.6 629.7,731.4 632.0,731.3 634.2,731.2 636.4,731.1 638.5,730.9 640.3,730.8 642.0,730.7 644.5,730.4 646.1,730.2 647.7,729.9 650.0,729.7 651.8,729.6 653.9,729.5 656.1,729.5 658.4,729.4 660.7,729.3 663.0,729.3 665.0,729.2 667.2,729.1 669.2,729.0 671.2,728.9 673.1,728.8 675.0,728.7 677.0,728.7 679.0,728.7 681.0,728.8 683.1,728.8 685.1,728.9 687.1,729.0 689.0,729.2 691.3,729.4 693.6,729.7 695.9,730.1 698.0,730.4 700.0,730.7 702.2,731.1 704.2,731.4 706.1,731.8 708.0,732.2 710.4,732.9 712.7,733.6 715.0,734.2 717.3,734.7 719.6,735.1 722.0,735.5 724.0,735.9 726.0,736.3 728.0,736.6 730.0,737.0 732.4,737.5 734.7,737.9 737.0,738.3 739.4,738.7 741.9,739.1 744.0,739.5 745.8,740.0 748.0,740.3 749.6,740.4 751.5,740.5 753.6,740.5 755.8,740.5 758.0,740.5 760.2,740.4 762.5,740.4 764.8,740.2 767.0,740.1 769.0,740.0 771.2,739.9 773.2,739.8 775.1,739.6 777.0,739.5 779.0,739.4 781.0,739.2 783.0,739.1 785.0,739.0 787.0,738.9 789.1,738.7 791.1,738.6 793.0,738.5 795.4,738.4 797.7,738.4 800.0,738.3 802.3,738.1 804.6,737.9 807.0,737.5 808.9,737.1 810.9,736.6 812.9,736.1 815.0,735.5 817.1,734.9 819.2,734.3 821.5,733.6 824.0,733.0 825.9,732.6 828.0,732.2 830.2,731.8 832.3,731.4 834.3,730.9 836.0,730.5 838.4,729.6 840.1,728.6 842.0,727.5 843.8,726.6 845.8,725.6 847.8,724.6 850.0,723.5 851.9,722.6 853.9,721.6 855.9,720.5 858.0,719.5 860.0,718.5 862.0,717.5 864.0,716.4 866.0,715.4 868.0,714.4 870.0,713.5 872.0,712.7 874.0,711.9 876.0,711.3 878.0,710.6 880.0,710.0 882.0,709.4 884.0,708.9 886.1,708.4 888.1,707.9 890.0,707.5 891.8,707.0 893.2,706.6 895.3,706.2 899.0,706.0 900.4,706.0 902.1,705.9 904.0,705.9 906.0,705.9 908.1,705.9 910.4,705.9 912.7,706.0 915.0,706.0 917.4,706.0 919.6,706.0 921.8,706.0 923.9,706.0 925.8,706.0 927.5,706.0 929.0,706.0 932.4,705.8 934.7,705.6 936.4,705.4 938.0,705.1 940.0,705.0 942.1,704.9 944.3,704.9 946.6,704.9 948.9,705.0 951.0,705.1 953.0,705.2 955.4,705.6 957.4,706.1 959.4,706.6 962.0,707.0 963.9,707.1 966.1,707.2 968.4,707.2 970.7,707.2 973.0,707.2 975.2,707.2 977.0,707.3 979.5,707.5 981.5,707.7 983.2,708.0 985.0,708.2 987.3,708.5 989.6,708.8 992.0,709.2 994.2,709.5 996.5,709.9 998.8,710.3 1001.0,710.7 1003.4,711.1 1005.7,711.6 1008.0,712.0 1009.9,712.4 1011.9,712.7 1013.9,713.1 1016.0,713.5 1018.2,713.9 1020.5,714.3 1022.8,714.6 1025.0,715.0 1027.0,715.4 1029.0,715.7 1031.0,716.0 1033.0,716.4 1035.2,716.8 1037.6,717.2 1039.9,717.6 1042.0,718.0 1044.4,718.4 1046.6,718.8 1049.0,719.2 1051.1,719.6 1053.4,720.2 1055.8,720.7 1058.0,721.2 1060.1,721.7 1062.1,722.1 1064.0,722.6 1066.0,723.0 1068.0,723.5 1070.0,723.9 1072.0,724.4 1074.0,724.8 1076.0,725.2 1078.0,725.6 1080.0,726.1 1082.0,726.5 1083.8,727.0 1085.6,727.5 1087.5,728.0 1090.0,728.3 1091.8,728.4 1093.9,728.5 1096.1,728.5 1098.4,728.5 1100.7,728.4 1103.0,728.4 1105.0,728.3 1107.2,728.2 1109.4,728.1 1111.5,727.9 1113.5,727.8 1115.3,727.6 1117.0,727.5 1119.7,727.2 1121.9,727.0 1124.0,726.7 1126.0,726.4 1127.9,726.0 1130.0,725.5 1131.9,725.1 1133.9,724.6 1136.0,724.1 1138.0,723.5 1140.0,722.8 1142.1,721.9 1144.1,721.0 1146.0,720.2 1148.4,719.3 1150.6,718.5 1153.0,717.4 1154.9,716.3 1156.9,715.1 1158.9,713.8 1161.0,712.5 1163.2,711.3 1165.4,710.0 1167.7,708.8 1170.0,707.5 1172.3,706.2 1174.6,705.0 1176.8,703.8 1179.0,702.5 1181.0,701.3 1183.0,700.0 1185.0,698.8 1187.0,697.5 1189.2,696.1 1191.6,694.7 1193.9,693.3 1196.0,692.0 1198.6,690.3 1201.0,688.8 1203.0,687.5 1206.0,685.5" fill="none" stroke="#ff0000" stroke-width="3" stroke-linejoin="round"/>
</g>
<line x1="1212.5" y1="568.6" x2="1264" y2="423" stroke="#ff0000" stroke-width="6" stroke-linecap="round"/><polygon points="1276.6,389 1253.2,418.5 1276,426.6" fill="#ff0000"/>
<rect x="1529" y="562" width="62" height="17" fill="#000"/><rect x="1529" y="523" width="62" height="17" fill="#000"/><rect x="1529" y="500" width="62" height="17" fill="#000"/><rect x="24" y="11" width="309" height="11" fill="#fff"/><polygon points="8,12 19,12 13.5,18" fill="#000"/><text x="24.57" y="21" fill="#000" font-size="14" textLength="78.74" lengthAdjust="spacingAndGlyphs">XAUUSD-,H4</text><text x="112.07" y="21" fill="#000" font-size="14" textLength="52.06" lengthAdjust="spacingAndGlyphs">1836.34</text><text x="167.99" y="21" fill="#000" font-size="14" textLength="51.13" lengthAdjust="spacingAndGlyphs">1838.01</text><text x="224.17" y="21" fill="#000" font-size="14" textLength="52.26" lengthAdjust="spacingAndGlyphs">1830.94</text><text x="279.87" y="21" fill="#000" font-size="14" textLength="52.26" lengthAdjust="spacingAndGlyphs">1835.52</text><text x="1533.66" y="28" fill="#000" font-size="14" textLength="52.47" lengthAdjust="spacingAndGlyphs">1963.10</text><text x="1533.66" y="93" fill="#000" font-size="14" textLength="52.47" lengthAdjust="spacingAndGlyphs">1946.10</text><text x="1533.66" y="158" fill="#000" font-size="14" textLength="52.47" lengthAdjust="spacingAndGlyphs">1929.10</text><text x="1533.66" y="223" fill="#000" font-size="14" textLength="52.47" lengthAdjust="spacingAndGlyphs">1912.10</text><text x="1533.66" y="288" fill="#000" font-size="14" textLength="52.47" lengthAdjust="spacingAndGlyphs">1894.85</text><text x="1533.66" y="353" fill="#000" font-size="14" textLength="52.47" lengthAdjust="spacingAndGlyphs">1877.85</text><text x="1533.66" y="418" fill="#000" font-size="14" textLength="52.47" lengthAdjust="spacingAndGlyphs">1860.85</text><text x="1533.66" y="483" fill="#000" font-size="14" textLength="52.47" lengthAdjust="spacingAndGlyphs">1843.85</text><text x="1533.66" y="548" fill="#000" font-size="14" textLength="52.47" lengthAdjust="spacingAndGlyphs">1826.60</text><text x="1533.66" y="613" fill="#000" font-size="14" textLength="52.47" lengthAdjust="spacingAndGlyphs">1809.60</text><text x="1533.97" y="514" fill="#fff" font-size="14" textLength="52.16" lengthAdjust="spacingAndGlyphs">1835.52</text><text x="1533.97" y="537" fill="#fff" font-size="14" textLength="52.16" lengthAdjust="spacingAndGlyphs">1830.00</text><text x="1533.97" y="576" fill="#fff" font-size="14" textLength="52.16" lengthAdjust="spacingAndGlyphs">1820.00</text><text x="1530.25" y="660" fill="#000" font-size="14" textLength="36.80" lengthAdjust="spacingAndGlyphs">7.729</text><text x="1531.30" y="696" fill="#000" font-size="14" textLength="27.25" lengthAdjust="spacingAndGlyphs">0.00</text><text x="1530.06" y="792" fill="#000" font-size="14" textLength="49.45" lengthAdjust="spacingAndGlyphs">-18.141</text><text x="8.96" y="662" fill="#000" font-size="13.5" textLength="174.93" lengthAdjust="spacingAndGlyphs">MACD(12,26,9) 3.687 0.965</text><text x="3.40" y="814" fill="#000" font-size="14" textLength="77.28" lengthAdjust="spacingAndGlyphs">26 Jan 2023</text><text x="131.50" y="814" fill="#000" font-size="14" textLength="80.97" lengthAdjust="spacingAndGlyphs">30 Jan 16:00</text><text x="258.98" y="814" fill="#000" font-size="14" textLength="75.96" lengthAdjust="spacingAndGlyphs">2 Feb 08:00</text><text x="387.18" y="814" fill="#000" font-size="14" textLength="75.96" lengthAdjust="spacingAndGlyphs">7 Feb 00:00</text><text x="515.69" y="814" fill="#000" font-size="14" textLength="75.66" lengthAdjust="spacingAndGlyphs">9 Feb 16:00</text><text x="643.89" y="814" fill="#000" font-size="14" textLength="83.23" lengthAdjust="spacingAndGlyphs">14 Feb 08:00</text><text x="772.10" y="814" fill="#000" font-size="14" textLength="82.92" lengthAdjust="spacingAndGlyphs">17 Feb 00:00</text><text x="899.58" y="814" fill="#000" font-size="14" textLength="83.94" lengthAdjust="spacingAndGlyphs">21 Feb 16:00</text><text x="1026.98" y="814" fill="#000" font-size="14" textLength="84.04" lengthAdjust="spacingAndGlyphs">24 Feb 08:00</text><text x="1155.18" y="814" fill="#000" font-size="14" textLength="75.95" lengthAdjust="spacingAndGlyphs">1 Mar 00:00</text>
</svg>
</body></html>
